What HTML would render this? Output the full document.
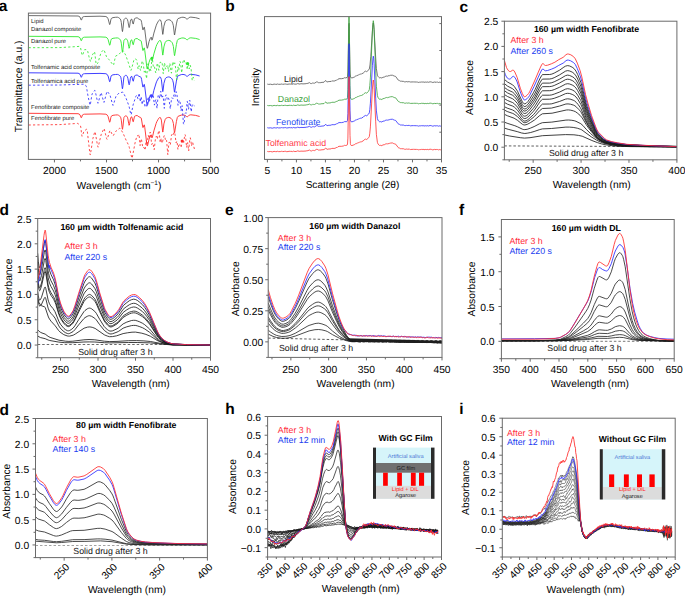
<!DOCTYPE html><html><head><meta charset="utf-8"><style>html,body{margin:0;padding:0;background:#fff;}svg{display:block;font-family:"Liberation Sans", sans-serif;text-rendering:geometricPrecision;}</style></head><body>
<svg width="685" height="596" viewBox="0 0 685 596">
<rect width="685" height="596" fill="#fff"/>
<text x="-1.2" y="10.6" font-size="15.5" font-weight="bold">a</text>
<text x="225.2" y="10.5" font-size="15.5" font-weight="bold">b</text>
<text x="459.6" y="11.8" font-size="15.5" font-weight="bold">c</text>
<text x="-0.5" y="215.2" font-size="15.5" font-weight="bold">d</text>
<text x="225" y="214.9" font-size="15.5" font-weight="bold">e</text>
<text x="459" y="214.6" font-size="15.5" font-weight="bold">f</text>
<text x="-0.5" y="414.7" font-size="15.5" font-weight="bold">d</text>
<text x="225.3" y="414.2" font-size="15.5" font-weight="bold">h</text>
<text x="459.2" y="413.9" font-size="15.5" font-weight="bold">i</text>
<clipPath id="ca"><rect x="28.4" y="13.1" width="182.2" height="146.3"/></clipPath>
<polyline points="28.6,15.6 78.0,16.0 79.0,16.3 80.0,17.1 81.2,20.1 81.4,20.0 81.7,19.5 82.4,17.3 83.2,16.8 84.4,16.5 100.0,16.2 105.9,16.5 106.9,17.0 108.1,18.8 109.6,24.5 109.8,24.5 110.1,23.8 110.8,19.9 111.3,18.5 112.0,18.0 113.0,17.6 115.4,17.3 117.4,17.2 118.6,17.6 119.8,18.5 120.3,19.0 120.8,20.1 121.3,22.5 122.1,29.5 122.3,31.1 122.5,31.6 123.0,28.3 123.8,20.6 124.0,19.6 124.7,18.7 125.5,18.2 126.2,18.1 126.7,18.5 127.4,19.5 127.9,21.2 128.7,25.9 129.1,27.6 129.4,27.3 129.6,26.2 130.4,21.2 130.9,19.6 131.8,19.1 132.8,23.2 133.1,24.0 133.3,24.0 134.5,18.7 135.8,18.0 137.2,17.8 138.9,19.1 140.4,19.7 141.1,20.2 141.6,22.3 142.8,29.7 143.1,29.9 144.1,27.2 144.3,27.2 144.8,29.9 146.8,46.3 147.2,48.3 147.5,48.1 147.7,47.4 149.0,41.7 150.4,38.0 151.2,37.1 151.4,37.4 151.9,40.2 152.4,39.5 153.9,33.1 156.1,25.8 156.8,24.0 158.0,21.8 158.7,20.6 159.5,19.9 160.0,19.7 160.5,20.0 161.4,22.4 162.7,34.3 162.9,34.4 163.1,33.0 163.9,26.2 165.1,22.0 165.6,21.0 166.1,20.5 167.6,19.9 168.8,19.7 170.0,20.0 171.2,20.8 172.0,21.7 172.7,23.2 173.4,25.8 174.2,32.8 174.4,34.5 174.6,35.0 176.4,23.9 177.3,19.8 178.1,18.6 181.3,17.4 183.0,17.2 185.2,17.7 186.6,18.9 187.4,19.2 188.8,17.7 189.8,17.3 190.8,17.1 195.7,17.7 199.6,18.8" fill="none" stroke="#4a4a4a" stroke-width="0.8" stroke-linejoin="round"/>
<polyline points="28.6,36.3 78.0,36.7 79.0,37.0 80.0,37.8 81.2,40.8 81.4,40.7 81.7,40.2 82.4,38.0 83.2,37.5 84.4,37.2 100.0,36.9 105.9,37.2 106.9,37.7 108.1,39.5 109.6,45.2 109.8,45.2 110.1,44.5 110.8,40.6 111.3,39.2 112.0,38.7 113.0,38.3 115.4,38.0 117.4,37.9 118.6,38.3 119.8,39.2 120.3,39.7 120.8,40.8 121.3,43.2 122.1,50.2 122.3,51.8 122.5,52.3 123.0,49.0 123.8,41.3 124.0,40.3 124.7,39.4 125.5,38.9 126.2,38.8 126.7,39.2 127.4,40.2 127.9,41.9 128.7,46.6 129.1,48.3 129.4,48.0 129.6,46.9 130.4,41.9 130.9,40.3 131.8,39.8 132.8,43.9 133.1,44.7 133.3,44.7 134.5,39.4 135.8,38.7 137.2,38.5 138.9,39.8 140.4,40.4 141.1,40.9 141.6,43.0 142.8,50.4 143.1,50.6 144.1,47.9 144.3,47.9 144.8,50.6 146.8,67.0 147.2,69.0 147.5,68.8 147.7,68.1 149.0,62.4 150.4,58.7 151.2,57.8 151.4,58.1 151.9,60.9 152.4,60.2 153.9,53.8 156.1,46.5 156.8,44.7 158.0,42.5 158.7,41.3 159.5,40.6 160.0,40.4 160.5,40.7 161.4,43.1 162.7,55.0 162.9,55.1 163.1,53.7 163.9,46.9 165.1,42.7 165.6,41.7 166.1,41.2 167.6,40.6 168.8,40.4 170.0,40.7 171.2,41.5 172.0,42.4 172.7,43.9 173.4,46.5 174.2,53.5 174.4,55.2 174.6,55.7 176.4,44.6 177.3,40.5 178.1,39.3 181.3,38.1 183.0,37.9 185.2,38.4 186.6,39.6 187.4,39.9 188.8,38.4 189.8,38.0 190.8,37.8 195.7,38.4 199.6,39.5" fill="none" stroke="#2ee82e" stroke-width="0.9" stroke-linejoin="round"/>
<polyline points="28.6,72.8 78.0,73.2 79.0,73.5 80.0,74.3 81.2,77.3 81.4,77.2 81.7,76.7 82.4,74.5 83.2,74.0 84.4,73.7 100.0,73.4 105.9,73.7 106.9,74.2 108.1,76.0 109.6,81.7 109.8,81.7 110.1,81.0 110.8,77.1 111.3,75.7 112.0,75.2 113.0,74.8 115.4,74.5 117.4,74.4 118.6,74.8 119.8,75.7 120.3,76.2 120.8,77.3 121.3,79.7 122.1,86.7 122.3,88.3 122.5,88.8 123.0,85.5 123.8,77.8 124.0,76.8 124.7,75.9 125.5,75.4 126.2,75.3 126.7,75.7 127.4,76.7 127.9,78.4 128.7,83.1 129.1,84.8 129.4,84.5 129.6,83.4 130.4,78.4 130.9,76.8 131.8,76.3 132.8,80.4 133.1,81.2 133.3,81.2 134.5,75.9 135.8,75.2 137.2,75.0 138.9,76.3 140.4,76.9 141.1,77.4 141.6,79.5 142.8,86.9 143.1,87.1 144.1,84.4 144.3,84.4 144.8,87.1 146.8,103.5 147.2,105.5 147.5,105.3 147.7,104.6 149.0,98.9 150.4,95.2 151.2,94.3 151.4,94.6 151.9,97.4 152.4,96.7 153.9,90.3 156.1,83.0 156.8,81.2 158.0,79.0 158.7,77.8 159.5,77.1 160.0,76.9 160.5,77.2 161.4,79.6 162.7,91.5 162.9,91.6 163.1,90.2 163.9,83.4 165.1,79.2 165.6,78.2 166.1,77.7 167.6,77.1 168.8,76.9 170.0,77.2 171.2,78.0 172.0,78.9 172.7,80.4 173.4,83.0 174.2,90.0 174.4,91.7 174.6,92.2 176.4,81.1 177.3,77.0 178.1,75.8 181.3,74.6 183.0,74.4 185.2,74.9 186.6,76.1 187.4,76.4 188.8,74.9 189.8,74.5 190.8,74.3 195.7,74.9 199.6,76.0" fill="none" stroke="#2a2aff" stroke-width="0.9" stroke-linejoin="round"/>
<polyline points="28.6,113.3 78.0,113.7 79.0,114.0 80.0,114.8 81.2,117.8 81.4,117.7 81.7,117.2 82.4,115.0 83.2,114.5 84.4,114.2 100.0,113.9 105.9,114.2 106.9,114.7 108.1,116.5 109.6,122.2 109.8,122.2 110.1,121.5 110.8,117.6 111.3,116.2 112.0,115.7 113.0,115.3 115.4,115.0 117.4,114.9 118.6,115.3 119.8,116.2 120.3,116.7 120.8,117.8 121.3,120.2 122.1,127.2 122.3,128.8 122.5,129.3 123.0,126.0 123.8,118.3 124.0,117.3 124.7,116.4 125.5,115.9 126.2,115.8 126.7,116.2 127.4,117.2 127.9,118.9 128.7,123.6 129.1,125.3 129.4,125.0 129.6,123.9 130.4,118.9 130.9,117.3 131.8,116.8 132.8,120.9 133.1,121.7 133.3,121.7 134.5,116.4 135.8,115.7 137.2,115.5 138.9,116.8 140.4,117.4 141.1,117.9 141.6,120.0 142.8,127.4 143.1,127.6 144.1,124.9 144.3,124.9 144.8,127.6 146.8,144.0 147.2,146.0 147.5,145.8 147.7,145.1 149.0,139.4 150.4,135.7 151.2,134.8 151.4,135.1 151.9,137.9 152.4,137.2 153.9,130.8 156.1,123.5 156.8,121.7 158.0,119.5 158.7,118.3 159.5,117.6 160.0,117.4 160.5,117.7 161.4,120.1 162.7,132.0 162.9,132.1 163.1,130.7 163.9,123.9 165.1,119.7 165.6,118.7 166.1,118.2 167.6,117.6 168.8,117.4 170.0,117.7 171.2,118.5 172.0,119.4 172.7,120.9 173.4,123.5 174.2,130.5 174.4,132.2 174.6,132.7 176.4,121.6 177.3,117.5 178.1,116.3 181.3,115.1 183.0,114.9 185.2,115.4 186.6,116.6 187.4,116.9 188.8,115.4 189.8,115.0 190.8,114.8 195.7,115.4 199.6,116.5" fill="none" stroke="#ff2a2a" stroke-width="0.9" stroke-linejoin="round"/>
<polyline points="28.6,47.7 60.0,47.6 79.2,46.4 80.1,47.2 80.6,48.0 81.9,54.3 82.4,55.4 82.6,55.1 84.3,50.4 84.7,49.6 85.0,49.6 87.2,49.9 87.3,50.1 87.7,51.2 89.3,58.0 90.4,61.4 90.5,61.5 90.7,61.3 90.8,61.0 92.4,54.9 94.4,51.7 94.5,51.9 94.8,53.0 96.0,63.2 96.3,64.3 96.5,64.5 97.6,63.4 98.0,62.6 101.0,52.7 101.3,52.2 103.6,49.7 104.1,50.1 106.3,56.2 106.7,57.1 109.0,59.6 113.3,65.3 113.7,64.5 115.3,57.2 115.7,56.0 115.8,55.9 118.3,55.0 121.2,51.9 122.7,50.6 123.0,50.5 123.4,51.0 125.8,55.3 130.9,70.3 131.0,70.3 131.1,70.2 131.3,69.8 133.8,60.4 134.3,59.3 135.3,58.8 135.6,58.8 136.8,60.4 138.1,69.0 139.0,65.7 139.2,65.7 140.0,68.3 140.3,69.8 140.5,70.4 140.7,70.4 141.1,69.5 141.9,62.1 142.2,60.9 142.3,61.0 143.2,63.5 144.3,72.2 145.2,70.3 145.4,70.1 145.5,70.5 146.1,75.8 146.6,78.6 147.7,64.4 147.9,63.8 148.1,64.8 149.0,71.5 149.1,71.5 149.8,68.1 150.1,68.2 150.8,70.8 150.9,70.6 152.0,57.7 152.3,58.0 153.4,67.4 153.5,67.4 154.1,66.8 154.5,66.7 155.5,72.2 155.7,72.9 156.3,72.0 157.0,64.9 157.4,63.1 157.7,63.8 158.8,70.3 159.2,68.4 160.0,62.4 160.7,62.2 161.1,63.4 161.3,63.1 162.1,62.9 162.2,63.4 163.2,73.7 163.3,73.7 164.3,63.3 164.4,62.8 164.9,64.5 165.4,68.7 165.6,69.1 166.5,65.9 166.9,66.4 167.1,66.4 167.5,65.3 167.6,65.5 168.6,71.6 169.3,65.7 169.7,63.3 169.8,63.4 170.4,65.7 170.9,71.1 171.4,73.2 171.5,73.1 172.6,61.8 172.9,61.9 173.0,62.2 173.7,65.1 174.7,62.8 174.8,62.8 175.2,64.9 175.6,68.1 176.3,77.4 176.7,79.8 177.9,66.9 178.0,66.8 178.1,67.3 178.7,70.3 178.8,70.4 179.8,62.0 179.9,61.3 180.2,61.6 180.5,62.2 180.6,63.0 181.6,72.3 181.7,72.8 182.1,69.7 182.8,62.7 183.7,59.4 183.8,59.4 184.2,60.3 184.8,63.2 185.9,62.6 186.1,62.9 187.3,69.5 188.1,63.9 188.4,63.7 188.5,64.2 189.2,68.9 190.3,65.2 191.1,68.9 192.2,80.2 193.2,77.2 193.3,77.2 194.3,80.6" fill="none" stroke="#2ee82e" stroke-width="0.85" stroke-dasharray="2.2 2.2" stroke-linejoin="round"/>
<polyline points="28.6,85.2 59.9,85.0 83.9,84.2 86.0,85.7 86.4,86.6 88.2,97.1 89.9,104.6 90.0,105.0 90.2,105.1 90.4,104.3 91.7,96.0 92.1,94.1 92.4,93.5 94.7,90.4 95.0,90.5 95.3,91.4 97.6,102.3 97.9,103.2 98.1,103.2 98.3,102.7 100.7,93.2 101.0,92.7 101.1,92.7 101.4,93.4 103.7,102.0 103.9,102.3 104.0,102.4 104.1,102.2 106.8,92.0 107.1,91.4 107.2,91.3 109.7,94.6 110.0,95.1 112.7,105.0 113.0,105.4 113.3,105.1 115.8,96.8 116.2,95.9 119.1,93.0 122.8,92.1 123.2,92.5 125.9,97.8 128.6,105.0 129.2,106.9 130.7,114.1 131.0,114.7 131.3,114.1 133.1,104.9 135.8,96.5 136.2,95.8 136.8,95.2 136.9,95.2 137.9,98.8 138.0,98.8 139.0,93.4 139.2,93.2 140.3,101.8 141.0,97.4 141.1,96.8 141.2,96.9 142.2,104.6 143.3,99.5 143.9,100.4 145.0,106.8 145.8,104.9 146.1,105.1 146.8,106.5 146.9,106.2 147.9,98.7 148.4,96.7 148.8,98.1 149.5,101.7 150.5,94.8 150.6,94.5 151.6,98.7 152.2,95.6 152.7,94.1 153.3,96.1 154.4,105.1 154.9,103.3 155.5,100.2 155.9,99.5 157.0,108.3 158.1,95.8 158.7,94.7 159.8,98.5 160.7,91.3 160.9,91.3 161.8,98.1 162.8,96.0 163.0,95.9 163.2,96.7 164.3,108.4 165.4,96.1 166.1,94.8 166.8,97.0 167.2,99.3 168.3,97.5 169.2,100.3 169.9,106.4 170.3,108.8 171.5,98.9 171.9,97.8 172.1,97.8 172.6,98.3 173.1,98.8 173.9,94.9 174.2,94.5 175.0,96.8 176.1,91.6 176.2,91.7 176.9,93.8 178.0,105.3 178.2,105.1 179.1,100.3 179.3,100.4 179.8,101.1 180.0,101.4 181.1,110.8 181.8,106.6 182.0,105.7 182.2,105.7 183.4,123.5 183.8,124.3 184.1,123.2 184.3,121.9 185.0,113.6 185.8,112.7 186.1,113.3 187.2,101.4 187.3,101.3 187.4,101.8 188.4,109.4 188.6,109.0 189.5,100.3 189.7,100.1 189.9,100.6 191.2,111.8 192.3,104.2 194.5,105.9" fill="none" stroke="#2a2aff" stroke-width="0.85" stroke-dasharray="2.2 2.2" stroke-linejoin="round"/>
<polyline points="28.6,125.0 59.9,124.6 77.7,123.4 78.0,123.5 80.5,125.9 80.9,127.8 81.7,134.7 82.0,136.1 82.1,136.3 82.3,136.1 83.7,132.0 84.1,131.1 84.4,130.8 86.7,129.2 86.9,129.3 87.3,131.3 89.9,153.6 90.2,154.9 90.3,154.9 90.4,154.5 92.9,138.6 94.7,131.9 94.9,131.7 95.0,131.8 95.3,132.7 97.6,146.0 97.8,146.6 98.1,147.2 98.3,146.5 101.1,134.8 103.9,128.5 104.0,128.5 104.3,129.1 106.6,138.6 106.8,139.0 107.1,139.4 107.3,138.9 109.7,131.1 110.0,130.5 110.2,130.5 110.4,130.7 112.7,135.5 113.0,135.7 113.3,135.5 115.8,131.4 116.2,130.9 119.6,128.3 119.9,128.2 120.2,128.4 123.0,133.0 126.0,140.0 128.8,145.6 129.3,147.4 131.7,157.6 132.0,158.2 132.1,158.1 132.4,157.0 135.0,143.1 136.9,136.0 137.6,135.8 138.0,136.0 138.3,135.2 139.0,134.3 140.1,145.6 141.2,138.8 141.6,140.1 142.8,147.6 144.0,147.4 145.1,150.1 146.1,140.8 146.2,140.5 146.3,140.8 147.2,144.6 148.1,135.8 148.3,135.3 149.1,138.5 149.8,133.8 150.2,132.1 150.6,134.2 151.6,144.1 151.7,144.5 152.7,143.0 153.1,143.5 154.2,149.7 155.5,138.2 156.3,136.3 157.4,139.0 158.5,131.1 158.9,130.5 159.1,131.0 160.2,142.5 161.2,138.5 161.3,138.6 161.8,142.0 162.3,143.2 163.5,137.5 164.3,135.5 164.5,135.6 164.9,136.9 165.6,141.3 166.6,140.4 167.8,154.7 168.9,143.0 169.2,142.1 169.3,142.0 170.3,144.7 170.4,144.3 171.5,135.1 172.1,134.2 172.2,134.2 173.2,135.4 173.9,132.7 174.3,132.0 174.9,133.6 175.0,134.3 176.0,142.5 176.1,142.9 176.8,141.2 176.9,141.3 177.1,142.0 177.9,149.3 178.0,149.4 179.0,143.8 179.1,143.6 179.7,144.5 180.0,144.7 180.2,145.7 181.1,147.6 182.2,141.0 182.6,140.0 183.7,142.4 184.8,134.7 185.0,134.5 185.2,134.7 185.5,135.7 186.6,147.4 187.6,142.6 188.7,151.0 189.8,138.8 190.2,137.8 190.3,137.8 190.8,140.1 191.5,145.9 192.4,142.2 192.6,142.1 194.5,149.3" fill="none" stroke="#ff2a2a" stroke-width="0.85" stroke-dasharray="2.2 2.2" stroke-linejoin="round"/>
<circle cx="187.6" cy="63.5" r="1.6" fill="#2ee82e"/><circle cx="152" cy="58" r="1.3" fill="#2ee82e"/><circle cx="182.2" cy="141" r="1.6" fill="#ff2a2a"/>
<rect x="28.4" y="13.1" width="182.2" height="146.3" fill="none" stroke="#6a6a6a" stroke-width="1"/>
<path d="M54.43 159.4v3 M106.49 159.4v3 M158.54 159.4v3 M210.6 159.4v3 M80.46 159.4v2 M132.51 159.4v2 M184.57 159.4v2" stroke="#6a6a6a" stroke-width="1" fill="none"/>
<text x="54.43" y="174.1" text-anchor="middle" font-size="10.3">2000</text>
<text x="106.49" y="174.1" text-anchor="middle" font-size="10.3">1500</text>
<text x="158.54" y="174.1" text-anchor="middle" font-size="10.3">1000</text>
<text x="210.6" y="174.1" text-anchor="middle" font-size="10.3">500</text>
<text x="31.1" y="22.7" font-size="5.9" fill="#222">Lipid</text>
<text x="31.1" y="31" font-size="5.9" fill="#222">Danazol composite</text>
<text x="31.1" y="43.1" font-size="5.9" fill="#222">Danazol pure</text>
<text x="31.1" y="68.7" font-size="5.9" fill="#222">Tolfenamic acid composite</text>
<text x="31.1" y="82.5" font-size="5.9" fill="#222">Tolfenamica acid pure</text>
<text x="31.1" y="108.7" font-size="5.9" fill="#222">Fenofibrate composite</text>
<text x="31.1" y="120.4" font-size="5.9" fill="#222">Fenofibrate pure</text>
<text transform="translate(22,86.4) rotate(-90)" text-anchor="middle" font-size="10.3">Transmittance (a.u.)</text>
<text x="119" y="188.6" text-anchor="middle" font-size="10.3">Wavelength (cm<tspan dy="-4" font-size="6.5">−1</tspan><tspan dy="4">)</tspan></text>
<clipPath id="cb"><rect x="264.5" y="16.6" width="177" height="142.8"/></clipPath>
<polyline points="267.3,84.1 268.7,84.4 270.6,84.2 272.3,84.6 274.1,84.1 275.5,84.3 276.0,84.5 277.4,84.0 278.4,84.3 280.3,84.3 281.5,84.0 282.4,84.3 282.6,84.1 284.0,84.3 284.4,84.1 285.8,84.0 286.3,84.2 288.1,84.3 289.1,83.9 289.2,84.1 290.2,83.9 290.6,84.2 292.0,84.0 292.4,84.2 292.7,84.2 293.7,83.8 294.9,84.2 296.8,84.0 297.6,83.6 299.9,84.1 300.9,83.7 303.0,83.9 306.1,83.7 306.9,83.4 307.9,83.4 309.4,82.6 310.2,83.3 311.4,83.6 312.4,83.0 312.7,83.2 313.1,83.3 313.5,83.1 314.5,83.2 316.6,81.9 317.2,81.9 318.6,82.7 319.5,82.6 319.9,82.9 320.9,82.5 324.0,82.2 325.0,81.1 325.8,80.5 326.5,81.3 326.7,81.8 327.1,82.0 328.1,81.6 329.1,81.7 330.0,81.3 331.0,81.6 331.6,81.0 333.1,80.9 334.1,81.2 335.1,80.5 335.9,80.6 336.4,80.0 337.2,80.0 337.8,79.4 339.0,78.7 341.7,78.7 343.6,78.3 344.6,77.7 345.6,77.9 347.1,77.5 347.5,76.8 347.9,72.0 348.9,24.9 349.1,23.3 350.0,69.8 350.2,74.0 350.6,77.2 351.2,77.9 353.1,77.7 353.9,77.1 354.7,76.9 355.7,76.0 356.3,76.1 356.8,75.5 357.8,75.3 358.2,74.9 358.6,74.9 359.4,74.4 359.7,74.5 360.5,74.1 361.5,74.0 361.7,73.8 363.2,73.1 365.0,71.3 365.6,71.1 366.4,71.6 366.9,71.5 368.9,69.7 369.3,69.1 370.0,64.9 370.8,56.4 372.6,27.8 373.0,24.1 373.3,23.0 373.7,24.9 374.1,29.5 375.7,58.0 376.4,68.7 377.4,75.2 378.0,76.4 378.8,77.3 379.4,77.8 380.3,77.6 381.9,78.0 382.9,77.3 384.4,77.0 385.2,76.4 386.0,76.4 386.4,76.1 387.5,76.2 389.1,75.5 389.3,75.7 390.4,75.3 392.4,75.2 393.0,75.7 393.3,75.8 393.9,75.5 394.3,76.1 394.9,76.4 395.1,76.3 395.7,76.5 398.2,80.0 398.8,80.4 399.0,80.3 399.4,80.6 399.8,80.6 400.7,81.3 401.5,81.2 403.1,81.4 403.3,81.3 404.2,81.8 404.8,81.8 405.8,81.8 406.7,81.5 406.9,81.8 407.7,81.8 408.1,81.6 409.1,81.9 409.3,81.7 410.0,81.8 410.4,82.0 413.5,81.9 413.9,82.1 414.9,81.9 416.1,82.1 416.5,82.0 417.6,82.1 418.4,82.4 419.0,82.3 419.2,82.1 419.6,82.2 420.0,81.9 420.1,82.1 420.9,82.2 421.5,82.0 422.1,82.2 423.1,81.8 424.0,82.4 425.2,82.0 426.2,82.3 427.1,81.9 428.3,82.3 430.1,81.8 431.4,82.0 432.8,82.5 434.5,82.0 436.1,82.3 436.3,82.1 437.6,82.1 438.6,82.5 439.8,82.1 440.7,82.4 441.5,81.9 441.9,82.1" fill="none" stroke="#555555" stroke-width="0.8" clip-path="url(#cb)" stroke-linejoin="round"/>
<polyline points="267.3,105.4 268.7,105.7 270.6,105.5 272.3,105.9 274.1,105.4 275.5,105.6 276.0,105.8 277.4,105.3 278.4,105.6 280.3,105.6 281.5,105.3 282.4,105.6 282.6,105.4 284.0,105.6 284.4,105.4 285.8,105.3 286.3,105.5 288.1,105.6 289.1,105.2 289.2,105.4 290.2,105.2 290.6,105.5 292.0,105.3 292.4,105.5 292.7,105.6 293.7,105.1 294.9,105.5 296.8,105.3 297.6,104.9 299.9,105.4 300.9,105.0 303.0,105.2 306.1,105.0 306.9,104.7 307.9,104.7 309.4,104.0 310.2,104.6 311.4,104.9 312.4,104.3 312.7,104.6 313.1,104.6 313.5,104.4 314.5,104.5 316.6,103.2 317.2,103.3 318.6,104.0 319.5,104.0 319.9,104.2 320.9,103.8 324.0,103.6 325.0,102.5 325.8,101.9 326.5,102.7 326.7,103.2 327.1,103.3 328.1,102.9 329.1,103.1 330.0,102.7 331.0,102.9 331.6,102.4 333.1,102.2 334.1,102.5 335.1,101.9 335.9,102.0 336.4,101.4 337.2,101.4 337.8,100.8 339.0,100.2 341.7,100.1 343.6,99.7 344.6,99.2 346.3,99.2 347.1,98.9 347.5,97.5 347.9,89.3 348.9,7.8 349.1,4.9 350.0,85.3 350.4,96.7 350.6,98.3 351.0,99.1 351.6,99.3 353.1,99.1 353.9,98.5 354.7,98.3 355.7,97.5 356.3,97.5 356.8,96.9 357.8,96.7 358.2,96.3 358.6,96.4 359.4,95.9 359.7,96.0 360.5,95.6 361.5,95.5 361.7,95.3 363.2,94.6 364.2,93.5 365.4,92.7 366.7,93.1 368.5,91.4 369.3,89.6 369.8,85.6 370.4,77.9 372.4,31.9 373.0,22.5 373.3,20.7 373.7,23.3 374.1,29.8 375.7,70.9 376.4,86.3 377.4,95.6 378.0,97.4 378.8,98.7 379.4,99.2 380.1,99.2 380.3,99.1 381.9,99.5 382.9,98.7 384.4,98.4 385.2,97.9 386.0,97.8 386.4,97.5 387.5,97.7 387.9,97.5 388.1,97.6 389.1,97.0 389.3,97.1 390.4,96.8 392.4,96.6 393.0,97.2 393.3,97.2 393.9,97.0 394.3,97.6 394.9,97.9 395.1,97.7 395.7,97.9 398.2,101.3 398.8,101.7 399.0,101.7 399.4,102.0 399.8,102.0 400.7,102.7 401.5,102.6 403.1,102.8 403.3,102.6 404.2,103.1 404.8,103.2 405.8,103.2 406.7,102.9 406.9,103.1 407.7,103.1 408.1,102.9 409.1,103.2 409.3,103.1 410.0,103.2 410.4,103.4 413.5,103.3 413.9,103.4 414.9,103.2 416.1,103.4 416.5,103.3 417.6,103.4 418.4,103.8 419.0,103.7 419.2,103.5 419.6,103.5 420.0,103.2 420.1,103.4 420.9,103.6 421.5,103.3 422.1,103.5 423.1,103.1 424.0,103.8 425.2,103.4 426.2,103.7 427.1,103.3 428.3,103.6 430.1,103.1 431.4,103.3 432.8,103.8 434.5,103.4 436.1,103.6 436.3,103.4 437.6,103.4 438.6,103.8 439.8,103.4 440.7,103.8 441.5,103.3 441.9,103.5" fill="none" stroke="#3aa03a" stroke-width="0.8" clip-path="url(#cb)" stroke-linejoin="round"/>
<polyline points="267.3,127.7 268.7,128.0 270.6,127.8 272.3,128.2 274.1,127.7 275.5,127.9 276.0,128.1 277.4,127.6 278.4,127.9 280.3,127.9 281.5,127.6 282.4,127.9 282.6,127.7 284.0,127.9 284.4,127.7 285.8,127.6 286.3,127.9 288.1,127.9 289.1,127.5 289.2,127.7 290.2,127.5 290.6,127.8 292.0,127.6 292.4,127.8 292.7,127.9 293.7,127.4 294.9,127.9 296.8,127.6 297.6,127.2 299.9,127.7 300.9,127.4 303.0,127.5 306.1,127.3 306.9,127.0 307.9,127.0 309.4,126.3 310.2,126.9 311.4,127.3 312.4,126.7 312.7,126.9 313.1,126.9 313.5,126.7 314.5,126.9 316.6,125.6 317.2,125.6 318.6,126.4 319.5,126.3 319.9,126.5 320.9,126.2 324.0,125.9 325.8,124.3 326.5,125.1 326.7,125.5 327.1,125.7 328.1,125.3 329.1,125.4 330.0,125.1 331.0,125.3 331.6,124.8 333.1,124.6 334.1,124.9 335.1,124.3 335.9,124.4 336.4,123.8 337.2,123.8 337.8,123.2 339.0,122.6 341.7,122.6 343.6,122.2 344.6,121.6 346.3,121.7 347.1,121.4 347.5,120.3 347.9,113.5 348.9,46.0 349.1,43.7 350.0,110.2 350.4,119.7 350.6,120.9 351.2,121.8 353.1,121.6 353.9,121.0 354.7,120.8 355.7,120.0 356.3,120.1 356.8,119.5 357.8,119.3 358.2,118.9 358.6,119.0 359.4,118.5 359.7,118.6 360.5,118.2 361.5,118.2 361.7,117.9 363.2,117.2 364.2,116.1 365.4,115.4 366.7,115.8 368.7,114.0 369.3,112.9 369.8,109.5 370.4,103.2 372.4,65.3 373.0,57.6 373.3,56.2 373.7,58.3 374.1,63.8 375.7,98.1 376.4,110.9 377.4,118.6 378.0,120.2 378.8,121.2 379.4,121.7 380.1,121.7 380.3,121.6 381.9,122.0 382.9,121.2 384.4,121.0 385.2,120.4 386.0,120.3 386.4,120.1 387.5,120.2 387.9,120.0 388.1,120.1 389.1,119.6 389.3,119.7 390.4,119.4 392.4,119.2 393.0,119.7 393.3,119.8 393.9,119.6 394.3,120.1 394.9,120.4 395.1,120.3 395.7,120.5 398.2,123.8 398.8,124.2 399.0,124.1 399.4,124.4 399.8,124.4 400.7,125.1 401.5,125.0 403.1,125.1 403.3,125.0 404.2,125.5 404.8,125.5 405.8,125.6 406.7,125.3 406.9,125.5 407.7,125.5 408.1,125.3 409.1,125.6 409.3,125.4 410.0,125.5 410.4,125.8 413.5,125.6 413.9,125.8 414.9,125.6 416.1,125.8 416.5,125.7 417.6,125.8 418.4,126.1 419.0,126.0 419.2,125.8 419.6,125.9 420.0,125.6 420.1,125.8 420.9,125.9 421.5,125.7 422.1,125.9 423.1,125.5 424.0,126.1 425.2,125.7 426.2,126.0 427.1,125.6 428.3,126.0 430.1,125.5 431.4,125.7 432.8,126.2 434.5,125.7 436.1,126.0 436.3,125.8 437.6,125.8 438.6,126.2 439.8,125.8 440.7,126.1 441.5,125.6 441.9,125.8" fill="none" stroke="#2a2aff" stroke-width="0.8" clip-path="url(#cb)" stroke-linejoin="round"/>
<polyline points="267.3,151.4 268.7,151.7 270.6,151.5 272.3,151.9 274.1,151.4 275.5,151.6 276.0,151.8 277.4,151.3 278.4,151.6 280.3,151.6 281.5,151.3 282.4,151.6 282.6,151.4 284.0,151.6 284.4,151.4 285.8,151.3 286.3,151.6 288.1,151.6 289.1,151.2 289.2,151.4 290.2,151.2 290.6,151.5 292.0,151.3 292.4,151.5 292.7,151.6 293.7,151.1 294.9,151.6 296.8,151.3 297.6,150.9 299.9,151.4 300.9,151.1 303.0,151.2 306.1,151.0 306.9,150.7 307.9,150.7 309.4,150.0 310.2,150.6 311.4,151.0 312.4,150.4 312.7,150.6 313.1,150.6 313.5,150.4 314.5,150.6 316.6,149.3 317.2,149.3 318.6,150.1 319.5,150.0 319.9,150.2 320.9,149.9 324.0,149.6 325.8,148.0 326.5,148.8 326.7,149.2 327.1,149.4 328.1,149.0 329.1,149.1 330.0,148.8 331.0,149.0 331.6,148.5 333.1,148.3 334.1,148.6 335.1,148.0 335.9,148.1 336.4,147.5 337.2,147.5 337.8,146.9 339.0,146.3 341.7,146.3 343.6,145.9 344.6,145.3 345.6,145.5 346.3,145.4 347.1,145.1 347.5,144.1 347.9,138.1 348.9,78.7 349.1,76.6 350.0,135.3 350.4,143.6 350.6,144.7 351.2,145.5 353.1,145.3 353.9,144.7 354.7,144.5 355.7,143.7 356.3,143.8 356.8,143.2 357.8,143.0 358.2,142.6 358.6,142.7 359.4,142.2 359.7,142.3 360.5,141.9 361.5,141.9 361.7,141.6 363.2,140.9 364.2,139.8 365.4,139.1 366.7,139.5 368.7,137.7 369.3,136.6 369.8,133.2 370.4,126.9 372.4,89.1 373.0,81.3 373.3,80.0 373.7,82.1 374.1,87.6 375.7,121.8 376.4,134.6 377.4,142.4 378.0,143.9 378.8,144.9 379.4,145.4 380.1,145.4 380.3,145.3 381.9,145.7 382.9,144.9 384.4,144.7 385.2,144.1 386.0,144.0 386.4,143.8 387.5,143.9 387.9,143.7 388.1,143.8 389.1,143.3 389.3,143.4 390.4,143.1 392.4,142.9 393.0,143.4 393.3,143.5 393.9,143.3 394.3,143.8 394.9,144.1 395.1,144.0 395.7,144.2 398.2,147.5 398.8,147.9 399.0,147.8 399.4,148.1 399.8,148.1 400.7,148.8 401.5,148.7 403.1,148.8 403.3,148.7 404.2,149.2 404.8,149.2 405.8,149.3 406.7,149.0 406.9,149.2 407.7,149.2 408.1,149.0 409.1,149.3 409.3,149.1 410.0,149.2 410.4,149.5 413.5,149.3 413.9,149.5 414.9,149.3 416.1,149.5 416.5,149.4 417.6,149.5 418.4,149.8 419.0,149.7 419.2,149.5 419.6,149.6 420.0,149.3 420.1,149.5 420.9,149.6 421.5,149.4 422.1,149.6 423.1,149.2 424.0,149.8 425.2,149.4 426.2,149.7 427.1,149.3 428.3,149.7 430.1,149.2 431.4,149.4 432.8,149.9 434.5,149.4 436.1,149.7 436.3,149.5 437.6,149.5 438.6,149.9 439.8,149.5 440.7,149.8 441.5,149.3 441.9,149.5" fill="none" stroke="#ff3030" stroke-width="0.8" clip-path="url(#cb)" stroke-linejoin="round"/>
<rect x="264.5" y="16.6" width="177" height="142.8" fill="none" stroke="#6a6a6a" stroke-width="1"/>
<path d="M267.4 159.4v3 M296.42 159.4v3 M325.43 159.4v3 M354.45 159.4v3 M383.47 159.4v3 M412.48 159.4v3 M441.5 159.4v3 M281.91 159.4v2 M310.93 159.4v2 M339.94 159.4v2 M368.96 159.4v2 M397.98 159.4v2 M426.99 159.4v2" stroke="#6a6a6a" stroke-width="1" fill="none"/>
<text x="267.4" y="174.2" text-anchor="middle" font-size="10.3">5</text>
<text x="296.42" y="174.2" text-anchor="middle" font-size="10.3">10</text>
<text x="325.43" y="174.2" text-anchor="middle" font-size="10.3">15</text>
<text x="354.45" y="174.2" text-anchor="middle" font-size="10.3">20</text>
<text x="383.47" y="174.2" text-anchor="middle" font-size="10.3">25</text>
<text x="412.48" y="174.2" text-anchor="middle" font-size="10.3">30</text>
<text x="441.5" y="174.2" text-anchor="middle" font-size="10.3">35</text>
<path d="M441.3 23.6h-2 M441.3 50.5h-2 M441.3 78.2h-2 M441.3 105.1h-2 M441.3 132.2h-2" stroke="#6a6a6a" stroke-width="1"/>
<text x="284.1" y="81.9" font-size="8.8" fill="#222">Lipid</text>
<text x="277.8" y="102" font-size="8.8" fill="#3aa03a">Danazol</text>
<text x="276" y="125.4" font-size="8.8" fill="#2a50f0">Fenofibrate</text>
<text x="265.5" y="146.1" font-size="8.8" fill="#ff3a4a">Tolfenamic acid</text>
<text transform="translate(258.6,87) rotate(-90)" text-anchor="middle" font-size="10.3">Intensity</text>
<text x="352.5" y="187.8" font-size="10.1" text-anchor="middle">Scattering angle (2θ)</text>
<clipPath id="cc"><rect x="504.4" y="21.2" width="172.5" height="138.6"/></clipPath>
<polyline points="504.4,145.9 676.9,146.7" fill="none" stroke="#333" stroke-width="0.8" stroke-dasharray="2.5 2" stroke-linejoin="round"/>
<polyline points="504.4,134.9 509.6,136.0 520.3,137.7 524.5,138.1 530.0,137.7 542.4,135.7 565.6,134.6 573.9,134.8 578.4,135.4 582.2,136.2 591.9,140.5 597.4,142.6 601.2,143.8 605.0,144.7 612.6,145.8 618.8,146.3 630.2,146.6 676.9,147.0" fill="none" stroke="#1e1e1e" stroke-width="0.85" clip-path="url(#cc)" stroke-linejoin="round"/>
<polyline points="504.4,128.1 508.2,129.3 517.2,131.6 521.7,133.0 524.8,133.5 527.2,133.2 530.3,132.6 534.1,131.5 539.7,129.6 542.4,128.9 551.4,128.5 565.9,127.1 569.4,127.1 573.2,127.4 577.3,128.2 580.5,129.3 581.8,129.9 591.2,136.8 596.4,140.0 598.8,141.3 604.0,143.3 610.2,144.7 617.4,145.8 627.8,146.3 651.3,146.7 676.9,146.9" fill="none" stroke="#1e1e1e" stroke-width="0.85" clip-path="url(#cc)" stroke-linejoin="round"/>
<polyline points="504.4,122.2 507.9,123.5 514.8,125.7 517.5,126.8 522.4,129.2 523.8,129.6 524.8,129.6 527.2,129.3 530.3,128.2 534.1,126.6 539.7,123.7 542.4,122.7 551.8,122.1 565.9,120.1 568.7,120.0 571.8,120.3 574.2,120.7 576.0,121.3 580.8,123.7 582.9,125.5 586.3,129.4 590.5,133.5 596.7,138.7 599.1,140.3 602.2,141.9 604.7,142.8 607.4,143.6 611.9,144.6 616.1,145.3 626.1,146.0 649.9,146.6 676.9,146.8" fill="none" stroke="#1e1e1e" stroke-width="0.85" clip-path="url(#cc)" stroke-linejoin="round"/>
<polyline points="504.4,114.3 507.5,115.8 514.1,118.2 517.5,120.3 522.4,124.3 523.8,124.9 524.8,125.0 527.2,124.4 530.3,122.7 534.5,120.0 539.7,115.5 542.4,113.8 552.1,113.2 566.3,110.0 568.4,109.9 570.8,110.2 573.5,110.9 575.3,111.6 577.3,113.0 580.1,115.4 582.2,117.9 586.0,124.3 588.7,128.2 591.5,131.8 595.3,136.1 597.4,138.2 599.1,139.4 602.2,141.3 605.0,142.5 609.1,143.6 614.3,144.7 618.5,145.2 625.4,145.7 650.3,146.4 676.9,146.7" fill="none" stroke="#1e1e1e" stroke-width="0.85" clip-path="url(#cc)" stroke-linejoin="round"/>
<polyline points="504.4,110.0 507.2,111.5 512.7,113.4 514.1,114.1 517.5,116.6 522.4,121.7 523.8,122.6 524.8,122.7 525.8,122.5 527.2,122.0 530.3,119.8 534.5,116.4 539.7,110.6 542.4,108.5 551.4,108.1 559.7,106.0 565.9,104.0 568.0,103.9 570.4,104.2 573.5,105.1 574.9,105.8 576.6,107.2 578.7,109.3 580.5,111.3 581.5,112.9 586.0,122.0 588.4,126.1 591.2,130.2 594.6,134.8 596.7,137.3 598.1,138.6 601.2,140.7 604.3,142.2 607.8,143.3 613.3,144.4 618.1,145.0 625.4,145.6 651.0,146.4 676.9,146.7" fill="none" stroke="#1e1e1e" stroke-width="0.85" clip-path="url(#cc)" stroke-linejoin="round"/>
<polyline points="504.4,106.7 507.2,108.1 512.4,109.9 514.1,110.8 517.5,113.7 522.4,119.9 523.8,120.9 524.8,121.1 526.2,120.7 527.9,119.7 533.4,114.7 535.2,112.7 539.7,106.7 542.4,104.1 549.7,104.0 551.8,103.8 559.7,101.4 565.6,99.1 567.7,98.8 570.1,99.1 573.2,100.2 574.6,100.9 576.3,102.4 578.0,104.4 580.1,107.3 581.1,109.0 586.3,121.1 589.4,126.8 592.2,131.2 595.7,136.1 597.4,138.2 600.2,140.3 603.6,142.1 606.7,143.2 611.6,144.1 617.4,144.9 625.7,145.5 652.0,146.4 676.9,146.7" fill="none" stroke="#1e1e1e" stroke-width="0.85" clip-path="url(#cc)" stroke-linejoin="round"/>
<polyline points="504.4,102.4 507.5,104.2 512.7,106.1 514.4,107.2 517.5,110.2 522.4,117.3 523.8,118.4 524.8,118.6 526.2,118.2 527.9,117.1 533.4,111.3 535.2,109.0 539.7,102.2 541.7,99.8 542.4,99.3 549.7,99.2 551.8,98.9 554.2,98.3 559.7,96.3 565.6,93.6 567.7,93.3 569.7,93.5 572.2,94.4 574.2,95.4 576.0,97.0 577.7,99.2 580.8,104.3 582.2,107.5 586.3,118.7 589.1,124.4 591.9,129.3 595.3,134.9 597.4,137.7 600.2,139.9 603.3,141.8 606.4,143.0 610.9,143.9 616.7,144.6 625.7,145.4 652.4,146.3 676.9,146.7" fill="none" stroke="#1e1e1e" stroke-width="0.85" clip-path="url(#cc)" stroke-linejoin="round"/>
<polyline points="504.4,98.7 507.5,100.5 512.7,102.6 514.4,103.8 517.5,107.1 522.4,114.8 523.8,116.0 524.8,116.2 526.2,115.8 527.9,114.5 533.4,108.3 535.2,105.8 539.7,98.4 541.7,95.8 542.4,95.2 549.7,95.2 551.8,94.9 554.2,94.1 559.7,92.0 565.6,89.1 567.7,88.7 569.7,89.0 572.2,89.9 574.2,91.0 576.0,92.7 577.7,95.2 580.8,100.6 582.2,104.2 586.3,116.3 589.1,122.4 591.9,127.8 595.3,133.9 597.4,136.9 600.2,139.3 603.3,141.3 606.4,142.6 610.9,143.6 616.7,144.4 625.7,145.3 652.4,146.3 676.9,146.6" fill="none" stroke="#1e1e1e" stroke-width="0.85" clip-path="url(#cc)" stroke-linejoin="round"/>
<polyline points="504.4,94.5 507.5,96.5 512.7,98.8 514.4,100.1 517.5,103.6 522.4,112.0 523.8,113.3 524.8,113.5 526.2,113.1 527.9,111.7 529.6,109.8 533.4,104.9 535.2,102.2 539.7,94.2 541.7,91.4 542.4,90.8 549.7,90.7 551.8,90.4 554.2,89.6 559.7,87.2 565.6,84.1 567.7,83.7 569.7,84.0 572.2,85.0 574.2,86.2 576.0,88.1 577.7,90.7 580.8,96.6 582.2,100.5 586.3,113.7 589.1,120.3 591.9,126.2 595.3,132.7 597.4,136.0 600.2,138.6 603.3,140.8 606.4,142.2 610.9,143.3 616.7,144.2 625.7,145.1 652.4,146.2 676.9,146.6" fill="none" stroke="#1e1e1e" stroke-width="0.85" clip-path="url(#cc)" stroke-linejoin="round"/>
<polyline points="504.4,90.7 507.5,92.9 512.7,95.3 514.4,96.7 517.5,100.5 522.4,109.5 523.8,110.9 524.8,111.1 526.2,110.6 527.9,109.2 529.6,107.1 533.4,101.9 535.2,99.0 539.7,90.4 541.7,87.4 542.4,86.7 549.7,86.6 551.8,86.3 554.2,85.5 559.7,82.9 565.6,79.6 567.7,79.2 569.7,79.5 572.2,80.5 574.2,81.8 576.0,83.8 577.7,86.7 580.8,93.0 582.2,97.1 586.3,111.3 589.1,118.4 591.9,124.6 595.3,131.7 597.4,135.2 600.2,138.0 603.3,140.3 606.4,141.8 610.9,143.0 616.7,143.9 625.7,144.9 652.4,146.1 676.9,146.5" fill="none" stroke="#1e1e1e" stroke-width="0.85" clip-path="url(#cc)" stroke-linejoin="round"/>
<polyline points="504.4,87.4 507.5,89.7 512.7,92.2 514.4,93.7 517.5,97.8 522.4,107.2 523.8,108.7 524.8,109.0 526.2,108.5 527.9,106.9 529.6,104.7 533.4,99.2 535.2,96.2 539.7,87.0 541.7,83.9 542.4,83.1 549.7,83.1 551.8,82.7 554.2,81.8 559.7,79.1 565.6,75.6 567.7,75.1 569.7,75.5 572.2,76.6 574.2,77.9 576.0,80.1 577.7,83.1 580.8,89.8 582.2,94.2 586.3,109.1 589.1,116.7 591.9,123.3 595.3,130.8 597.4,134.5 600.2,137.5 603.3,139.9 606.4,141.5 610.9,142.7 616.7,143.8 625.7,144.8 652.4,146.1 676.9,146.5" fill="none" stroke="#1e1e1e" stroke-width="0.85" clip-path="url(#cc)" stroke-linejoin="round"/>
<polyline points="504.4,83.6 507.5,86.1 512.7,88.8 514.4,90.3 517.5,94.6 522.4,104.7 523.8,106.3 524.8,106.6 526.2,106.0 527.9,104.4 529.6,102.1 533.4,96.2 535.2,93.0 539.7,83.2 541.7,79.9 542.4,79.1 549.7,79.0 551.8,78.6 554.2,77.7 559.7,74.8 565.6,71.1 567.7,70.6 569.7,71.0 572.2,72.1 574.2,73.6 576.0,75.9 577.7,79.0 580.8,86.2 582.2,90.8 586.3,106.7 589.1,114.8 591.9,121.8 595.3,129.8 597.4,133.7 600.2,136.9 603.3,139.5 606.4,141.2 610.9,142.5 616.7,143.5 625.7,144.7 652.4,146.0 676.9,146.4" fill="none" stroke="#1e1e1e" stroke-width="0.85" clip-path="url(#cc)" stroke-linejoin="round"/>
<polyline points="504.4,79.4 507.5,82.0 512.7,84.9 514.4,86.6 517.5,91.2 522.4,101.9 523.8,103.6 524.8,103.9 526.2,103.3 527.9,101.6 529.6,99.1 533.4,92.8 535.2,89.4 539.7,79.0 541.7,75.5 542.4,74.6 549.7,74.5 551.8,74.1 554.2,73.1 559.7,70.1 563.9,67.1 565.6,66.1 567.7,65.6 569.7,66.0 572.2,67.2 574.2,68.7 576.0,71.2 577.7,74.5 580.8,82.2 582.2,87.1 586.3,104.1 589.1,112.6 591.9,120.1 595.3,128.6 597.4,132.8 598.4,134.3 600.2,136.2 603.3,139.0 606.4,140.8 610.9,142.2 616.7,143.3 625.7,144.5 652.4,145.9 676.9,146.4" fill="none" stroke="#1e1e1e" stroke-width="0.85" clip-path="url(#cc)" stroke-linejoin="round"/>
<polyline points="504.4,71.8 505.4,74.7 506.5,77.0 507.2,77.9 508.5,78.8 509.6,79.1 510.3,78.9 513.0,76.3 513.7,76.4 514.8,77.3 515.8,79.0 517.2,82.0 520.3,92.0 522.4,97.1 523.8,99.6 524.1,99.9 524.8,100.0 525.8,99.6 526.9,98.8 528.6,97.0 529.6,95.5 534.1,86.3 540.0,73.3 541.7,70.0 542.4,69.1 543.1,69.1 544.8,70.5 545.5,70.8 547.6,70.5 551.4,69.2 554.9,67.7 558.7,65.4 563.2,63.1 565.9,60.8 567.0,60.1 568.4,60.1 570.4,60.7 573.5,62.5 575.3,64.5 577.3,68.6 580.1,75.6 581.8,81.4 585.6,98.1 588.1,106.7 591.5,117.5 595.7,128.2 597.0,131.0 598.4,133.2 604.7,139.2 606.7,140.5 611.6,142.0 617.4,143.1 626.8,144.5 638.5,145.2 676.9,146.7" fill="none" stroke="#2a2aff" stroke-width="0.85" clip-path="url(#cc)" stroke-linejoin="round"/>
<polyline points="504.4,60.5 506.5,67.5 507.2,68.9 508.5,70.7 509.6,71.5 510.3,71.6 511.0,71.3 512.4,70.3 513.0,70.1 513.7,70.4 514.8,72.0 517.2,77.5 520.3,88.2 522.4,93.6 523.8,96.3 524.1,96.6 524.8,96.8 525.8,96.3 526.9,95.4 528.6,93.5 529.6,91.9 534.1,82.0 540.0,68.2 541.7,64.7 542.4,63.7 543.1,63.6 544.8,65.2 545.5,65.5 547.6,65.2 551.4,63.8 554.9,62.2 558.7,59.7 563.2,57.3 565.9,54.8 567.0,54.1 567.7,54.0 568.7,54.1 570.8,54.8 573.5,56.6 575.3,58.8 577.3,63.1 580.1,70.6 581.8,76.9 585.6,94.7 588.1,103.9 591.5,115.4 595.7,126.8 597.0,129.9 598.4,132.2 604.7,138.6 606.7,140.0 611.6,141.6 617.4,142.8 626.8,144.3 638.5,145.1 676.9,146.7" fill="none" stroke="#ff2a2a" stroke-width="0.85" clip-path="url(#cc)" stroke-linejoin="round"/>
<rect x="504.4" y="21.2" width="172.5" height="138.6" fill="none" stroke="#6a6a6a" stroke-width="1"/>
<path d="M533.15 159.8v3 M581.07 159.8v3 M628.98 159.8v3 M676.9 159.8v3 M509.19 159.8v2 M557.11 159.8v2 M605.02 159.8v2 M652.94 159.8v2" stroke="#6a6a6a" stroke-width="1" fill="none"/>
<text x="533.15" y="174" text-anchor="middle" font-size="10.3">250</text>
<text x="581.07" y="174" text-anchor="middle" font-size="10.3">300</text>
<text x="628.98" y="174" text-anchor="middle" font-size="10.3">350</text>
<text x="676.9" y="174" text-anchor="middle" font-size="10.3">400</text>
<path d="M504.4 147.2h-3 M504.4 122h-3 M504.4 96.8h-3 M504.4 71.6h-3 M504.4 46.4h-3 M504.4 21.2h-3 M504.4 159.8h-2 M504.4 134.6h-2 M504.4 109.4h-2 M504.4 84.2h-2 M504.4 59h-2 M504.4 33.8h-2" stroke="#6a6a6a" stroke-width="1" fill="none"/>
<text x="498.3" y="151.2" text-anchor="end" font-size="10.3">0.0</text>
<text x="498.3" y="126" text-anchor="end" font-size="10.3">0.5</text>
<text x="498.3" y="100.8" text-anchor="end" font-size="10.3">1.0</text>
<text x="498.3" y="75.6" text-anchor="end" font-size="10.3">1.5</text>
<text x="498.3" y="50.4" text-anchor="end" font-size="10.3">2.0</text>
<text x="498.3" y="25.2" text-anchor="end" font-size="10.3">2.5</text>
<text x="533.9" y="31.5" font-size="8.75" font-weight="bold">160 µm width Fenofibrate</text>
<text x="510.4" y="43.3" font-size="8.8" fill="#ff2a3a">After 3 h</text>
<text x="510.4" y="54.3" font-size="8.8" fill="#1a3cf0">After 260 s</text>
<text x="549" y="155.8" font-size="8.8" fill="#111">Solid drug after 3 h</text>
<text x="591.7" y="187.8" font-size="10.3" text-anchor="middle">Wavelength (nm)</text>
<text transform="translate(472.9,87.5) rotate(-90)" text-anchor="middle" font-size="10.3">Absorbance</text>
<clipPath id="cd2"><rect x="37.7" y="218.5" width="172.8" height="139.2"/></clipPath>
<polyline points="37.7,344.5 210.5,344.5" fill="none" stroke="#444" stroke-width="0.8" stroke-dasharray="2.5 2" stroke-linejoin="round"/>
<polyline points="37.7,336.0 40.3,337.5 45.2,338.7 48.1,340.0 49.8,340.5 58.8,342.1 64.8,342.7 72.9,342.7 83.9,342.0 89.3,341.9 94.8,342.0 104.3,342.7 109.8,342.9 128.6,342.5 137.2,342.5 150.5,342.9 160.6,344.0 173.0,345.0 210.5,345.0" fill="none" stroke="#1e1e1e" stroke-width="0.85" clip-path="url(#cd2)" stroke-linejoin="round"/>
<polyline points="37.7,329.8 39.1,331.3 40.3,332.2 42.0,333.0 45.2,334.1 48.1,336.3 50.1,337.4 59.0,340.2 65.7,341.2 68.9,341.4 72.9,341.2 83.9,339.8 89.0,339.5 94.8,339.8 104.3,341.2 109.8,341.6 117.0,341.4 128.3,340.7 136.6,340.6 143.9,340.9 150.5,341.5 160.6,343.4 173.0,345.0 210.5,345.0" fill="none" stroke="#1e1e1e" stroke-width="0.85" clip-path="url(#cd2)" stroke-linejoin="round"/>
<polyline points="37.7,298.5 39.1,302.7 40.3,304.6 41.5,305.7 44.6,306.9 45.2,307.4 48.4,317.0 49.5,319.1 51.0,321.2 55.3,325.9 58.5,330.4 59.9,331.9 63.7,334.6 67.1,335.9 68.3,336.1 69.7,336.1 73.2,335.2 75.2,334.1 84.1,328.2 87.6,327.1 89.9,326.9 92.2,327.3 95.1,328.4 104.3,334.8 107.2,336.0 109.5,336.7 112.4,336.6 116.7,335.8 123.1,333.6 127.4,332.8 132.0,332.2 135.5,332.1 141.8,333.2 145.9,334.4 150.5,336.3 157.1,340.4 159.7,341.6 164.1,343.1 170.1,344.3 173.0,344.8 175.9,344.8 210.5,345.0" fill="none" stroke="#1e1e1e" stroke-width="0.85" clip-path="url(#cd2)" stroke-linejoin="round"/>
<polyline points="37.7,298.0 38.3,302.0 38.9,304.4 39.4,305.8 40.0,306.2 41.2,305.0 44.3,298.2 44.9,297.4 45.2,297.4 45.8,298.7 48.1,308.1 49.5,311.4 51.0,313.4 53.0,315.5 55.0,318.1 58.8,325.9 60.2,328.0 61.9,329.9 64.0,331.7 65.7,332.8 67.4,333.5 68.6,333.7 69.7,333.4 73.2,331.5 74.9,329.7 78.7,324.8 83.9,318.6 85.0,317.6 87.3,316.3 88.5,315.8 89.6,315.7 91.6,316.3 94.8,318.3 96.3,319.9 99.7,324.7 104.3,330.4 107.5,332.8 109.8,333.9 111.0,334.0 112.7,333.7 117.0,332.1 118.8,331.2 123.1,328.2 126.8,326.8 131.5,325.6 133.5,325.4 135.2,325.4 137.2,325.8 139.8,326.7 142.4,327.7 144.7,328.9 149.6,332.3 158.3,340.4 161.5,342.2 164.9,343.4 169.8,344.3 174.4,344.6 210.5,345.0" fill="none" stroke="#1e1e1e" stroke-width="0.85" clip-path="url(#cd2)" stroke-linejoin="round"/>
<polyline points="37.7,291.4 38.3,296.0 38.9,298.6 39.4,300.0 39.7,300.2 40.0,300.2 40.6,299.3 41.5,297.3 44.3,288.3 44.9,287.2 45.2,287.1 45.8,288.6 48.1,299.9 48.7,301.8 49.5,303.8 50.7,305.8 53.0,308.5 55.0,311.7 58.8,321.2 60.5,324.3 64.0,328.5 65.7,329.8 67.4,330.7 68.6,330.8 69.7,330.5 71.2,329.6 73.2,328.0 74.9,325.8 78.7,319.6 83.9,311.7 85.0,310.5 87.3,308.8 88.5,308.3 89.6,308.1 90.5,308.3 91.6,308.8 94.8,311.4 96.3,313.3 99.7,319.4 104.3,326.7 105.2,327.7 107.5,329.7 108.7,330.5 109.8,331.0 111.0,331.1 112.7,330.8 117.0,328.8 118.8,327.6 123.1,323.9 126.8,322.1 131.5,320.5 133.5,320.3 135.2,320.3 137.2,320.9 139.8,321.9 142.4,323.2 144.7,324.7 149.6,329.0 156.6,337.4 158.3,339.2 161.5,341.4 164.9,342.9 169.8,344.1 174.4,344.5 186.3,344.8 210.5,345.0" fill="none" stroke="#1e1e1e" stroke-width="0.85" clip-path="url(#cd2)" stroke-linejoin="round"/>
<polyline points="37.7,280.5 38.3,286.0 38.9,289.2 39.4,290.6 39.7,290.8 40.0,290.5 41.5,286.1 44.3,273.4 44.9,271.8 45.2,271.5 45.8,273.4 48.1,287.7 48.7,290.1 49.5,292.5 51.0,295.4 53.6,299.2 55.0,302.2 55.9,304.6 58.8,314.4 60.5,318.3 61.9,320.7 64.0,323.6 65.7,325.3 67.4,326.4 68.6,326.6 69.7,326.2 71.2,325.0 73.2,323.0 74.9,320.0 78.7,312.0 83.9,301.7 85.0,300.1 87.3,297.9 88.5,297.2 89.6,297.0 90.5,297.2 91.6,297.9 94.8,301.2 96.3,303.8 99.7,311.7 104.3,321.1 105.2,322.4 107.5,325.1 108.7,326.1 109.8,326.8 111.0,327.0 112.7,326.5 117.0,323.9 118.8,322.3 123.1,317.5 126.8,315.2 129.4,313.9 131.5,313.1 133.5,312.8 135.2,312.9 137.2,313.6 139.8,315.0 142.4,316.6 144.7,318.6 147.0,321.1 149.6,324.2 156.6,335.1 158.3,337.4 161.5,340.4 162.9,341.3 164.9,342.3 166.9,343.0 169.8,343.8 174.4,344.3 186.3,344.8 210.5,345.0" fill="none" stroke="#1e1e1e" stroke-width="0.85" clip-path="url(#cd2)" stroke-linejoin="round"/>
<polyline points="37.7,277.1 38.3,282.9 38.9,286.2 39.4,287.7 39.7,287.9 40.0,287.6 41.5,283.0 44.3,269.6 44.9,267.9 45.2,267.7 45.8,269.7 48.1,284.7 48.7,287.2 49.5,289.7 51.0,292.8 53.6,296.8 55.0,299.9 55.9,302.4 58.8,312.8 60.5,316.9 61.9,319.5 64.0,322.5 65.7,324.2 67.4,325.5 68.6,325.7 69.7,325.2 71.2,324.0 73.2,321.8 74.9,318.7 78.7,310.2 83.9,299.4 85.0,297.7 87.3,295.4 88.5,294.7 89.6,294.4 90.5,294.7 91.6,295.4 94.8,298.9 96.3,301.6 99.7,309.9 104.3,319.9 105.2,321.2 107.5,324.0 108.7,325.1 109.8,325.9 111.0,326.0 112.7,325.5 117.0,322.8 118.8,321.1 123.1,316.1 124.0,315.3 126.8,313.6 129.4,312.2 131.5,311.5 133.5,311.1 135.2,311.2 137.2,311.9 139.8,313.4 142.4,315.1 144.7,317.2 147.0,319.8 149.6,323.1 156.6,334.5 158.3,337.0 161.5,340.1 162.9,341.1 164.9,342.2 166.9,342.9 169.8,343.7 174.4,344.3 186.3,344.7 210.5,345.0" fill="none" stroke="#1e1e1e" stroke-width="0.85" clip-path="url(#cd2)" stroke-linejoin="round"/>
<polyline points="37.7,268.9 38.3,275.5 38.9,279.2 39.4,280.8 39.7,281.0 40.0,280.7 41.5,275.5 44.3,260.6 44.9,258.6 45.2,258.4 45.8,260.6 48.1,277.4 48.7,280.2 49.5,283.1 51.0,286.5 53.6,291.0 55.0,294.5 55.9,297.3 58.8,308.9 60.5,313.5 61.9,316.4 64.0,319.8 65.7,321.7 67.4,323.1 68.6,323.3 69.7,322.8 71.2,321.5 73.2,319.0 74.9,315.6 78.7,306.1 83.9,293.9 85.0,292.1 87.3,289.5 88.5,288.6 89.6,288.4 90.5,288.6 91.6,289.5 94.8,293.4 96.3,296.4 99.7,305.7 104.3,316.8 105.2,318.4 107.5,321.5 108.7,322.8 109.8,323.6 111.0,323.7 112.7,323.2 117.0,320.1 118.8,318.2 123.1,312.6 124.0,311.8 126.8,309.8 129.4,308.3 131.5,307.4 133.5,307.0 135.2,307.1 137.2,307.9 139.8,309.6 142.4,311.5 144.7,313.9 147.0,316.8 149.6,320.5 156.6,333.3 158.3,336.1 161.5,339.5 162.9,340.6 164.9,341.8 166.9,342.7 169.8,343.5 172.1,344.0 174.4,344.2 186.3,344.7 210.5,345.0" fill="none" stroke="#1e1e1e" stroke-width="0.85" clip-path="url(#cd2)" stroke-linejoin="round"/>
<polyline points="37.7,261.5 38.3,268.7 38.9,272.7 39.4,274.5 39.7,274.8 40.0,274.4 41.5,268.7 44.3,252.3 44.9,250.2 45.2,249.9 45.8,252.3 48.1,270.8 48.7,273.8 49.5,277.0 51.0,280.8 53.6,285.7 55.0,289.5 55.9,292.6 58.8,305.3 60.5,310.4 61.9,313.6 64.0,317.3 65.7,319.4 67.4,321.0 68.6,321.2 69.7,320.6 71.2,319.2 73.2,316.4 74.9,312.7 78.7,302.2 83.9,288.9 85.0,286.9 87.3,284.0 88.5,283.1 89.6,282.8 90.5,283.1 91.6,284.0 94.8,288.3 96.3,291.6 99.7,301.9 104.3,314.1 105.2,315.7 107.5,319.2 108.7,320.6 109.8,321.5 111.0,321.6 112.7,321.0 114.1,320.0 117.0,317.6 118.8,315.6 123.1,309.4 124.0,308.5 126.8,306.4 129.4,304.7 131.5,303.7 133.5,303.3 135.2,303.4 137.2,304.3 139.8,306.1 142.4,308.2 144.7,310.8 147.0,314.0 149.6,318.1 156.6,332.1 158.3,335.2 161.5,339.0 162.9,340.2 164.9,341.5 166.9,342.5 169.8,343.4 172.1,343.9 174.4,344.1 186.3,344.7 210.5,345.0" fill="none" stroke="#1e1e1e" stroke-width="0.85" clip-path="url(#cd2)" stroke-linejoin="round"/>
<polyline points="37.7,253.3 38.3,261.2 38.9,265.6 39.4,267.6 39.7,267.9 40.0,267.5 41.5,261.3 44.3,243.3 44.9,240.9 45.2,240.6 45.8,243.3 48.1,263.5 48.7,266.9 49.5,270.4 51.0,274.5 53.6,279.9 55.0,284.1 55.9,287.5 58.8,301.5 60.5,307.0 61.9,310.5 64.0,314.6 65.7,317.0 67.4,318.6 68.6,318.9 69.7,318.2 71.2,316.6 73.2,313.6 74.9,309.5 78.7,298.1 83.9,283.5 85.0,281.2 87.3,278.1 88.5,277.0 89.6,276.7 90.5,277.1 91.6,278.1 94.8,282.8 96.3,286.4 99.7,297.6 104.3,311.0 105.2,312.9 107.5,316.7 108.7,318.2 109.8,319.2 111.0,319.3 112.7,318.7 114.1,317.6 117.0,315.0 118.8,312.7 123.1,305.9 124.0,304.9 126.8,302.6 129.4,300.7 131.5,299.7 133.5,299.2 135.2,299.4 137.2,300.3 139.8,302.3 142.4,304.6 144.7,307.4 147.0,310.9 149.6,315.4 156.6,330.9 158.3,334.2 161.5,338.4 162.9,339.7 164.9,341.1 166.9,342.2 169.8,343.2 172.1,343.8 174.4,344.0 186.3,344.6 210.5,345.0" fill="none" stroke="#1e1e1e" stroke-width="0.85" clip-path="url(#cd2)" stroke-linejoin="round"/>
<polyline points="37.7,284.6 38.6,281.9 39.7,276.4 44.0,244.3 44.6,241.0 44.9,239.9 45.2,239.6 45.5,240.3 45.8,242.2 48.1,262.5 49.2,268.3 49.5,265.4 51.0,269.8 53.0,274.1 54.4,278.1 55.9,283.7 58.8,298.6 59.9,302.7 61.1,306.0 62.8,310.2 64.2,313.1 66.0,315.4 67.4,316.9 68.0,317.1 68.6,317.1 69.7,316.5 71.2,314.7 73.2,311.6 74.9,307.1 78.7,294.9 83.9,279.3 85.0,276.9 87.3,273.6 88.5,272.5 89.6,272.2 90.5,272.5 91.6,273.6 93.1,275.7 94.8,278.6 96.3,282.5 99.7,294.5 104.3,308.8 105.2,310.7 107.5,314.8 108.7,316.4 109.8,317.4 111.0,317.6 112.7,316.9 114.1,315.8 117.0,313.0 118.8,310.6 123.1,303.3 124.0,302.3 126.8,299.8 129.4,297.8 131.5,296.7 133.5,296.2 135.2,296.3 137.2,297.3 139.8,299.5 142.4,301.9 144.7,304.9 147.0,308.7 149.6,313.5 156.6,329.9 158.3,333.5 159.7,335.7 161.5,337.9 162.9,339.4 164.9,340.9 166.9,342.0 169.8,343.1 172.1,343.7 174.4,344.0 186.3,344.6 210.5,345.0" fill="none" stroke="#2a2aff" stroke-width="0.85" clip-path="url(#cd2)" stroke-linejoin="round"/>
<polyline points="37.7,279.2 38.6,276.3 39.7,270.3 44.0,235.3 44.6,231.7 44.9,230.6 45.2,230.1 45.5,230.9 45.8,233.0 48.1,255.1 48.7,258.8 49.5,262.6 51.0,267.2 53.6,273.2 55.0,277.8 55.9,281.6 58.8,296.9 60.5,303.0 61.9,306.9 64.0,311.5 65.7,314.0 67.4,315.9 68.0,316.2 68.6,316.2 69.7,315.5 71.2,313.7 73.2,310.4 74.9,305.8 78.7,293.2 83.9,277.1 85.0,274.6 87.3,271.1 88.5,270.0 89.6,269.6 90.5,270.0 91.6,271.1 93.1,273.3 94.8,276.3 96.3,280.3 99.7,292.7 104.3,307.5 105.2,309.6 107.5,313.7 108.7,315.4 109.8,316.5 111.0,316.7 112.7,315.9 114.1,314.8 117.0,311.8 118.8,309.4 123.1,301.9 124.0,300.8 126.8,298.2 129.4,296.1 131.5,295.0 133.5,294.5 135.2,294.6 137.2,295.7 139.8,297.9 142.4,300.4 144.7,303.5 147.0,307.4 149.6,312.4 156.6,329.4 158.3,333.1 159.7,335.4 161.5,337.7 162.9,339.2 164.9,340.7 166.9,341.9 169.8,343.0 172.1,343.7 174.4,343.9 186.3,344.6 210.5,345.0" fill="none" stroke="#ff2a2a" stroke-width="0.85" clip-path="url(#cd2)" stroke-linejoin="round"/>
<rect x="37.7" y="218.5" width="172.8" height="139.2" fill="none" stroke="#6a6a6a" stroke-width="1"/>
<path d="M60.5 357.7v3 M98 357.7v3 M135.5 357.7v3 M173 357.7v3 M210.5 357.7v3 M41.75 357.7v2 M79.25 357.7v2 M116.75 357.7v2 M154.25 357.7v2 M191.75 357.7v2" stroke="#6a6a6a" stroke-width="1" fill="none"/>
<text x="60.5" y="373" text-anchor="middle" font-size="10.3">250</text>
<text x="98" y="373" text-anchor="middle" font-size="10.3">300</text>
<text x="135.5" y="373" text-anchor="middle" font-size="10.3">350</text>
<text x="173" y="373" text-anchor="middle" font-size="10.3">400</text>
<text x="210.5" y="373" text-anchor="middle" font-size="10.3">450</text>
<path d="M37.7 345.05h-3 M37.7 319.74h-3 M37.7 294.43h-3 M37.7 269.12h-3 M37.7 243.81h-3 M37.7 218.5h-3 M37.7 357.7h-2 M37.7 332.39h-2 M37.7 307.08h-2 M37.7 281.77h-2 M37.7 256.46h-2 M37.7 231.15h-2" stroke="#6a6a6a" stroke-width="1" fill="none"/>
<text x="31.4" y="349.05" text-anchor="end" font-size="10.3">0.0</text>
<text x="31.4" y="323.74" text-anchor="end" font-size="10.3">0.5</text>
<text x="31.4" y="298.43" text-anchor="end" font-size="10.3">1.0</text>
<text x="31.4" y="273.12" text-anchor="end" font-size="10.3">1.5</text>
<text x="31.4" y="247.81" text-anchor="end" font-size="10.3">2.0</text>
<text x="31.4" y="222.5" text-anchor="end" font-size="10.3">2.5</text>
<text x="60.4" y="229.8" font-size="8.75" font-weight="bold">160 µm width Tolfenamic acid</text>
<text x="64.5" y="249.3" font-size="8.8" fill="#ff2a3a">After 3 h</text>
<text x="64.5" y="260.1" font-size="8.8" fill="#1a3cf0">After 220 s</text>
<text x="78.2" y="354.8" font-size="8.8" fill="#111">Solid drug after 3 h</text>
<text x="130.7" y="387" font-size="10.3" text-anchor="middle">Wavelength (nm)</text>
<text transform="translate(12,286) rotate(-90)" text-anchor="middle" font-size="10.3">Absorbance</text>
<clipPath id="ce"><rect x="268.2" y="217.6" width="173.8" height="139.8"/></clipPath>
<polyline points="268.2,338.1 351.2,340.0 442.0,340.6" fill="none" stroke="#333" stroke-width="0.8" stroke-dasharray="2.5 2" stroke-linejoin="round"/>
<polyline points="268.2,334.1 273.1,336.4 276.6,337.5 281.8,338.3 285.9,338.2 290.0,337.6 295.2,336.1 309.1,330.9 314.9,329.7 318.7,329.5 321.9,329.9 325.9,330.9 327.7,331.7 332.6,334.7 339.3,338.2 346.5,340.7 351.2,341.7 355.8,341.7 357.3,341.5 358.7,341.9 360.2,342.0 361.6,341.4 363.7,341.9 366.6,341.5 368.9,342.0 372.4,341.7 374.7,342.0 375.8,341.6 377.0,341.8 378.5,341.7 379.3,341.8 380.8,341.6 383.4,341.9 385.7,341.6 389.2,341.7 391.2,342.0 392.1,341.8 394.4,341.8 396.2,341.6 399.6,342.0 403.1,341.7 404.0,341.7 404.6,341.9 406.0,341.7 407.2,342.0 409.2,341.8 410.1,341.9 411.2,341.6 413.6,342.1 415.0,341.9 416.5,342.0 416.8,341.9 417.6,342.1 419.1,341.9 419.4,342.1 420.5,342.2 421.4,342.1 422.6,341.7 424.9,342.1 429.2,341.9 429.8,342.2 431.3,342.3 432.7,342.0 433.6,342.1 434.5,342.0 435.6,342.1 435.9,342.3 439.1,342.0 442.0,342.0" fill="none" stroke="#1e1e1e" stroke-width="0.8" clip-path="url(#ce)" stroke-linejoin="round"/>
<polyline points="268.2,330.2 270.5,332.0 273.1,333.7 274.9,334.7 276.6,335.4 278.9,336.0 281.8,336.5 285.9,336.3 290.0,335.5 295.2,333.3 307.1,326.4 309.1,325.4 314.9,323.6 316.9,323.3 318.7,323.2 321.9,323.9 325.9,325.4 327.7,326.6 332.6,331.1 339.3,336.4 345.1,339.6 349.7,341.3 351.8,341.4 352.9,341.7 356.4,341.4 357.3,341.7 357.9,341.6 359.9,341.8 361.0,341.7 361.6,341.4 362.2,341.7 362.5,341.6 363.1,341.8 364.8,341.5 366.6,341.7 367.4,341.4 369.2,341.7 370.9,341.4 372.4,341.8 373.8,341.5 375.3,341.7 377.0,341.5 378.5,341.9 381.1,341.6 383.7,341.8 384.8,341.6 386.0,341.9 387.5,341.7 390.1,341.6 393.3,341.8 396.2,341.8 396.7,341.9 397.9,341.7 399.3,342.0 401.1,341.7 402.5,341.9 403.4,341.6 406.0,341.8 406.3,342.0 407.2,341.8 408.3,342.0 409.5,341.8 410.4,342.0 412.1,341.8 413.6,342.2 415.0,342.0 416.8,342.0 417.6,341.7 419.4,341.7 420.8,342.1 422.0,341.9 424.3,342.0 425.8,341.8 427.2,342.1 428.9,341.9 431.6,342.3 433.0,341.9 435.0,342.3 437.6,341.9 439.1,342.1 440.3,341.9 442.0,342.3" fill="none" stroke="#1e1e1e" stroke-width="0.8" clip-path="url(#ce)" stroke-linejoin="round"/>
<polyline points="268.2,323.2 270.5,326.0 273.1,328.8 274.9,330.3 276.6,331.5 278.9,332.5 281.8,333.4 283.6,333.4 285.9,333.0 288.2,332.4 290.0,331.7 295.2,328.1 298.4,325.4 307.1,317.1 309.1,315.5 312.6,313.7 314.9,312.7 316.9,312.1 318.7,312.1 320.1,312.4 321.9,313.1 324.8,314.7 325.9,315.5 328.0,317.9 332.3,324.2 336.7,330.0 339.6,333.5 342.5,336.0 347.4,339.8 350.6,340.9 351.2,341.3 354.1,341.5 356.1,341.3 358.7,341.5 359.3,341.3 360.8,341.7 363.1,341.4 364.8,341.7 365.4,341.3 366.9,341.6 367.4,341.3 368.9,341.7 369.8,341.5 370.6,341.7 372.4,341.5 373.8,341.7 375.3,341.6 377.6,341.7 379.0,341.5 379.3,341.7 380.8,341.6 382.5,341.9 384.0,341.5 386.0,341.9 387.5,341.5 388.9,341.9 390.4,341.5 391.8,341.7 395.0,341.7 396.4,341.9 398.2,341.5 402.5,342.0 403.1,341.8 404.3,341.9 405.7,341.7 407.8,341.9 410.4,341.8 413.9,342.0 416.2,341.8 416.8,342.0 417.6,342.1 418.2,341.9 419.7,342.2 421.1,341.9 424.3,342.2 425.2,342.0 426.6,342.1 427.8,341.9 429.8,342.3 431.3,342.0 433.3,342.3 434.7,342.1 436.2,342.3 437.6,342.1 439.4,342.4 440.8,342.2 442.0,342.3" fill="none" stroke="#1e1e1e" stroke-width="0.8" clip-path="url(#ce)" stroke-linejoin="round"/>
<polyline points="268.2,319.3 270.5,322.8 273.1,326.1 274.9,327.9 276.6,329.3 278.9,330.6 281.8,331.6 283.6,331.6 285.9,331.1 288.2,330.4 290.0,329.5 295.2,325.3 298.4,322.0 307.1,312.0 309.1,310.1 312.6,307.8 314.9,306.6 316.9,305.9 318.7,305.9 320.1,306.2 321.9,307.1 324.8,309.0 325.9,310.0 328.0,312.9 332.3,320.6 336.7,327.6 339.6,331.7 341.9,334.2 345.7,337.8 347.7,339.3 351.2,341.1 354.7,341.6 356.1,341.4 357.0,341.6 358.4,341.3 359.9,341.5 361.0,341.2 362.5,341.6 364.2,341.4 365.4,341.5 366.0,341.7 367.1,341.4 368.6,341.6 370.0,341.2 371.8,341.5 373.8,341.4 375.8,341.6 376.1,341.4 377.6,341.7 380.2,341.5 382.2,341.7 383.1,341.4 384.0,341.5 384.6,341.7 386.0,341.3 386.9,341.5 388.3,341.5 390.1,341.9 394.1,341.5 395.6,341.9 397.0,341.9 397.9,341.7 398.8,342.0 404.3,341.7 407.2,342.1 410.1,341.8 411.0,342.0 412.4,341.8 413.6,342.1 415.6,342.1 417.9,341.9 420.8,342.2 422.3,341.9 422.9,342.2 424.6,341.9 426.3,342.4 427.8,342.1 428.9,342.4 431.8,342.4 432.4,342.5 435.0,342.3 436.5,342.5 439.4,342.1 441.1,342.6 442.0,342.6" fill="none" stroke="#1e1e1e" stroke-width="0.8" clip-path="url(#ce)" stroke-linejoin="round"/>
<polyline points="268.2,316.9 270.5,320.8 273.1,324.4 274.9,326.5 276.6,328.0 278.9,329.4 281.8,330.5 283.6,330.5 285.9,330.0 288.2,329.3 290.0,328.3 295.2,323.5 298.4,319.9 307.1,308.9 309.1,306.8 312.6,304.3 314.9,302.9 316.9,302.2 318.7,302.1 320.1,302.5 321.9,303.5 324.8,305.6 325.9,306.7 327.7,309.4 332.6,318.9 337.3,327.1 339.3,330.3 342.2,333.8 346.8,338.4 348.0,339.4 350.9,340.9 354.1,341.4 355.5,341.3 357.0,341.5 358.1,341.2 359.9,341.3 360.2,341.2 361.6,341.5 362.5,341.3 363.4,341.5 365.7,341.4 367.4,341.1 368.9,341.5 370.0,341.5 371.2,341.3 372.1,341.6 374.7,341.7 376.1,341.3 378.7,341.7 380.5,341.3 383.1,341.9 385.1,341.5 386.9,341.6 387.5,341.4 388.9,341.8 390.1,341.5 390.9,341.7 393.0,341.5 394.4,341.7 395.9,341.5 397.9,341.8 399.6,341.7 400.8,342.0 401.7,341.7 404.0,342.1 407.2,341.6 408.9,342.0 409.5,341.9 412.7,342.1 415.6,341.9 417.0,342.0 418.5,341.9 419.9,342.2 420.8,342.1 422.3,342.3 424.6,342.0 426.3,342.1 427.2,342.3 428.7,342.3 428.9,342.4 431.0,342.5 433.6,342.1 435.0,342.4 442.0,342.4" fill="none" stroke="#1e1e1e" stroke-width="0.8" clip-path="url(#ce)" stroke-linejoin="round"/>
<polyline points="268.2,309.9 270.5,314.8 273.1,319.5 274.9,322.2 276.6,324.1 278.9,325.9 281.8,327.3 283.6,327.3 285.9,326.7 288.2,325.7 290.0,324.4 291.7,322.6 295.2,318.4 298.4,313.7 307.1,299.6 309.1,296.9 312.6,293.7 314.9,292.0 316.9,291.1 318.7,291.0 320.1,291.5 321.9,292.7 324.8,295.4 325.9,296.9 328.0,300.9 332.3,311.8 336.7,321.6 339.6,327.5 342.2,331.5 346.5,337.3 348.0,338.5 351.2,340.8 351.8,340.7 353.2,341.1 353.8,340.9 355.2,341.1 357.6,341.1 358.7,341.3 360.8,341.2 362.2,341.0 364.2,341.5 366.0,341.0 366.9,341.1 367.1,341.4 368.6,341.1 370.9,341.6 372.7,341.3 376.7,341.6 377.9,341.3 379.3,341.6 380.2,341.2 382.5,341.6 384.0,341.4 386.9,341.6 388.3,341.4 389.2,341.7 390.6,341.6 390.9,341.7 391.2,341.5 392.4,341.4 396.2,341.7 397.6,341.6 397.9,341.9 400.2,341.9 401.7,341.6 404.3,342.0 405.7,341.7 407.2,342.0 407.8,341.9 409.8,342.0 410.1,341.9 410.7,342.1 413.0,341.7 414.4,342.1 415.9,341.9 417.0,342.2 417.9,342.0 419.7,342.1 420.5,342.0 422.0,342.4 422.6,342.2 424.0,342.3 425.2,342.1 426.6,342.4 431.3,342.2 433.3,342.5 438.2,342.6 439.7,342.4 440.8,342.7 442.0,342.7" fill="none" stroke="#1e1e1e" stroke-width="0.8" clip-path="url(#ce)" stroke-linejoin="round"/>
<polyline points="268.2,306.8 270.5,312.2 273.1,317.3 274.9,320.3 276.6,322.4 278.9,324.4 281.8,325.9 283.6,325.9 285.9,325.2 288.2,324.1 290.0,322.7 291.7,320.7 295.2,316.1 298.4,311.0 307.1,295.5 309.1,292.5 312.6,289.0 314.9,287.1 316.9,286.1 318.7,286.0 320.1,286.6 321.9,287.9 324.8,290.8 325.9,292.5 328.0,296.9 332.3,308.8 336.7,319.7 339.6,326.1 342.2,330.5 346.8,337.1 348.6,338.8 349.7,339.7 350.9,340.2 352.9,340.8 355.0,340.7 355.8,341.1 359.9,341.0 361.3,341.4 362.5,341.1 363.7,341.1 366.0,341.1 366.3,341.3 367.7,341.1 370.6,341.6 372.1,341.2 373.2,341.2 374.4,341.5 375.8,341.2 377.0,341.2 378.2,341.5 379.3,341.1 381.4,341.4 381.6,341.3 382.2,341.4 384.3,341.4 385.7,341.6 388.6,341.3 390.9,341.4 392.1,341.7 394.7,341.6 396.2,341.8 397.0,341.7 398.8,342.0 401.1,341.9 402.5,341.6 404.9,342.1 407.5,341.8 410.7,342.1 412.1,342.0 414.7,342.0 416.2,342.3 417.6,342.0 419.1,342.1 419.9,341.9 420.5,342.1 422.0,342.0 424.6,342.3 426.0,342.3 427.5,342.5 428.7,342.4 430.1,342.6 430.4,342.4 434.5,342.5 435.0,342.6 435.6,342.5 435.9,342.6 436.5,342.6 437.1,342.9 437.9,342.7 438.2,342.5 440.5,342.8 442.0,342.6" fill="none" stroke="#1e1e1e" stroke-width="0.8" clip-path="url(#ce)" stroke-linejoin="round"/>
<polyline points="268.2,302.9 270.5,308.9 273.1,314.6 274.9,317.9 276.6,320.2 278.9,322.4 281.8,324.1 283.6,324.2 285.9,323.4 288.2,322.2 290.0,320.6 291.7,318.4 295.2,313.2 298.4,307.5 307.1,290.3 309.1,287.0 312.6,283.1 314.9,281.0 316.9,279.9 318.7,279.8 320.1,280.4 321.9,281.9 324.8,285.2 325.9,287.0 328.0,291.9 332.3,305.2 336.7,317.2 339.6,324.3 342.2,329.2 346.8,336.6 349.2,338.8 351.2,340.2 352.1,340.4 352.9,340.8 354.1,340.7 355.2,341.0 355.8,340.7 357.3,341.1 359.0,340.7 360.8,341.1 362.5,341.0 364.2,341.2 366.6,341.0 371.5,341.4 372.7,341.1 375.6,341.5 379.0,341.2 381.6,341.4 383.1,341.2 384.8,341.6 389.2,341.4 389.8,341.7 390.6,341.8 391.2,341.6 393.3,341.5 394.7,341.9 395.9,341.6 397.0,341.9 398.8,341.6 399.6,341.7 400.8,342.1 401.7,341.7 404.0,342.0 405.4,341.7 406.6,341.8 407.5,341.7 411.2,341.9 414.1,342.4 416.5,342.1 417.9,342.3 419.4,342.0 420.5,342.3 423.1,342.2 424.3,342.5 425.5,342.4 426.0,342.6 427.5,342.3 429.2,342.5 430.7,342.1 434.2,342.7 436.5,342.6 437.6,342.8 438.8,342.6 440.0,342.8 442.0,342.9" fill="none" stroke="#1e1e1e" stroke-width="0.8" clip-path="url(#ce)" stroke-linejoin="round"/>
<polyline points="268.2,296.7 270.5,303.6 273.1,310.2 274.9,314.0 276.6,316.7 278.9,319.3 281.8,321.3 282.4,321.4 283.6,321.3 285.9,320.4 288.2,319.0 290.0,317.2 291.7,314.6 295.2,308.6 298.4,302.0 307.1,282.1 309.1,278.2 312.6,273.7 314.9,271.3 316.9,270.0 317.8,269.8 318.7,269.9 320.1,270.6 321.9,272.3 324.8,276.1 325.9,278.2 328.0,283.9 332.3,299.3 336.7,313.2 339.6,321.5 342.2,327.2 346.8,335.7 348.3,337.6 350.0,339.2 351.2,340.0 352.9,340.7 355.5,340.7 356.1,340.9 357.6,340.7 359.0,341.1 359.9,340.9 363.9,341.1 365.1,340.8 367.1,341.2 371.8,341.0 374.4,341.3 375.8,341.1 378.2,341.4 381.4,341.4 382.8,341.3 384.3,341.5 385.4,341.4 386.6,341.7 388.0,341.5 390.6,341.6 391.2,341.4 392.7,341.7 393.8,341.5 394.7,341.7 396.7,341.8 398.8,341.5 401.7,342.0 403.1,341.7 404.3,342.0 406.0,341.8 406.6,342.0 408.3,342.1 408.9,342.3 410.4,342.0 414.4,342.0 415.6,342.2 418.5,342.0 421.4,342.4 421.7,342.3 422.3,342.5 423.7,342.2 426.0,342.6 430.4,342.5 434.2,342.9 435.0,342.6 436.5,342.9 436.8,342.8 438.5,343.0 440.3,342.8 442.0,342.9" fill="none" stroke="#1e1e1e" stroke-width="0.8" clip-path="url(#ce)" stroke-linejoin="round"/>
<polyline points="347.7,339.4 442.0,341.9" fill="none" stroke="#1e1e1e" stroke-width="2.2" clip-path="url(#ce)" stroke-linejoin="round"/>
<polyline points="268.2,293.6 270.5,301.0 273.1,308.1 274.9,312.1 276.6,315.0 278.9,317.8 280.7,319.2 281.8,319.9 282.4,320.0 283.6,319.9 285.9,318.9 288.2,317.5 290.0,315.5 291.7,312.8 295.2,306.4 298.4,299.3 307.1,278.0 309.1,273.9 312.6,269.0 314.9,266.4 316.9,265.1 317.8,264.9 318.7,264.9 320.1,265.7 321.9,267.5 324.8,271.6 325.9,273.8 327.7,278.9 332.6,297.4 337.3,313.2 339.3,319.4 341.6,324.9 343.6,329.0 343.9,328.9 346.3,332.1 348.3,334.0 348.9,334.2 350.0,334.1 350.3,334.5 351.2,334.8 351.5,334.7 352.6,335.2 353.2,335.0 353.5,335.3 353.8,335.2 354.1,335.4 354.7,335.1 355.0,335.3 355.2,335.2 357.0,336.0 359.6,335.8 361.0,335.5 362.2,336.0 362.5,335.8 363.9,336.0 366.6,335.5 367.1,335.8 368.0,335.9 370.3,335.5 372.1,336.2 372.7,335.9 372.9,335.5 373.2,335.5 374.7,335.9 375.6,336.4 376.1,336.3 376.7,336.0 377.6,336.0 378.2,335.6 378.7,335.5 379.0,335.8 379.6,335.6 379.9,335.8 380.2,335.6 380.5,335.9 381.1,335.7 382.2,336.1 382.8,335.9 383.4,336.0 384.0,335.7 384.3,336.0 384.8,335.9 385.1,336.3 385.4,336.2 386.9,336.6 387.5,336.5 388.0,336.1 388.9,336.5 390.1,336.2 391.5,336.6 393.3,336.1 394.4,336.6 395.6,336.4 395.9,336.6 397.3,336.3 397.6,336.5 397.9,336.4 398.2,336.2 399.1,336.4 399.6,336.9 400.8,336.4 401.7,336.3 402.8,336.8 404.3,336.4 405.2,336.4 406.9,337.2 407.8,336.8 408.6,337.2 409.2,336.7 410.1,337.0 411.0,336.6 411.5,337.0 412.7,336.8 413.9,337.2 414.7,337.0 416.2,337.0 416.8,337.3 417.9,336.9 418.2,337.1 418.5,336.9 419.7,337.1 420.8,336.9 421.1,337.2 421.4,337.1 422.0,337.4 423.1,337.2 424.9,337.4 425.2,337.7 426.3,337.2 426.9,337.4 428.1,337.4 428.7,337.0 429.2,337.0 429.8,337.3 431.8,337.2 432.7,337.8 433.0,337.8 433.3,337.6 434.2,337.6 434.7,337.8 435.6,337.4 437.6,337.7 438.5,337.4 439.1,337.7 439.4,337.6 440.8,337.8 441.4,337.5 442.0,337.6" fill="none" stroke="#2a2aff" stroke-width="0.85" clip-path="url(#ce)" stroke-linejoin="round"/>
<polyline points="268.2,289.7 270.5,297.7 273.1,305.3 274.9,309.7 276.6,312.8 278.9,315.8 280.7,317.4 281.8,318.1 282.4,318.2 283.6,318.1 285.9,317.1 288.2,315.5 290.0,313.4 291.7,310.4 295.2,303.5 298.4,295.9 307.1,272.8 309.1,268.4 312.6,263.1 314.9,260.3 316.9,258.8 317.8,258.6 318.7,258.7 320.1,259.5 321.9,261.5 324.8,265.9 325.9,268.3 328.0,274.9 332.6,293.8 337.3,310.9 339.0,316.7 341.3,322.9 343.6,328.0 345.1,330.4 347.7,333.7 348.6,333.8 349.7,334.7 350.6,334.6 351.2,334.7 351.8,335.2 352.3,335.4 353.2,335.4 353.8,335.7 354.1,335.7 354.4,335.4 354.7,335.4 355.2,335.5 355.5,335.8 355.8,335.8 356.7,335.3 358.1,335.9 359.0,335.6 359.6,336.0 360.2,336.0 360.8,335.6 362.5,336.3 363.7,335.5 363.9,335.9 365.1,335.8 365.7,336.2 366.3,335.9 367.4,336.2 368.3,335.9 369.2,335.9 369.8,336.1 370.6,335.9 371.2,336.0 371.5,336.3 372.7,335.9 373.2,336.3 374.1,336.5 375.3,335.8 375.6,335.8 376.1,336.5 376.7,336.4 377.3,336.0 377.9,336.1 378.2,336.0 379.6,336.6 381.1,335.9 382.5,336.5 384.3,336.3 385.1,336.7 386.3,336.4 386.6,336.7 387.7,336.2 388.9,336.3 389.5,336.1 389.8,336.4 391.2,336.3 391.8,336.7 392.4,336.5 392.7,336.7 393.3,336.2 394.4,336.7 395.0,336.5 397.0,336.9 397.6,336.6 398.2,337.0 398.8,337.0 399.3,336.7 400.2,337.1 401.4,336.4 402.0,336.5 402.2,336.7 402.8,336.6 404.0,337.0 406.0,336.7 407.2,337.1 408.1,336.6 408.9,336.7 410.1,337.3 411.0,337.4 411.5,337.0 412.4,337.1 412.7,337.4 413.3,337.1 414.4,337.5 415.0,337.1 415.6,337.1 416.8,337.7 417.6,337.1 418.2,337.1 418.8,337.6 419.1,337.4 420.2,337.4 421.1,337.0 422.3,337.8 422.9,337.5 423.4,337.5 424.0,337.9 424.6,338.0 426.3,337.7 427.2,337.1 428.1,337.5 428.4,337.8 429.5,337.8 429.8,338.0 431.8,337.7 433.0,337.8 434.5,337.8 435.3,338.1 436.5,337.8 437.1,338.1 440.3,337.9 441.4,338.4 442.0,338.4" fill="none" stroke="#ff2a2a" stroke-width="0.85" clip-path="url(#ce)" stroke-linejoin="round"/>
<rect x="268.2" y="217.6" width="173.8" height="139.8" fill="none" stroke="#6a6a6a" stroke-width="1"/>
<path d="M290.87 357.4v3 M328.65 357.4v3 M366.43 357.4v3 M404.22 357.4v3 M442 357.4v3 M271.98 357.4v2 M309.76 357.4v2 M347.54 357.4v2 M385.33 357.4v2 M423.11 357.4v2" stroke="#6a6a6a" stroke-width="1" fill="none"/>
<text x="290.87" y="373.2" text-anchor="middle" font-size="10.3">250</text>
<text x="328.65" y="373.2" text-anchor="middle" font-size="10.3">300</text>
<text x="366.43" y="373.2" text-anchor="middle" font-size="10.3">350</text>
<text x="404.22" y="373.2" text-anchor="middle" font-size="10.3">400</text>
<text x="442" y="373.2" text-anchor="middle" font-size="10.3">450</text>
<path d="M268.2 341.87h-3 M268.2 310.8h-3 M268.2 279.73h-3 M268.2 248.67h-3 M268.2 217.6h-3 M268.2 357.4h-2 M268.2 326.33h-2 M268.2 295.27h-2 M268.2 264.2h-2 M268.2 233.13h-2" stroke="#6a6a6a" stroke-width="1" fill="none"/>
<text x="263.2" y="345.87" text-anchor="end" font-size="10.3">0.00</text>
<text x="263.2" y="314.8" text-anchor="end" font-size="10.3">0.25</text>
<text x="263.2" y="283.73" text-anchor="end" font-size="10.3">0.50</text>
<text x="263.2" y="252.67" text-anchor="end" font-size="10.3">0.75</text>
<text x="263.2" y="221.6" text-anchor="end" font-size="10.3">1.00</text>
<text x="309.3" y="228.6" font-size="8.75" font-weight="bold">160 µm width Danazol</text>
<text x="277.8" y="240.5" font-size="8.8" fill="#ff2a3a">After 3 h</text>
<text x="277.8" y="250.4" font-size="8.8" fill="#1a3cf0">After 220 s</text>
<text x="278.9" y="351.4" font-size="8.8" fill="#111">Solid drug after 3 h</text>
<text x="355.6" y="387" font-size="10.3" text-anchor="middle">Wavelength (nm)</text>
<text transform="translate(238.8,288.8) rotate(-90)" text-anchor="middle" font-size="10.3">Absorbance</text>
<clipPath id="cf"><rect x="501.4" y="219.5" width="172.8" height="139.2"/></clipPath>
<polyline points="501.4,341.3 674.2,341.3" fill="none" stroke="#555" stroke-width="0.8" stroke-dasharray="2.5 2" stroke-linejoin="round"/>
<polyline points="501.4,340.7 555.3,340.7 568.3,340.5 587.7,339.5 598.0,338.3 607.6,338.4 615.3,337.6 619.7,337.3 623.7,337.6 632.1,339.6 638.7,340.4 649.4,340.7 674.2,340.8" fill="none" stroke="#1e1e1e" stroke-width="0.8" clip-path="url(#cf)" stroke-linejoin="round"/>
<polyline points="501.4,340.7 555.3,340.7 568.3,340.4 587.7,338.5 591.1,337.9 598.0,336.3 607.6,336.5 611.3,335.9 615.3,335.0 619.7,334.6 622.3,334.8 623.7,335.1 625.2,335.6 629.8,337.8 632.1,338.7 635.3,339.5 638.7,340.0 649.4,340.6 674.2,340.8" fill="none" stroke="#1e1e1e" stroke-width="0.8" clip-path="url(#cf)" stroke-linejoin="round"/>
<polyline points="501.4,340.7 555.3,340.7 560.5,340.6 568.3,340.1 587.7,337.0 591.1,336.0 594.3,334.6 598.0,333.4 599.5,333.3 607.6,333.6 611.3,332.7 615.3,331.2 619.7,330.5 622.3,330.8 623.7,331.3 625.2,332.1 629.8,335.8 632.1,337.3 635.3,338.7 638.7,339.6 643.3,340.2 649.4,340.5 674.2,340.8" fill="none" stroke="#1e1e1e" stroke-width="0.8" clip-path="url(#cf)" stroke-linejoin="round"/>
<polyline points="501.4,340.7 555.3,340.6 560.5,340.5 568.3,339.8 575.0,338.4 587.7,335.3 591.1,333.8 594.3,331.8 598.0,330.0 599.5,329.8 605.5,330.3 607.6,330.3 611.3,329.0 615.3,326.7 617.9,326.0 619.7,325.7 622.3,326.2 623.7,326.9 625.2,328.1 629.8,333.5 632.1,335.7 635.3,337.7 638.7,339.0 643.3,339.9 649.4,340.4 658.9,340.7 674.2,340.8" fill="none" stroke="#1e1e1e" stroke-width="0.8" clip-path="url(#cf)" stroke-linejoin="round"/>
<polyline points="501.4,340.7 555.3,340.5 560.5,340.3 568.3,339.1 570.3,338.6 575.0,336.8 587.7,331.5 591.1,329.1 594.3,325.7 596.9,323.4 598.0,322.6 599.5,322.3 605.5,323.2 607.6,323.2 609.0,322.5 611.3,321.0 614.2,318.1 615.3,317.2 617.9,315.9 619.7,315.5 620.8,315.7 622.3,316.3 623.7,317.5 625.2,319.5 629.8,328.6 632.1,332.3 633.5,334.0 635.3,335.7 636.7,336.7 638.7,337.9 643.3,339.3 649.4,340.1 658.9,340.7 674.2,340.9" fill="none" stroke="#1e1e1e" stroke-width="0.8" clip-path="url(#cf)" stroke-linejoin="round"/>
<polyline points="501.4,340.7 535.7,340.7 555.3,340.5 560.5,340.1 568.3,338.6 570.3,337.8 575.0,335.4 583.3,330.9 587.7,328.3 589.4,326.8 591.1,325.0 594.3,320.4 596.9,317.3 598.0,316.2 598.9,315.9 599.5,315.8 605.5,317.1 606.7,317.2 607.6,317.0 609.0,316.1 611.3,314.0 614.2,310.1 615.3,308.9 617.9,307.2 619.7,306.6 620.8,306.8 622.3,307.7 623.7,309.3 625.2,312.0 629.8,324.4 632.1,329.3 633.5,331.6 635.3,333.9 636.7,335.3 638.7,336.9 641.0,338.0 643.3,338.8 649.4,339.9 658.9,340.6 674.2,341.0" fill="none" stroke="#1e1e1e" stroke-width="0.8" clip-path="url(#cf)" stroke-linejoin="round"/>
<polyline points="501.4,340.7 535.7,340.7 555.3,340.3 560.5,339.9 565.7,338.5 568.3,337.6 570.3,336.5 575.0,333.1 583.3,326.6 587.7,322.8 589.4,320.7 591.1,318.0 594.3,311.4 596.9,307.0 598.0,305.5 598.9,304.9 599.5,304.9 605.5,306.7 606.7,306.8 607.6,306.5 609.0,305.2 611.3,302.3 614.2,296.7 615.3,294.9 617.9,292.4 618.8,291.9 619.7,291.6 620.8,291.9 622.3,293.1 622.9,293.8 623.7,295.5 625.2,299.4 629.8,317.2 632.1,324.2 633.5,327.6 635.3,330.9 636.7,332.9 638.7,335.1 641.0,336.8 643.3,338.0 645.9,338.8 649.4,339.5 658.9,340.6 674.2,341.1" fill="none" stroke="#1e1e1e" stroke-width="0.8" clip-path="url(#cf)" stroke-linejoin="round"/>
<polyline points="501.4,340.7 535.7,340.7 555.3,340.3 560.5,339.7 565.7,338.0 568.3,336.9 570.3,335.5 575.0,331.3 583.3,323.2 587.7,318.6 589.4,315.9 591.1,312.7 594.3,304.5 596.9,299.0 598.0,297.1 598.9,296.4 599.5,296.4 605.5,298.6 606.7,298.8 607.6,298.5 609.0,296.8 611.3,293.2 614.2,286.3 615.3,284.1 617.9,281.0 618.8,280.3 619.7,280.0 620.8,280.4 622.3,281.9 622.9,282.8 623.7,284.9 625.2,289.6 629.8,311.6 632.1,320.3 633.5,324.5 635.3,328.5 636.7,331.1 638.7,333.8 641.0,335.9 643.3,337.3 645.9,338.3 649.4,339.2 654.6,340.1 658.9,340.6 674.2,341.1" fill="none" stroke="#1e1e1e" stroke-width="0.8" clip-path="url(#cf)" stroke-linejoin="round"/>
<polyline points="501.4,340.7 535.7,340.7 555.3,340.0 559.1,339.6 560.5,339.2 565.7,336.7 568.3,335.2 570.3,333.2 575.0,327.1 583.3,315.3 586.2,311.1 587.7,308.6 589.4,304.8 591.1,300.0 594.3,288.2 596.9,280.2 598.0,277.5 598.9,276.5 599.5,276.5 600.6,276.9 605.5,279.7 606.7,279.9 607.6,279.4 609.0,277.1 611.3,271.8 614.2,261.8 615.3,258.7 617.9,254.1 618.8,253.2 619.7,252.7 620.3,252.8 620.8,253.3 622.3,255.4 622.9,256.7 623.7,259.7 625.2,266.7 629.8,298.5 632.1,311.2 633.5,317.2 635.3,323.0 636.7,326.8 638.7,330.7 641.0,333.7 643.3,335.8 645.9,337.2 649.4,338.5 654.6,339.8 658.9,340.5 667.3,341.1 674.2,341.3" fill="none" stroke="#1e1e1e" stroke-width="0.8" clip-path="url(#cf)" stroke-linejoin="round"/>
<polyline points="501.4,338.9 534.6,338.7 555.1,338.4 559.1,337.8 560.5,337.3 565.4,334.6 567.8,333.0 569.5,331.3 571.2,328.8 586.2,303.9 587.7,301.2 589.4,297.0 591.4,290.7 594.6,277.7 596.9,271.0 598.0,268.5 598.9,267.6 599.5,267.6 600.3,267.9 602.7,269.6 605.3,270.7 606.7,271.0 607.3,270.8 607.8,270.3 609.0,268.5 611.3,263.7 614.2,254.1 615.3,251.0 618.2,245.7 619.1,244.8 620.0,244.6 621.1,245.2 622.9,247.4 624.0,250.1 624.9,253.0 627.2,267.5 630.1,288.9 632.7,303.5 634.7,312.1 637.0,320.0 638.7,325.3 640.4,328.8 642.2,331.5 643.9,333.4 646.8,335.2 650.3,336.5 654.9,337.7 658.9,338.4 667.0,339.0 674.2,339.2" fill="none" stroke="#2a2aff" stroke-width="0.85" clip-path="url(#cf)" stroke-linejoin="round"/>
<polyline points="501.4,339.2 535.7,339.2 546.1,338.9 555.3,338.4 559.1,337.8 560.5,337.3 565.7,334.4 568.3,332.5 570.3,330.2 575.0,322.8 583.3,308.7 586.2,303.6 587.7,300.6 589.4,296.0 591.1,290.3 594.3,276.1 596.9,266.5 598.0,263.3 598.9,262.1 599.5,262.0 600.6,262.5 605.5,265.8 606.7,266.1 607.6,265.6 609.0,262.7 611.3,256.4 614.2,244.4 615.3,240.6 617.9,235.1 618.8,234.0 619.7,233.4 620.3,233.6 620.8,234.1 622.3,236.7 622.9,238.3 623.7,241.9 625.2,250.2 629.8,288.5 632.1,303.7 633.5,311.0 635.3,318.0 636.7,322.4 638.7,327.2 641.0,330.7 643.3,333.3 645.9,335.0 649.4,336.5 654.6,338.1 658.9,338.9 667.3,339.7 674.2,339.9" fill="none" stroke="#ff2a2a" stroke-width="0.85" clip-path="url(#cf)" stroke-linejoin="round"/>
<rect x="501.4" y="219.5" width="172.8" height="139.2" fill="none" stroke="#6a6a6a" stroke-width="1"/>
<path d="M501.4 358.7v3 M530.2 358.7v3 M559 358.7v3 M587.8 358.7v3 M616.6 358.7v3 M645.4 358.7v3 M674.2 358.7v3 M515.8 358.7v2 M544.6 358.7v2 M573.4 358.7v2 M602.2 358.7v2 M631 358.7v2 M659.8 358.7v2" stroke="#6a6a6a" stroke-width="1" fill="none"/>
<text x="501.4" y="373.2" text-anchor="middle" font-size="10.3">350</text>
<text x="530.2" y="373.2" text-anchor="middle" font-size="10.3">400</text>
<text x="559" y="373.2" text-anchor="middle" font-size="10.3">450</text>
<text x="587.8" y="373.2" text-anchor="middle" font-size="10.3">500</text>
<text x="616.6" y="373.2" text-anchor="middle" font-size="10.3">550</text>
<text x="645.4" y="373.2" text-anchor="middle" font-size="10.3">600</text>
<text x="674.2" y="373.2" text-anchor="middle" font-size="10.3">650</text>
<path d="M501.4 341.3h-3 M501.4 306.5h-3 M501.4 271.7h-3 M501.4 236.9h-3 M501.4 358.7h-2 M501.4 323.9h-2 M501.4 289.1h-2 M501.4 254.3h-2" stroke="#6a6a6a" stroke-width="1" fill="none"/>
<text x="494.6" y="345.3" text-anchor="end" font-size="10.3">0.0</text>
<text x="494.6" y="310.5" text-anchor="end" font-size="10.3">0.5</text>
<text x="494.6" y="275.7" text-anchor="end" font-size="10.3">1.0</text>
<text x="494.6" y="240.9" text-anchor="end" font-size="10.3">1.5</text>
<text x="551.7" y="230.8" font-size="8.75" font-weight="bold">160 µm width DL</text>
<text x="509.4" y="244.3" font-size="8.8" fill="#ff2a3a">After 3 h</text>
<text x="509.4" y="254.3" font-size="8.8" fill="#1a3cf0">After 220 s</text>
<text x="547.3" y="351.4" font-size="8.8" fill="#111">Solid drug after 3 h</text>
<text x="590" y="387" font-size="10.3" text-anchor="middle">Wavelength (nm)</text>
<text transform="translate(474.8,289) rotate(-90)" text-anchor="middle" font-size="10.3">Absorbance</text>
<clipPath id="cd3"><rect x="35.5" y="418.5" width="171.9" height="139.1"/></clipPath>
<polyline points="35.5,545.5 207.4,545.5" fill="none" stroke="#999" stroke-width="0.9" stroke-dasharray="2.5 2" stroke-linejoin="round"/>
<polyline points="35.5,541.2 56.5,542.8 61.7,542.5 72.7,541.5 84.1,541.4 100.6,540.9 112.0,541.7 126.4,544.1 134.0,544.6 152.3,544.8 207.4,544.9" fill="none" stroke="#2a2a2a" stroke-width="0.85" clip-path="url(#cd3)" stroke-linejoin="round"/>
<polyline points="35.5,539.4 38.3,539.9 44.5,540.3 53.4,541.5 56.5,541.7 61.7,541.3 72.7,539.7 84.1,539.6 97.2,538.9 100.6,538.9 105.1,539.2 112.0,540.1 126.4,543.7 134.0,544.5 152.3,544.8 207.4,544.9" fill="none" stroke="#2a2a2a" stroke-width="0.85" clip-path="url(#cd3)" stroke-linejoin="round"/>
<polyline points="35.5,529.7 38.3,530.9 44.5,532.0 53.4,535.5 55.1,536.0 56.5,536.1 58.6,535.8 61.7,534.9 66.5,532.8 70.6,531.1 72.7,530.6 84.1,530.3 97.2,528.4 100.6,528.3 105.1,529.1 112.0,531.5 114.0,532.7 121.3,538.1 126.4,541.5 129.2,542.6 134.0,543.7 140.9,544.2 152.3,544.4 207.4,544.7" fill="none" stroke="#2a2a2a" stroke-width="0.85" clip-path="url(#cd3)" stroke-linejoin="round"/>
<polyline points="35.5,516.7 37.2,518.3 38.3,519.0 44.5,521.0 45.8,521.9 49.3,524.7 53.4,527.5 55.1,528.4 56.5,528.6 58.6,528.1 61.7,526.4 66.5,522.4 70.6,519.4 72.7,518.3 74.1,518.1 78.9,518.2 84.1,517.8 86.8,517.2 97.2,514.3 98.9,514.1 100.6,514.3 103.4,514.9 105.1,515.6 109.6,518.3 112.0,520.0 114.0,522.3 121.3,532.4 126.4,538.5 127.8,539.7 129.2,540.6 131.6,541.7 134.0,542.6 136.4,543.1 140.9,543.5 152.3,544.0 176.7,544.4 207.4,544.6" fill="none" stroke="#2a2a2a" stroke-width="0.85" clip-path="url(#cd3)" stroke-linejoin="round"/>
<polyline points="35.5,506.5 37.2,508.7 38.3,509.7 40.0,510.6 43.1,511.7 44.5,512.4 45.8,513.6 49.3,517.4 53.4,521.2 55.1,522.4 56.5,522.7 57.5,522.5 58.6,522.0 61.7,519.7 66.5,514.3 70.6,510.2 72.7,508.7 74.1,508.4 78.9,508.6 84.1,508.0 86.8,507.2 97.2,503.2 98.9,503.0 100.6,503.2 103.4,504.1 105.1,505.0 109.6,508.6 112.0,511.0 114.0,514.1 121.3,527.8 126.4,536.2 127.8,537.8 129.2,539.0 131.6,540.6 134.0,541.7 136.4,542.4 140.9,543.0 152.3,543.7 176.7,544.2 207.4,544.4" fill="none" stroke="#2a2a2a" stroke-width="0.85" clip-path="url(#cd3)" stroke-linejoin="round"/>
<polyline points="35.5,497.7 37.2,500.4 38.3,501.6 40.0,502.7 43.1,504.0 44.5,505.0 45.8,506.5 49.3,511.1 53.4,515.8 55.1,517.2 56.5,517.7 57.5,517.4 58.6,516.8 61.7,513.9 66.5,507.3 70.6,502.3 72.7,500.4 74.1,500.0 77.2,500.3 78.9,500.3 84.1,499.5 86.8,498.5 97.2,493.7 98.9,493.4 100.6,493.6 103.4,494.7 105.1,495.9 109.6,500.3 112.0,503.3 114.0,507.1 121.3,523.9 126.4,534.2 127.8,536.2 129.2,537.6 131.6,539.6 134.0,541.0 136.4,541.8 140.9,542.5 152.3,543.4 176.7,544.0 207.4,544.3" fill="none" stroke="#2a2a2a" stroke-width="0.85" clip-path="url(#cd3)" stroke-linejoin="round"/>
<polyline points="35.5,487.0 37.2,490.4 38.3,491.8 40.0,493.2 43.1,494.8 44.5,496.0 45.8,497.8 49.3,503.4 53.4,509.2 55.1,511.0 56.5,511.5 57.5,511.2 58.6,510.4 61.7,507.0 63.1,504.9 66.5,498.8 70.6,492.6 72.7,490.4 74.1,489.9 77.2,490.3 78.9,490.2 84.1,489.3 86.8,488.0 97.2,482.1 98.9,481.7 100.6,482.0 103.4,483.4 105.1,484.8 109.6,490.3 112.0,493.9 113.0,495.9 114.0,498.5 121.3,519.2 126.4,531.7 127.8,534.2 129.2,535.9 131.6,538.4 134.0,540.1 136.4,541.1 140.9,542.0 145.4,542.5 152.3,543.0 176.7,543.8 207.4,544.1" fill="none" stroke="#2a2a2a" stroke-width="0.85" clip-path="url(#cd3)" stroke-linejoin="round"/>
<polyline points="35.5,476.4 37.2,480.3 38.3,482.0 40.0,483.6 43.1,485.6 44.5,486.9 45.8,489.1 49.3,495.8 53.4,502.6 55.1,504.7 55.8,505.2 56.5,505.3 57.5,505.0 58.6,504.1 61.7,500.0 63.1,497.5 66.5,490.3 70.6,483.0 71.7,481.5 72.7,480.4 73.4,479.9 74.1,479.7 77.2,480.2 78.9,480.1 84.1,479.0 86.8,477.6 97.2,470.5 98.9,470.1 100.6,470.5 103.4,472.1 105.1,473.8 109.6,480.2 112.0,484.5 113.0,486.9 114.0,490.0 121.3,514.4 126.4,529.3 127.8,532.3 129.2,534.3 131.6,537.1 134.0,539.2 136.4,540.3 140.9,541.4 145.4,542.1 152.3,542.6 176.7,543.6 207.4,544.0" fill="none" stroke="#2a2aff" stroke-width="0.85" clip-path="url(#cd3)" stroke-linejoin="round"/>
<polyline points="35.5,473.1 37.2,477.3 38.3,479.1 40.0,480.7 43.1,482.8 44.5,484.2 45.8,486.5 49.3,493.5 53.4,500.6 55.1,502.8 55.8,503.3 56.5,503.5 57.5,503.1 58.6,502.2 61.7,497.8 63.1,495.2 66.5,487.7 70.6,480.1 71.7,478.5 72.7,477.3 73.4,476.8 74.1,476.7 77.2,477.2 78.9,477.1 84.1,475.9 86.8,474.4 97.2,467.0 98.9,466.6 100.6,467.0 103.4,468.6 105.1,470.4 109.6,477.1 112.0,481.6 113.0,484.1 114.0,487.4 121.3,513.0 126.4,528.6 127.8,531.7 129.2,533.8 131.6,536.8 134.0,539.0 136.4,540.1 140.9,541.3 145.4,541.9 152.3,542.5 176.7,543.5 207.4,543.9" fill="none" stroke="#ff2a2a" stroke-width="0.85" clip-path="url(#cd3)" stroke-linejoin="round"/>
<rect x="35.5" y="418.5" width="171.9" height="139.1" fill="none" stroke="#6a6a6a" stroke-width="1"/>
<path d="M64.15 557.6v3 M111.9 557.6v3 M159.65 557.6v3 M207.4 557.6v3 M40.27 557.6v2 M88.03 557.6v2 M135.78 557.6v2 M183.53 557.6v2" stroke="#6a6a6a" stroke-width="1" fill="none"/>
<text transform="translate(70.15,567.6) rotate(-45)" text-anchor="end" font-size="10.3">250</text>
<text transform="translate(117.9,567.6) rotate(-45)" text-anchor="end" font-size="10.3">300</text>
<text transform="translate(165.65,567.6) rotate(-45)" text-anchor="end" font-size="10.3">350</text>
<text transform="translate(213.4,567.6) rotate(-45)" text-anchor="end" font-size="10.3">400</text>
<path d="M35.5 544.95h-3 M35.5 519.66h-3 M35.5 494.37h-3 M35.5 469.08h-3 M35.5 443.79h-3 M35.5 418.5h-3 M35.5 557.6h-2 M35.5 532.31h-2 M35.5 507.02h-2 M35.5 481.73h-2 M35.5 456.44h-2 M35.5 431.15h-2" stroke="#6a6a6a" stroke-width="1" fill="none"/>
<text x="29.2" y="548.95" text-anchor="end" font-size="10.3">0.0</text>
<text x="29.2" y="523.66" text-anchor="end" font-size="10.3">0.5</text>
<text x="29.2" y="498.37" text-anchor="end" font-size="10.3">1.0</text>
<text x="29.2" y="473.08" text-anchor="end" font-size="10.3">1.5</text>
<text x="29.2" y="447.79" text-anchor="end" font-size="10.3">2.0</text>
<text x="29.2" y="422.5" text-anchor="end" font-size="10.3">2.5</text>
<text x="76.1" y="428.1" font-size="8.75" font-weight="bold">80 µm width Fenofibrate</text>
<text x="52.6" y="442" font-size="8.8" fill="#ff2a3a">After 3 h</text>
<text x="52.6" y="452.3" font-size="8.8" fill="#1a3cf0">After 140 s</text>
<text x="73.3" y="554.4" font-size="8.8" fill="#111">Solid drug after 3 h</text>
<text x="127" y="593" font-size="10.3" text-anchor="middle">Wavelength (nm)</text>
<text transform="translate(9.6,491.2) rotate(-90)" text-anchor="middle" font-size="10.3">Absorbance</text>
<clipPath id="ch"><rect x="267.6" y="416.5" width="173.9" height="140.5"/></clipPath>
<polyline points="267.6,531.0 267.8,531.4 268.1,531.1 268.3,531.2 268.6,531.6 268.8,531.4 269.1,532.0 269.3,532.0 270.0,531.2 270.5,531.9 271.0,531.7 271.5,530.4 271.7,530.9 272.0,530.9 272.5,531.4 272.7,531.4 273.2,531.8 273.9,531.2 274.7,531.4 274.9,531.9 275.2,532.0 275.9,531.8 276.1,531.5 276.4,531.8 277.1,532.0 277.4,531.6 277.6,531.7 277.8,531.4 278.8,532.3 279.3,532.0 280.0,531.3 280.3,531.4 280.5,531.2 281.0,532.1 281.3,531.9 281.5,532.1 282.2,531.9 282.5,532.1 283.7,531.3 284.7,531.9 285.9,531.3 286.1,531.0 286.9,531.1 287.1,531.5 288.1,530.5 289.1,530.5 289.3,531.0 290.0,531.1 290.3,530.6 291.2,530.9 291.5,530.7 292.2,530.7 292.7,530.4 293.4,531.2 294.2,529.5 295.2,530.0 295.4,529.8 296.6,529.9 297.3,529.8 298.3,529.2 299.3,529.7 299.8,529.5 300.8,529.5 301.7,528.9 303.0,528.8 303.7,529.0 305.4,528.5 305.9,528.6 307.1,528.5 308.1,528.2 309.0,528.2 310.0,527.8 311.0,528.0 311.7,527.6 313.7,527.7 314.2,527.4 315.1,527.4 315.4,527.2 316.8,527.4 317.3,526.9 317.8,526.8 318.6,527.0 320.3,526.8 321.7,526.2 322.9,526.3 323.7,526.1 324.2,525.6 324.9,525.4 326.1,525.9 327.1,525.5 328.3,525.5 329.5,525.2 330.5,525.4 332.0,524.9 332.9,525.0 335.4,524.5 336.4,524.6 337.3,524.3 338.1,524.1 338.3,524.3 338.8,524.1 339.0,524.2 341.2,524.2 346.1,525.5 346.8,525.2 347.6,525.2 351.0,526.8 351.7,526.8 352.4,527.5 353.2,527.7 354.4,527.6 354.6,526.5 355.6,527.9 355.9,527.5 356.1,527.7 356.6,527.1 356.8,527.2 357.1,527.0 357.6,528.5 358.1,528.6 358.5,527.9 358.8,528.0 359.5,527.1 359.8,527.0 360.0,527.3 360.5,527.1 361.0,527.2 361.5,527.9 361.7,527.6 362.0,527.8 362.4,527.2 362.7,527.4 362.9,527.1 363.2,527.1 363.4,527.6 363.7,527.6 364.1,528.2 364.6,528.3 365.6,527.0 365.9,527.2 366.1,527.2 366.6,526.6 366.8,527.2 367.1,526.9 367.6,527.2 367.8,526.6 368.0,526.6 368.8,525.7 369.0,525.6 369.5,526.0 369.8,526.7 370.0,526.4 370.5,526.6 370.7,526.3 371.2,527.3 371.5,527.3 371.9,527.9 372.2,527.9 372.4,528.3 373.4,527.1 374.1,527.8 374.6,528.2 374.9,528.1 375.6,526.5 375.9,526.3 376.1,526.8 377.3,527.3 378.0,526.8 378.3,526.7 378.8,527.2 379.0,527.0 379.8,527.0 380.2,527.7 380.5,527.7 380.7,527.9 381.0,527.6 381.2,527.8 381.9,527.3 382.2,527.5 382.4,528.1 382.7,527.8 382.9,528.2 383.4,527.1 383.7,527.4 383.9,527.4 384.4,527.8 384.6,527.5 385.8,527.7 386.6,527.5 386.8,527.2 387.1,527.2 387.6,527.2 387.8,528.0 388.3,527.9 388.5,528.2 389.3,527.7 390.2,527.8 390.7,527.4 391.5,528.6 391.7,528.7 391.9,528.4 392.7,528.2 392.9,528.7 393.2,527.9 393.9,527.7 394.1,528.5 394.6,528.3 394.9,528.6 395.1,528.1 395.6,528.2 395.8,527.9 396.3,528.5 396.6,528.5 396.8,527.8 397.3,527.4 398.0,528.5 398.3,528.5 398.5,528.1 399.0,527.8 399.5,528.9 400.2,528.9 400.5,528.5 400.7,529.0 401.0,529.1 401.2,528.7 401.5,528.7 401.7,528.1 401.9,528.0 402.2,528.5 402.4,528.5 402.7,528.8 403.2,528.1 403.9,528.9 404.6,528.5 405.1,529.4 405.6,529.1 406.1,528.1 406.3,528.5 406.6,528.0 407.1,529.3 407.5,529.4 408.0,528.4 408.8,529.7 409.5,528.9 409.7,528.3 410.0,528.6 410.2,528.3 410.7,529.0 411.2,529.2 411.7,529.2 411.9,528.8 412.2,528.9 412.7,528.9 412.9,529.9 413.2,529.5 413.6,529.8 413.9,529.5 414.1,530.1 414.4,530.1 414.9,529.0 415.1,528.9 415.6,529.6 416.1,529.3 416.3,528.6 416.8,529.5 417.1,529.4 417.3,529.8 417.8,529.4 418.3,529.8 418.5,529.6 419.0,529.8 419.2,529.5 419.5,529.8 420.0,529.5 421.0,529.9 421.2,529.4 421.4,529.2 421.7,529.6 421.9,529.1 422.2,530.0 422.4,529.7 422.7,529.6 422.9,529.7 423.1,529.3 423.4,529.6 423.6,529.4 423.9,529.8 424.1,529.6 424.4,529.9 424.6,529.8 425.1,530.4 425.6,530.5 425.8,530.0 426.1,530.0 426.8,530.7 427.5,530.2 428.0,530.4 428.3,530.7 428.8,530.2 429.0,530.4 429.2,530.0 429.5,530.4 429.7,530.3 430.2,529.3 430.5,529.2 431.0,529.9 431.2,530.9 431.4,530.8 432.2,529.9 432.4,530.0 432.7,529.8 433.1,529.8 434.4,531.3 434.6,530.9 435.1,530.5 435.3,529.8 435.8,529.6 436.6,530.4 436.8,530.2 437.0,530.7 437.8,530.7 438.0,530.3" fill="none" stroke="#1e1e1e" stroke-width="0.75" clip-path="url(#ch)" stroke-linejoin="round"/>
<polyline points="267.6,531.9 267.8,531.9 268.1,531.3 268.8,531.1 269.1,531.9 269.6,531.5 269.8,531.8 270.3,531.3 270.8,531.4 271.3,531.9 272.0,531.5 272.2,531.0 272.7,531.6 273.0,531.6 273.2,532.2 273.7,531.5 274.2,531.5 275.4,531.9 275.9,532.3 276.1,532.0 276.6,532.3 276.9,532.0 277.1,532.3 277.6,532.3 277.8,532.7 278.3,532.1 278.6,532.1 278.8,531.5 279.3,531.4 279.5,531.4 279.8,531.8 280.0,531.6 280.3,531.9 280.8,531.4 281.3,531.7 282.2,531.8 282.5,531.5 283.2,531.5 283.4,531.6 283.7,532.2 284.2,532.1 284.4,532.4 285.2,531.0 285.4,530.8 285.6,530.9 286.1,531.6 286.6,531.6 286.9,531.0 287.6,530.4 288.6,531.6 289.3,530.5 290.0,531.2 290.5,530.7 290.8,530.9 291.0,530.7 291.5,531.0 291.7,530.6 292.0,530.5 292.7,530.8 293.7,529.9 293.9,530.3 294.7,530.2 294.9,530.0 295.4,530.5 296.6,529.8 297.6,529.8 298.3,529.4 299.5,529.2 300.3,529.3 301.0,529.0 301.2,528.8 303.2,528.9 304.2,528.6 305.1,528.7 306.4,528.2 307.3,528.3 309.5,527.8 310.0,527.9 311.0,527.5 311.2,527.6 312.2,526.9 313.4,526.8 314.4,527.1 315.4,526.4 316.8,526.7 318.1,526.1 319.3,526.0 321.0,525.2 322.0,525.2 322.9,524.4 323.7,524.8 325.1,524.3 325.9,524.5 326.4,524.2 327.1,524.4 328.1,524.0 328.8,524.1 330.5,523.7 331.7,523.8 333.7,523.1 333.9,523.3 334.9,523.0 335.6,523.4 336.6,522.7 338.3,522.1 339.0,522.4 339.8,522.4 341.0,522.7 342.4,523.7 342.9,524.3 343.7,524.4 344.6,525.0 346.4,525.5 347.3,525.3 348.1,525.9 348.3,525.8 350.3,526.8 351.2,526.9 351.5,527.1 352.4,527.3 353.2,527.8 354.2,528.0 354.4,528.2 354.6,528.9 355.1,529.0 356.1,527.5 356.3,527.7 356.8,527.6 357.1,528.3 357.3,528.1 357.8,528.2 358.8,527.6 359.0,527.0 359.3,527.5 359.8,527.3 360.0,527.8 360.2,527.5 360.7,528.2 361.0,527.8 361.5,528.3 361.7,527.8 362.0,528.1 362.4,527.3 362.7,527.5 362.9,527.5 363.2,528.1 363.7,528.4 364.1,527.8 364.4,527.8 364.6,527.5 364.9,527.9 365.9,527.8 366.1,527.4 366.3,527.3 366.6,527.5 367.3,526.7 367.6,526.8 367.8,526.6 368.0,526.8 368.5,526.7 368.8,527.1 369.0,527.1 369.3,527.7 370.5,526.3 370.7,526.6 371.0,526.4 371.9,527.7 372.4,527.0 372.7,527.2 372.9,527.1 373.2,526.6 373.7,526.3 374.1,526.8 374.4,527.4 375.1,528.1 375.4,527.3 375.6,527.2 375.9,526.6 376.3,527.4 377.3,527.5 378.0,527.1 378.3,526.5 378.5,526.4 378.8,526.9 379.0,526.6 379.3,527.2 379.5,527.5 379.8,527.4 380.0,528.0 380.2,528.2 380.7,528.2 381.2,527.1 381.5,527.0 381.7,527.0 382.2,527.9 382.4,527.8 382.7,528.0 383.2,527.6 383.4,527.9 383.7,527.7 384.1,528.2 384.4,527.7 384.6,527.8 385.1,527.3 385.6,528.4 386.1,528.7 386.8,528.0 387.6,527.5 388.3,527.8 388.8,527.3 389.0,527.7 389.3,527.4 389.5,528.2 389.7,528.2 390.0,527.6 390.2,528.1 390.5,527.7 391.0,528.4 391.2,528.2 391.5,528.4 392.2,527.8 392.4,527.3 392.7,527.3 392.9,527.3 393.4,528.0 394.6,527.7 395.1,528.4 395.8,528.4 396.6,528.9 397.3,527.1 398.0,528.3 398.3,529.1 398.5,528.8 398.8,528.9 399.3,528.6 399.5,529.0 399.7,528.7 400.2,528.7 400.5,528.9 401.0,530.0 401.2,529.8 401.9,528.4 402.2,529.0 402.9,529.4 403.2,529.1 403.4,529.6 403.9,529.2 404.4,529.1 404.6,529.4 404.9,529.3 405.6,528.3 406.1,528.8 406.3,528.7 406.8,529.2 407.1,528.7 407.5,529.1 407.8,528.8 408.3,529.2 408.5,529.0 409.0,529.8 409.7,529.3 410.0,528.9 410.5,529.3 411.0,529.1 411.2,528.7 411.7,528.8 412.2,529.2 412.4,528.9 412.7,528.9 413.6,529.8 414.9,529.6 416.6,529.0 417.1,529.5 417.3,529.5 417.8,530.5 418.0,530.1 418.3,530.2 418.5,529.9 418.8,529.4 419.0,529.5 419.2,529.3 420.0,529.5 420.2,530.2 420.5,530.1 420.7,530.4 421.0,530.3 421.2,529.9 421.4,530.0 421.9,529.6 422.2,530.0 422.7,530.1 422.9,530.9 423.9,528.8 424.1,529.0 424.4,529.0 424.9,530.3 425.8,529.6 426.1,529.9 426.6,529.6 426.8,529.8 427.1,529.7 427.3,530.1 427.8,530.0 428.0,530.9 428.3,530.5 428.5,530.8 429.0,529.6 429.2,530.1 429.5,530.2 429.7,530.0 430.0,530.1 430.5,529.4 431.0,529.6 431.2,530.2 431.9,530.9 432.7,530.5 432.9,529.8 433.1,530.2 433.6,530.0 433.9,530.7 434.4,530.3 434.6,530.7 435.1,530.3 435.6,530.4 435.8,530.2 437.0,530.4 437.3,530.2 438.0,530.5" fill="none" stroke="#1e1e1e" stroke-width="0.75" clip-path="url(#ch)" stroke-linejoin="round"/>
<polyline points="267.6,532.4 268.1,532.4 268.3,532.0 269.3,532.8 270.3,531.8 271.3,532.7 271.5,532.6 272.5,531.7 272.7,531.9 273.2,531.8 273.7,532.3 274.4,532.6 274.7,532.5 274.9,532.8 275.4,532.4 275.6,532.5 275.9,532.3 276.1,532.6 276.4,532.6 276.6,532.2 277.1,532.0 278.1,532.9 278.8,532.2 279.1,532.2 279.5,533.0 279.8,533.0 280.0,533.0 280.8,531.9 281.0,531.8 281.7,533.1 282.0,533.1 282.5,532.5 283.0,532.4 283.2,531.9 283.7,532.2 283.9,532.0 284.2,532.3 284.7,531.7 285.6,532.7 285.9,532.7 286.1,532.2 286.4,532.4 286.9,531.6 287.1,531.8 287.6,531.3 287.8,531.7 288.1,531.4 288.6,531.6 288.8,531.5 289.1,532.0 289.8,531.2 290.8,531.7 291.5,530.7 292.2,530.8 293.2,530.2 293.7,530.2 293.9,530.7 294.2,530.4 294.7,531.0 295.6,530.1 296.4,530.4 297.3,529.8 298.3,529.9 300.0,529.2 301.0,529.3 302.0,528.8 304.2,528.9 305.9,528.2 306.6,528.1 307.6,527.7 308.3,527.7 309.0,527.3 311.5,527.3 312.5,526.6 312.9,526.6 313.7,526.2 314.7,526.2 317.1,525.4 318.3,524.7 318.8,524.7 319.3,524.9 320.0,524.4 321.2,524.1 322.2,523.3 323.7,523.0 325.6,522.2 326.6,522.4 327.6,522.0 329.0,522.2 330.0,521.8 330.5,522.1 331.0,522.0 332.5,521.4 333.4,521.5 334.4,520.7 335.4,520.6 336.8,519.9 338.5,519.7 339.5,520.3 340.0,520.1 340.5,520.3 341.5,521.6 341.7,521.5 342.2,521.8 342.7,522.6 343.7,523.1 344.6,524.5 345.4,525.2 345.9,525.2 346.8,525.7 347.8,525.7 349.3,526.7 350.3,527.0 351.2,527.5 351.7,527.4 352.4,527.5 353.4,528.1 354.4,528.3 355.1,528.8 355.4,527.9 356.1,527.6 356.3,528.4 356.6,528.0 356.8,528.0 357.1,527.4 357.3,527.2 357.6,527.3 357.8,527.1 358.1,527.7 358.8,527.7 359.0,528.0 359.3,527.5 359.5,527.9 359.8,527.9 360.0,527.1 360.2,527.9 360.7,527.6 361.0,527.8 361.2,527.2 361.7,527.2 362.2,527.5 363.4,527.2 363.9,527.7 364.1,527.6 364.9,527.0 365.6,527.0 365.9,526.4 366.6,526.0 366.8,526.5 367.1,526.4 367.8,527.2 368.3,526.5 368.8,526.3 369.5,527.4 370.0,527.6 370.2,526.9 370.5,526.8 371.0,526.0 371.2,526.4 371.5,526.1 371.7,526.5 372.2,526.0 372.7,526.1 373.2,527.5 373.7,527.0 373.9,526.4 374.4,526.4 374.6,526.5 374.9,526.9 375.4,527.0 375.6,526.6 375.9,526.9 376.1,526.8 376.6,527.6 376.8,527.1 377.1,527.1 377.8,528.3 378.8,527.2 379.0,527.7 379.3,527.8 379.5,527.2 379.8,527.8 380.2,526.9 380.5,527.4 380.7,527.0 381.0,527.5 381.7,528.0 381.9,527.6 382.2,527.8 382.7,527.7 383.7,528.3 384.4,527.7 385.1,528.1 385.6,527.2 385.8,527.2 386.1,526.9 386.8,527.5 387.6,527.8 388.3,526.7 389.3,528.0 389.5,527.8 389.7,528.5 390.7,528.1 391.5,528.7 391.9,527.5 392.2,527.6 392.4,527.4 392.7,528.1 393.2,528.3 393.4,527.9 394.1,527.4 394.6,528.1 394.9,527.7 395.4,528.8 395.6,528.4 395.8,529.1 396.3,528.1 396.6,528.3 396.8,528.2 397.3,529.0 398.0,528.3 398.5,528.7 398.8,528.7 399.5,528.0 400.0,529.0 400.5,529.0 400.7,528.3 401.0,528.2 401.5,528.2 401.7,528.7 401.9,528.8 402.7,528.2 403.2,528.1 403.9,527.2 404.6,528.9 404.9,528.9 405.4,528.0 405.8,527.8 406.3,528.4 406.6,528.2 406.8,528.9 407.5,529.5 407.8,529.2 408.0,529.3 408.3,528.9 409.3,529.3 409.7,528.8 410.5,528.9 411.0,528.5 411.4,528.9 411.9,529.6 412.2,529.0 412.7,529.0 413.4,529.8 413.6,529.7 413.9,529.1 414.1,529.3 414.6,529.1 414.9,529.7 415.1,529.7 415.6,530.3 416.1,529.9 416.6,528.9 417.3,528.5 418.5,529.6 418.8,529.6 419.0,529.1 419.2,529.3 419.7,527.8 420.0,528.3 420.2,527.8 421.0,529.5 421.2,529.7 421.7,528.6 422.2,529.2 422.4,530.3 422.7,530.5 422.9,529.7 423.1,530.0 423.4,529.7 423.6,529.9 423.9,530.3 424.6,529.4 424.9,529.6 425.3,529.4 425.6,529.8 425.8,529.7 426.3,530.8 427.3,529.0 427.8,529.7 428.0,529.5 429.0,531.0 429.2,530.6 429.5,530.5 429.7,529.8 430.0,529.7 430.7,530.3 431.0,529.7 432.2,530.7 432.4,529.8 432.9,530.2 433.1,529.7 433.4,530.1 433.6,529.5 433.9,529.5 434.4,530.2 434.6,530.0 434.9,530.6 435.3,530.6 435.6,531.1 435.8,530.5 436.3,531.0 436.6,530.6 437.3,530.2 437.5,530.7 438.0,531.0" fill="none" stroke="#1e1e1e" stroke-width="0.75" clip-path="url(#ch)" stroke-linejoin="round"/>
<polyline points="267.6,532.3 268.3,532.1 269.3,532.5 270.0,533.1 271.0,533.0 271.5,533.5 272.2,532.6 272.5,532.5 272.7,532.6 273.0,533.2 273.5,533.3 274.4,532.0 274.7,532.4 274.9,532.1 275.2,532.3 275.6,531.7 276.6,533.8 277.4,533.0 277.6,533.0 278.1,532.7 278.3,532.9 278.6,532.4 279.3,532.3 280.0,533.0 280.3,532.9 280.8,533.3 281.5,533.4 282.2,532.8 282.5,532.7 282.7,533.0 283.0,532.9 283.2,532.3 283.4,532.4 283.7,531.9 283.9,532.0 284.2,532.5 284.4,532.3 284.9,532.6 285.2,532.6 285.6,533.0 285.9,532.7 286.6,532.5 287.1,532.9 288.1,531.6 288.3,531.6 288.8,531.2 289.1,531.2 289.3,531.7 289.5,531.5 290.0,531.6 290.3,530.7 290.5,531.0 290.8,530.9 291.0,531.4 291.7,531.4 292.0,530.9 292.5,531.4 292.7,530.9 293.2,530.9 293.4,530.1 293.7,530.3 293.9,530.1 294.4,530.2 294.9,530.6 295.2,530.4 295.6,530.5 296.6,530.0 298.8,529.7 299.8,529.1 300.5,529.2 301.5,528.9 302.0,529.1 302.7,528.8 303.7,528.8 304.4,528.7 305.4,528.2 306.4,528.4 308.1,527.5 310.0,526.9 311.0,526.3 312.2,526.1 312.9,525.7 313.9,525.6 315.4,524.7 316.1,524.6 316.8,524.1 318.8,523.5 320.3,522.4 320.5,522.4 322.2,521.3 324.2,519.7 325.1,519.7 325.6,519.4 326.6,519.6 327.3,519.1 327.8,519.2 328.6,519.1 329.0,519.4 329.5,519.4 330.0,519.1 331.7,519.0 332.7,518.4 333.7,518.3 334.9,517.3 335.6,516.9 336.1,516.9 337.3,516.1 337.8,516.1 338.1,515.8 338.8,515.9 339.0,516.2 339.3,516.2 340.5,517.4 341.7,518.9 343.2,521.7 344.9,524.1 346.4,525.9 346.8,525.8 347.8,526.5 349.5,527.0 350.3,527.7 351.0,527.8 351.7,528.3 353.2,528.3 353.4,528.5 354.6,528.4 354.9,528.7 355.4,528.7 355.6,529.5 356.1,529.6 356.6,527.9 357.1,527.2 357.3,527.9 357.8,527.8 358.5,528.7 359.0,528.1 359.3,526.8 359.8,526.8 360.0,526.5 360.2,527.3 360.5,527.2 360.7,527.6 361.0,527.6 361.7,527.4 362.4,528.4 362.7,528.4 362.9,527.6 363.2,527.7 363.7,527.0 363.9,527.3 364.4,526.9 365.1,527.3 365.9,527.2 366.1,526.8 366.8,527.0 367.3,527.8 367.8,528.0 368.0,527.9 369.0,525.8 369.5,526.0 370.0,527.5 370.2,527.0 370.5,527.3 371.0,526.4 371.2,526.7 371.7,526.7 371.9,527.1 372.2,527.1 372.9,526.3 373.9,527.6 374.1,527.4 374.4,527.5 374.6,526.8 375.1,526.2 375.6,527.0 375.9,526.8 376.1,527.0 376.6,526.4 377.6,527.9 377.8,527.5 378.3,527.7 379.3,526.7 380.0,526.6 380.7,527.7 381.0,527.8 381.7,527.0 381.9,527.2 382.4,526.5 382.7,527.6 383.2,527.8 383.4,528.1 383.9,527.1 384.4,527.3 384.6,527.9 384.9,528.0 385.4,527.7 385.6,527.0 385.8,527.0 387.1,527.8 387.6,527.4 388.3,526.4 388.8,527.2 389.0,527.0 389.3,527.6 390.5,528.5 391.0,528.5 391.7,528.0 391.9,528.1 392.2,529.3 392.4,529.4 392.9,528.7 393.2,527.8 393.4,527.7 393.9,529.0 394.1,528.8 394.4,529.1 394.9,527.8 395.4,527.4 396.1,528.7 397.3,527.6 398.0,528.0 398.8,529.1 399.5,529.0 400.2,529.4 400.5,528.9 401.0,528.6 401.7,528.9 401.9,528.5 402.4,528.4 402.7,528.0 402.9,528.7 403.2,529.0 403.4,529.0 403.6,529.4 404.1,528.7 404.4,529.0 404.9,528.6 405.1,529.3 405.4,528.9 405.6,528.9 405.8,529.5 407.1,528.3 407.8,528.8 408.0,529.2 408.5,529.2 409.0,528.6 409.3,528.7 409.5,528.2 409.7,528.6 410.0,528.6 410.2,528.2 410.5,528.7 411.0,528.4 411.2,529.1 411.4,528.8 411.9,529.3 412.2,528.6 412.4,529.0 412.9,528.8 413.2,529.4 413.6,529.2 414.4,529.5 414.6,530.0 415.3,530.1 415.6,529.1 416.1,528.4 417.1,529.9 417.3,529.7 417.5,530.3 418.3,529.4 418.5,529.4 419.0,530.4 419.2,530.1 419.5,530.3 420.0,529.7 420.2,529.9 420.7,529.0 421.9,530.4 422.2,530.2 422.4,530.4 422.7,529.7 422.9,529.7 423.1,530.1 423.4,529.7 424.1,530.4 424.9,530.2 425.1,529.8 425.3,530.1 425.8,529.8 426.6,531.1 426.8,531.1 427.5,530.9 428.0,530.1 428.3,530.2 428.5,529.7 429.2,529.5 429.5,530.1 429.7,530.1 430.0,530.9 430.5,530.7 430.7,531.2 431.0,530.9 432.4,530.5 433.6,530.9 434.6,530.4 435.1,529.2 435.6,529.1 436.1,530.4 436.8,530.2 437.3,530.5 437.5,530.9 438.0,530.9" fill="none" stroke="#1e1e1e" stroke-width="0.75" clip-path="url(#ch)" stroke-linejoin="round"/>
<polyline points="267.6,532.8 267.8,532.9 268.1,532.5 268.3,532.7 268.6,533.3 268.8,533.1 269.1,533.5 270.0,533.2 270.3,533.6 270.8,533.5 271.3,532.6 271.5,532.7 271.7,532.6 272.2,533.8 272.5,533.5 272.7,533.6 273.0,533.1 273.5,533.0 273.9,533.8 274.2,533.4 274.7,533.5 274.9,533.2 275.2,533.6 275.6,533.5 276.9,534.1 277.4,534.5 277.6,534.5 277.8,534.2 278.1,533.4 279.1,534.2 279.5,533.9 280.3,534.4 281.3,533.2 282.0,534.6 282.2,534.5 282.5,533.8 283.0,533.5 283.4,534.2 283.7,534.2 284.2,533.9 284.4,534.0 284.7,533.9 284.9,534.1 285.6,533.0 285.9,533.0 286.1,533.4 286.4,533.3 287.1,532.3 287.8,533.1 289.3,531.5 289.5,531.6 289.8,531.4 290.3,531.9 290.5,531.5 290.8,531.7 291.0,531.1 291.5,531.6 292.0,531.3 292.2,530.6 292.7,530.6 293.2,531.6 293.7,531.2 293.9,530.6 294.4,531.1 294.9,531.0 295.2,530.2 295.4,530.1 295.6,530.5 296.1,530.2 297.1,530.4 298.1,529.9 299.1,529.9 299.8,529.4 300.5,529.2 300.8,529.3 301.0,529.2 301.5,529.2 302.5,528.8 303.4,528.8 303.7,528.6 304.9,528.6 306.9,527.9 307.8,527.0 308.6,526.7 309.0,526.7 310.3,525.9 312.0,525.2 312.7,524.7 313.4,524.6 313.9,524.2 314.7,523.9 315.1,523.5 316.1,523.3 316.4,522.9 317.6,522.1 319.8,521.0 321.5,518.8 322.0,518.6 322.9,517.7 323.4,517.6 325.4,516.2 327.6,515.8 328.3,516.0 330.7,515.9 331.7,515.0 332.9,514.8 333.7,514.4 334.6,513.5 335.6,513.1 337.1,511.8 338.3,511.4 339.8,512.6 341.0,514.5 342.9,518.8 343.9,521.6 345.6,525.1 348.5,527.5 349.5,527.7 350.3,528.2 351.0,528.2 352.0,528.5 352.4,528.4 354.6,529.0 354.9,528.5 355.4,528.6 355.6,528.0 356.1,528.3 356.6,529.1 357.1,529.4 357.3,528.8 358.1,528.1 358.8,528.3 359.3,527.4 359.8,527.3 360.0,528.3 360.2,528.3 360.7,527.5 361.0,526.6 361.2,526.7 362.0,527.8 362.2,527.7 362.4,527.1 362.9,527.1 363.2,526.8 363.4,527.0 363.9,526.1 364.4,526.5 364.6,526.4 364.9,527.0 365.4,527.2 365.6,527.8 365.9,527.8 366.6,527.8 367.3,526.9 367.8,527.1 368.0,526.9 368.5,527.1 368.8,526.8 369.0,527.3 369.3,526.8 370.0,527.0 370.5,526.2 370.7,526.6 371.0,526.2 371.5,527.0 371.7,526.6 371.9,527.3 372.2,527.2 372.4,527.5 372.9,527.1 373.4,527.0 373.7,527.4 373.9,527.1 374.1,527.5 374.6,526.6 374.9,526.8 375.1,526.4 375.9,527.4 377.1,527.3 377.3,526.8 377.6,526.8 378.0,526.2 379.3,527.5 379.8,526.5 380.0,526.7 380.2,526.6 380.7,527.0 381.2,527.1 381.9,527.9 382.4,527.4 382.7,527.6 382.9,527.2 383.4,527.2 383.7,526.3 384.1,526.5 384.4,526.1 385.6,528.0 386.1,528.0 386.3,527.3 387.1,526.8 388.5,528.1 389.7,527.7 390.2,528.0 390.5,527.6 390.7,527.9 391.2,527.7 391.9,528.0 392.4,528.8 392.9,528.6 393.4,527.8 393.6,528.0 393.9,527.7 394.1,528.0 394.6,527.5 394.9,527.6 395.1,527.2 396.1,528.4 396.3,527.8 396.6,527.7 397.5,528.5 398.0,528.4 398.3,529.0 398.8,528.4 399.0,528.7 399.7,528.6 400.0,528.0 400.2,528.0 400.5,528.6 400.7,528.8 401.2,528.6 401.5,528.0 401.9,528.7 402.2,528.6 402.4,529.2 403.4,528.5 404.1,528.3 405.1,529.7 405.4,529.7 405.8,529.1 406.1,529.4 406.8,529.3 407.3,529.0 408.0,529.2 408.3,529.7 409.0,529.9 409.3,529.4 409.7,529.1 410.2,529.2 410.5,529.1 411.0,529.5 411.4,529.4 411.7,529.1 412.4,529.2 412.7,529.5 412.9,528.9 413.2,528.8 413.4,529.3 413.6,528.6 413.9,529.2 414.4,529.1 415.1,530.5 415.6,530.5 415.8,529.7 416.1,529.5 416.3,529.6 416.6,529.2 416.8,529.6 417.1,529.6 417.3,529.1 417.8,529.3 418.0,529.0 419.5,530.5 419.7,529.6 420.0,530.0 420.5,529.8 421.0,530.4 421.2,529.9 421.9,529.9 422.2,530.4 422.7,530.7 422.9,530.5 423.4,529.3 423.9,529.0 424.4,529.8 424.6,529.7 424.9,530.0 425.1,529.9 425.8,531.3 426.6,529.9 426.8,529.0 427.8,530.8 428.0,530.9 428.3,530.5 429.0,530.3 429.7,531.2 430.0,531.2 430.5,530.6 431.0,529.6 431.2,529.7 431.4,529.5 431.9,530.4 432.2,530.3 432.4,530.6 433.1,530.5 433.4,530.9 433.6,530.7 434.1,531.0 434.4,530.7 434.6,531.3 434.9,530.9 435.3,531.0 435.6,530.6 436.3,530.4 436.8,530.7 437.0,530.6 438.0,531.2" fill="none" stroke="#1e1e1e" stroke-width="0.75" clip-path="url(#ch)" stroke-linejoin="round"/>
<polyline points="267.6,533.5 268.1,533.4 268.8,534.6 269.3,534.6 269.6,534.0 269.8,533.8 270.0,534.1 270.5,533.7 270.8,533.8 271.0,533.1 271.3,533.2 271.5,533.9 271.7,533.9 272.0,534.7 272.5,535.3 273.0,534.9 273.2,535.1 273.5,534.5 273.7,535.1 273.9,535.3 274.2,534.5 274.4,535.0 274.7,534.4 274.9,534.4 275.2,534.7 275.4,534.3 275.6,534.5 276.1,534.4 276.4,534.9 276.9,534.9 277.4,534.3 277.8,534.1 278.1,534.8 278.6,535.0 279.5,534.6 280.5,534.4 280.8,534.7 281.3,534.3 281.5,534.8 281.7,534.3 282.2,534.0 282.5,533.3 283.0,533.7 283.4,534.5 283.9,534.7 284.4,534.3 285.4,534.8 286.4,533.9 286.9,533.8 287.1,534.0 288.3,532.2 289.3,533.9 290.0,532.2 290.8,532.7 291.0,532.2 291.7,531.9 292.0,532.3 292.5,531.6 293.4,532.4 294.7,530.7 295.2,530.7 295.6,531.0 297.6,530.1 301.7,529.3 303.7,528.4 304.9,528.5 306.6,527.6 307.6,526.7 309.3,525.9 311.5,524.4 312.2,523.7 313.2,523.5 315.6,521.3 317.1,520.6 318.1,519.7 318.3,519.8 319.5,518.6 320.5,517.0 321.5,516.1 322.5,514.4 324.4,512.6 326.4,512.2 326.8,511.9 327.3,511.9 327.6,512.1 328.6,511.9 329.3,512.3 330.0,511.9 330.7,511.9 331.7,510.9 332.9,510.8 334.4,509.3 334.9,508.6 335.9,508.1 336.8,506.6 338.1,506.0 338.8,506.3 339.5,507.3 340.7,509.8 342.4,514.9 344.6,522.5 346.1,525.8 347.6,527.0 348.1,527.2 350.0,529.0 350.7,529.2 351.0,528.9 352.0,529.3 352.9,529.1 354.2,529.3 354.6,529.9 355.1,529.9 355.6,528.9 355.9,529.0 356.1,528.6 356.6,528.9 357.1,529.0 358.5,527.4 359.3,527.3 360.2,527.7 361.0,527.2 361.5,527.4 361.7,527.2 362.0,527.6 362.4,527.0 362.7,527.4 363.9,526.3 364.4,527.6 364.9,527.7 365.4,526.8 365.6,526.7 365.9,527.3 366.1,526.9 366.3,527.1 366.8,526.8 367.6,527.5 367.8,526.7 368.0,526.7 368.3,527.0 368.8,526.3 369.0,525.6 369.3,525.6 369.5,525.7 369.8,526.7 370.5,526.8 371.0,526.6 371.2,526.8 371.7,526.3 371.9,526.6 372.2,526.3 372.9,526.9 373.4,526.6 374.1,527.0 374.4,526.8 374.6,526.9 375.1,526.6 375.4,526.9 375.6,526.6 376.1,527.0 376.3,526.9 377.3,527.8 378.3,526.2 378.5,526.7 378.8,526.5 379.0,526.9 379.3,526.9 379.5,526.5 380.5,527.5 381.0,526.8 381.9,526.8 382.7,526.1 383.2,526.3 383.4,526.0 384.1,527.6 385.1,527.0 385.4,527.0 385.6,527.3 386.1,527.4 386.3,528.2 386.6,528.3 387.1,528.1 387.3,527.5 387.6,527.7 388.0,527.1 389.0,528.7 389.5,527.7 389.7,527.6 390.2,528.5 390.5,528.2 390.7,528.7 391.5,528.3 391.7,527.1 391.9,526.8 392.9,528.2 393.2,527.5 393.4,527.4 394.1,528.8 395.1,527.5 395.6,528.7 395.8,528.1 396.1,528.1 396.8,527.5 397.5,527.5 397.8,528.0 398.3,528.1 398.5,527.9 398.8,528.2 399.3,528.0 399.7,528.3 400.0,528.3 400.2,528.8 401.0,529.3 401.2,528.9 402.2,528.2 403.2,529.6 403.4,529.5 403.9,528.8 404.1,528.8 404.6,527.9 404.9,528.2 405.1,528.1 405.6,528.4 405.8,528.3 406.3,528.7 407.3,527.8 408.3,529.6 408.8,529.6 409.0,529.9 409.3,529.2 409.5,529.5 410.0,529.1 410.2,529.4 410.5,529.0 411.2,529.5 411.4,529.9 411.9,529.4 412.2,529.8 412.4,529.6 412.7,529.8 413.6,529.6 413.9,529.5 414.4,528.5 415.3,529.4 415.6,529.2 416.3,529.3 416.6,528.9 417.3,528.6 417.5,529.2 417.8,529.2 418.5,529.7 419.2,530.4 419.7,530.2 420.2,530.4 420.5,530.2 421.2,530.2 421.7,530.5 422.4,529.4 423.1,530.3 423.6,528.9 424.1,529.1 424.6,530.9 424.9,530.6 425.1,530.7 425.3,530.0 425.8,529.9 426.1,529.3 426.3,529.2 426.6,529.4 427.1,530.5 427.8,529.5 428.3,530.7 428.8,530.6 429.5,528.9 430.0,528.7 431.4,531.2 431.7,531.2 431.9,531.5 432.2,530.8 432.4,530.6 432.9,530.8 433.1,530.5 433.4,530.7 433.9,530.2 434.1,530.9 434.6,530.6 435.1,530.9 435.3,530.2 435.6,530.6 435.8,530.6 436.1,530.0 436.3,530.8 437.3,531.1 437.8,530.7 438.0,531.0" fill="none" stroke="#1e1e1e" stroke-width="0.75" clip-path="url(#ch)" stroke-linejoin="round"/>
<polyline points="267.6,535.9 267.8,536.4 268.1,536.3 268.3,536.1 268.8,534.9 269.3,534.6 269.6,535.0 269.8,534.9 270.0,535.4 270.3,535.2 270.5,535.5 271.0,535.4 271.5,535.9 271.7,536.7 272.0,536.5 272.2,537.2 272.7,536.1 273.7,536.6 274.9,535.8 275.2,536.2 275.6,536.5 275.9,537.1 276.1,537.1 276.6,537.4 277.1,537.1 277.8,536.1 278.3,536.4 278.6,537.0 278.8,536.5 279.1,536.4 279.3,536.8 279.5,536.5 280.0,537.4 280.5,536.8 280.8,537.0 281.0,536.5 281.5,536.7 281.7,536.4 282.5,536.9 282.7,536.9 283.0,536.1 283.4,535.8 283.7,535.9 283.9,536.7 284.7,536.5 285.2,535.5 285.4,535.6 286.1,534.6 286.4,535.1 286.6,535.1 287.1,536.0 287.3,535.7 287.6,535.7 287.8,534.9 288.1,534.9 288.6,533.9 288.8,534.9 290.0,532.5 290.5,532.8 291.0,533.7 291.2,533.5 291.5,534.1 291.7,534.2 292.0,533.6 292.2,533.7 292.7,533.1 293.2,533.5 293.7,533.2 294.2,533.5 295.6,531.7 296.9,531.1 297.6,530.9 299.5,530.0 300.8,529.8 301.7,528.9 303.0,529.1 304.2,528.4 305.1,528.1 306.4,527.3 307.1,526.2 307.8,525.6 308.8,524.4 310.3,522.9 311.0,522.5 313.4,519.6 314.4,519.1 316.1,517.1 316.6,516.3 317.6,515.5 320.3,511.5 322.2,506.7 323.9,504.2 325.9,502.4 327.6,502.2 328.1,502.3 328.8,503.0 329.3,502.9 329.8,502.3 331.2,501.9 332.0,501.3 333.9,499.3 335.1,497.0 336.1,495.9 337.1,494.3 337.8,493.4 338.3,493.5 339.5,495.4 340.5,498.3 342.0,505.3 344.6,520.6 345.9,525.4 347.6,528.4 349.8,530.3 350.3,530.3 351.2,530.9 351.7,530.7 352.0,530.8 352.2,530.6 353.2,530.6 353.9,530.1 355.1,530.0 356.1,528.3 356.8,529.5 357.1,529.6 357.3,528.8 357.8,528.0 358.3,527.9 359.3,528.8 359.5,528.7 360.0,528.0 360.2,528.1 361.0,527.7 361.2,527.1 361.5,527.6 362.0,527.2 362.2,527.4 362.4,526.7 362.7,526.6 363.2,527.1 363.4,526.7 363.7,526.7 364.1,525.7 364.6,525.7 365.4,526.2 365.9,525.8 366.3,526.5 366.6,526.4 366.8,526.8 367.8,525.8 368.3,525.9 368.5,525.6 369.5,526.8 370.5,526.6 371.0,526.1 371.2,525.6 371.5,525.6 371.9,525.4 372.2,525.8 372.4,525.8 372.7,526.3 373.4,526.3 373.7,525.8 374.1,526.6 374.6,526.7 375.1,525.9 375.9,525.8 376.1,526.4 376.3,526.4 376.6,526.9 376.8,527.0 377.1,526.6 377.6,526.7 378.3,525.8 378.8,526.1 379.8,527.9 380.2,527.4 380.7,526.2 381.5,527.3 381.7,528.2 381.9,528.1 382.7,526.9 383.4,527.7 383.9,527.0 384.4,526.9 384.6,528.0 385.4,527.3 385.8,526.5 386.1,526.6 386.6,525.8 386.8,526.3 387.1,526.2 387.3,527.2 387.6,527.2 388.0,528.4 388.3,527.8 388.5,528.1 389.0,527.2 389.3,527.6 389.7,527.3 390.0,527.5 390.5,526.7 391.5,528.3 391.7,527.8 392.2,527.8 392.7,528.4 393.4,528.4 393.6,528.7 394.1,528.2 395.1,528.4 395.4,527.8 395.8,527.4 396.1,527.9 396.8,528.6 397.1,528.2 397.3,528.6 398.0,529.2 398.8,528.0 399.3,528.4 400.2,527.8 400.7,528.7 401.2,528.8 401.7,528.6 401.9,528.7 402.2,528.3 402.4,528.2 403.4,529.0 403.6,528.8 403.9,528.9 404.1,528.7 404.4,528.8 404.9,528.2 405.1,528.8 405.6,529.1 406.3,528.4 406.6,529.0 406.8,529.0 407.1,529.4 407.5,528.8 407.8,529.0 408.0,528.6 408.3,528.7 408.8,528.6 409.7,529.1 410.5,528.8 411.4,530.8 412.2,529.8 413.2,530.4 413.4,529.9 413.6,530.2 414.1,529.6 414.6,529.4 414.9,529.4 415.1,529.8 415.8,529.1 416.3,529.2 416.8,529.8 417.1,529.2 417.3,529.7 417.5,529.4 418.0,529.7 418.8,529.3 419.2,529.7 419.5,530.2 420.0,530.3 420.5,529.1 420.7,528.9 421.4,530.0 421.9,529.8 422.2,529.2 422.9,529.8 423.1,530.5 423.6,530.0 423.9,530.1 424.1,529.7 424.9,530.3 425.3,530.2 425.8,529.6 426.1,529.6 427.1,530.9 427.5,530.7 428.0,529.9 428.5,529.5 429.0,531.1 429.2,530.8 429.5,530.9 430.0,530.4 430.2,531.1 430.5,531.0 430.7,531.2 431.0,531.1 431.2,530.7 431.4,531.0 431.7,530.5 431.9,531.0 432.2,531.0 432.4,530.6 432.7,530.8 432.9,530.3 433.6,530.7 434.1,531.5 434.6,531.4 434.9,531.0 435.3,530.8 435.6,530.5 435.8,530.7 436.6,530.8 437.0,530.4 437.5,530.9 437.8,530.7 438.0,530.9" fill="none" stroke="#1e1e1e" stroke-width="0.75" clip-path="url(#ch)" stroke-linejoin="round"/>
<polyline points="267.6,537.0 267.8,536.9 268.6,538.0 268.8,538.0 269.1,537.8 269.3,537.9 269.6,537.5 270.0,537.4 270.5,536.5 270.8,536.5 271.5,537.6 272.0,537.8 272.2,537.7 272.5,537.9 273.0,537.5 273.5,537.8 273.7,538.6 273.9,538.6 274.4,539.4 274.7,539.4 275.4,540.2 275.6,539.5 275.9,539.6 276.1,538.5 276.4,538.4 276.6,539.2 277.1,539.9 277.8,538.0 278.3,537.5 278.8,538.0 279.1,537.9 279.3,538.3 279.8,537.7 280.5,539.3 281.3,538.5 282.0,538.8 282.2,538.7 282.5,538.1 282.7,538.1 283.0,537.7 283.9,537.8 284.4,537.6 285.4,539.2 286.4,536.6 286.9,536.5 287.1,537.6 287.6,536.7 287.8,537.0 288.1,535.9 288.3,536.5 288.8,535.6 289.1,536.2 289.5,536.2 290.5,534.4 290.8,535.1 291.0,535.3 291.2,535.2 291.5,535.5 292.0,534.0 292.7,533.4 293.2,533.9 293.4,533.7 293.9,534.4 294.2,533.7 294.4,534.1 295.4,531.6 295.6,532.2 297.8,531.2 298.8,531.0 299.8,530.2 300.8,529.7 301.2,529.8 301.7,529.5 302.2,528.9 303.2,528.8 303.9,528.2 304.9,527.9 305.4,527.3 306.4,526.7 307.6,524.7 308.1,524.3 312.5,518.0 313.4,517.1 314.2,515.8 315.9,513.7 317.8,510.3 318.6,509.3 320.3,505.7 321.7,501.0 323.4,496.4 325.1,494.1 325.9,493.5 326.6,493.3 327.1,493.6 328.1,493.6 328.6,494.1 329.0,494.2 329.5,493.8 330.7,493.3 332.0,492.1 332.2,492.0 333.9,489.5 334.9,487.1 336.6,484.1 337.3,482.4 337.8,481.7 338.3,481.5 339.0,482.9 340.5,488.7 341.7,496.2 344.6,518.6 345.9,525.0 346.8,528.3 348.1,530.3 349.5,531.8 350.5,531.9 351.2,532.3 352.0,532.2 352.4,531.8 353.9,531.2 354.4,531.2 354.6,532.1 355.1,531.4 355.6,529.7 355.9,529.9 356.1,529.3 356.3,529.7 357.3,529.8 358.3,527.7 359.3,528.5 360.0,528.6 360.5,528.4 360.7,527.9 361.5,527.9 362.4,526.5 363.2,526.8 363.4,526.5 364.1,527.3 364.9,526.9 365.1,526.4 365.4,526.8 365.9,526.4 366.8,526.5 367.3,526.0 367.8,526.6 368.3,526.5 368.8,525.7 369.0,526.1 369.5,525.2 369.8,525.3 370.0,525.1 370.5,525.7 370.7,525.6 371.0,525.9 371.2,525.6 371.7,525.8 371.9,525.0 372.2,525.3 372.7,525.2 372.9,525.5 373.7,525.2 374.1,525.5 374.4,526.1 374.6,525.5 375.1,525.6 375.4,525.2 375.6,525.9 375.9,525.7 376.6,526.2 377.1,526.1 377.6,525.3 378.5,526.9 378.8,526.6 379.5,526.5 379.8,526.7 380.2,526.4 381.0,526.8 381.9,526.1 382.4,526.6 382.7,526.7 382.9,526.5 383.2,527.0 383.4,526.8 383.7,527.2 384.1,527.3 384.4,526.8 384.9,526.6 385.1,526.2 385.4,526.8 385.6,526.6 386.1,527.3 386.3,526.9 386.6,527.1 387.3,526.6 387.8,527.4 388.3,527.4 389.0,526.5 389.3,526.9 389.7,526.4 390.0,527.0 390.2,527.0 390.5,527.7 391.0,528.0 391.7,527.5 392.2,526.8 392.4,526.8 393.4,528.1 393.6,528.1 394.1,528.6 394.4,528.0 394.6,528.1 395.1,527.1 395.4,527.5 395.6,527.3 395.8,527.7 396.1,527.6 396.3,528.0 396.6,527.9 397.1,528.4 397.5,528.2 398.0,527.2 398.5,527.6 398.8,528.4 399.5,529.1 400.7,527.0 401.0,527.5 401.2,527.4 401.7,528.2 402.4,528.5 402.7,528.8 402.9,528.2 403.2,528.5 403.6,528.1 403.9,528.6 404.4,527.9 405.1,528.9 405.4,529.0 405.6,528.3 406.1,528.4 406.3,528.9 407.3,528.1 407.8,529.0 409.0,529.4 409.3,529.3 409.5,528.8 410.2,528.6 410.5,529.3 411.0,528.7 411.7,528.6 411.9,528.9 412.7,529.0 413.2,529.9 413.4,529.7 413.6,530.4 413.9,529.9 414.4,530.1 415.1,529.8 415.3,530.0 415.6,529.5 416.3,529.0 416.8,530.1 417.1,530.0 417.5,530.4 418.3,530.5 418.8,529.6 419.0,530.0 419.2,529.7 419.7,530.9 420.0,530.5 420.2,530.8 420.7,530.1 421.0,530.2 421.4,529.6 422.2,529.4 422.4,529.1 422.7,529.5 422.9,529.5 423.4,530.1 424.1,529.2 425.1,530.6 425.3,530.6 425.8,529.6 426.1,529.9 426.6,529.7 426.8,530.1 427.5,529.9 427.8,530.3 428.0,530.1 428.3,530.9 428.5,531.1 428.8,530.7 429.0,530.8 429.2,530.4 430.0,531.3 430.7,531.3 431.0,531.2 431.7,530.0 431.9,530.1 432.2,530.5 433.1,530.9 433.4,530.7 433.6,530.9 433.9,530.0 434.6,530.7 434.9,531.5 435.1,531.3 435.6,531.2 436.1,531.5 436.8,531.3 437.5,531.8 438.0,531.7" fill="none" stroke="#1e1e1e" stroke-width="0.75" clip-path="url(#ch)" stroke-linejoin="round"/>
<polyline points="267.6,539.4 267.8,539.4 268.1,540.0 268.3,539.3 268.6,539.8 269.1,539.2 269.3,539.7 269.6,539.3 270.3,540.5 270.8,540.4 271.0,540.5 271.3,540.3 271.7,541.6 272.0,541.0 272.5,540.5 272.7,540.5 273.0,541.4 273.2,541.7 273.5,541.4 273.7,541.5 273.9,540.3 274.4,542.1 274.7,541.3 274.9,541.5 275.4,540.4 275.9,540.7 276.1,540.1 276.9,541.7 277.1,541.7 277.4,542.1 277.6,541.9 278.1,542.2 279.1,539.9 279.3,540.6 279.5,540.6 279.8,541.0 280.0,541.6 280.8,540.1 281.3,539.7 281.7,540.3 282.2,540.5 282.5,539.8 283.0,539.5 283.2,539.6 283.7,540.7 283.9,540.5 284.2,541.4 284.4,540.9 284.7,540.9 285.2,540.2 285.6,540.2 286.6,538.7 287.1,539.4 287.6,538.3 288.1,536.4 288.3,537.8 288.6,537.6 288.8,537.8 289.1,537.7 289.3,536.5 289.5,537.3 290.0,536.7 290.3,536.8 290.5,536.1 290.8,536.0 291.0,536.5 291.2,536.6 291.7,534.7 292.2,534.5 293.0,536.2 293.2,535.7 293.4,535.7 293.7,536.3 293.9,535.5 294.4,534.7 294.9,532.9 295.9,533.2 297.1,532.5 298.1,531.4 299.8,530.8 301.5,529.3 303.4,528.6 305.1,527.1 306.6,525.5 309.0,520.7 313.2,513.3 315.1,510.2 317.6,505.3 319.3,500.9 320.8,495.9 322.9,487.3 324.7,483.4 325.4,482.4 326.6,481.5 329.0,482.7 329.5,482.7 331.7,480.6 333.2,478.6 336.4,469.5 337.3,467.1 337.6,466.7 338.1,466.5 338.3,466.6 338.8,467.6 339.5,470.3 340.5,475.8 342.2,491.0 344.6,516.6 345.6,523.8 346.6,528.3 347.3,530.6 347.8,531.7 349.5,533.7 350.5,534.3 351.2,534.4 353.7,532.5 354.4,532.4 354.6,533.3 355.1,532.0 355.9,531.7 356.6,530.2 357.1,530.2 357.6,529.9 358.5,527.7 359.3,527.5 359.8,528.6 360.7,526.7 361.0,526.5 361.2,526.6 361.5,526.4 361.7,527.1 362.0,526.9 362.4,527.0 362.7,526.4 363.7,527.0 364.1,526.5 364.9,526.6 365.4,526.4 365.6,526.0 366.3,525.7 366.6,526.3 367.8,524.9 368.0,525.6 368.3,525.9 368.5,525.5 369.0,525.2 369.3,525.2 369.5,525.5 369.8,525.6 370.0,525.2 370.2,525.2 370.5,525.3 371.0,526.2 371.5,525.8 371.7,526.0 371.9,525.4 372.4,525.5 372.7,524.5 373.7,525.6 374.1,525.5 374.4,525.9 374.9,525.8 375.1,526.1 375.4,525.8 375.9,526.9 376.1,526.5 376.3,526.7 376.6,526.2 377.1,526.5 377.3,526.1 377.6,526.2 377.8,525.4 378.3,525.3 378.5,525.4 378.8,526.1 379.0,526.0 379.5,526.1 380.0,525.6 380.2,526.3 380.7,526.2 381.0,526.4 381.2,525.7 381.5,525.7 381.7,526.3 382.4,527.0 382.9,526.0 383.2,526.4 384.1,525.5 384.9,527.2 385.4,527.1 385.8,526.4 386.1,526.6 386.6,526.1 386.8,526.8 387.1,526.6 387.3,526.8 387.8,526.5 388.0,526.8 388.3,526.9 389.0,526.2 389.7,526.5 390.0,526.4 390.2,526.0 390.5,526.6 391.7,527.3 392.2,528.4 393.4,526.3 393.9,527.2 394.1,527.0 394.4,527.4 394.9,527.0 395.4,527.4 395.6,527.2 396.1,528.2 396.3,528.1 396.6,528.3 397.1,527.9 397.5,528.3 398.5,527.3 398.8,527.4 399.0,527.9 399.3,528.0 399.7,528.0 400.0,527.5 400.2,527.4 400.7,528.3 401.5,528.6 401.9,529.2 402.4,528.7 402.7,527.9 403.4,527.3 403.6,527.8 404.1,528.1 406.1,530.5 407.1,527.9 407.8,529.6 408.0,529.1 408.5,529.1 408.8,528.9 409.0,529.8 409.3,529.4 410.0,529.5 410.2,529.8 411.0,528.7 411.4,528.3 412.2,528.5 412.4,528.4 413.2,529.2 414.1,529.8 414.4,530.2 414.9,529.7 415.1,529.8 415.3,529.1 416.1,528.9 416.3,529.3 416.6,529.0 416.8,529.2 417.1,529.1 417.3,529.2 417.5,530.0 418.3,531.1 418.5,530.4 419.2,529.7 419.5,530.0 419.7,529.9 420.0,530.5 420.7,531.3 421.0,530.5 421.2,530.4 421.7,529.8 421.9,530.4 422.2,530.1 422.4,530.3 422.9,529.9 423.1,530.4 423.6,530.5 423.9,531.1 424.4,531.0 424.6,531.1 424.9,530.9 425.1,530.9 425.3,530.5 425.8,531.0 426.1,530.3 426.3,530.9 426.8,530.5 427.1,530.9 427.5,530.5 428.5,530.3 428.8,530.6 429.2,530.6 429.5,530.9 429.7,530.5 430.0,530.6 430.2,531.1 430.7,531.3 431.2,530.7 431.7,530.6 432.2,531.5 432.4,531.1 432.9,530.8 433.1,530.1 433.6,531.0 433.9,530.9 434.1,531.2 434.4,531.1 435.1,532.2 435.6,532.3 436.8,531.5 437.0,531.5 437.3,531.9 437.5,531.4 437.8,531.9 438.0,531.7" fill="none" stroke="#1e1e1e" stroke-width="0.75" clip-path="url(#ch)" stroke-linejoin="round"/>
<polyline points="267.6,540.9 267.8,541.1 268.1,540.9 268.6,542.4 269.1,542.6 269.6,542.3 270.0,542.6 271.0,541.9 271.7,539.9 272.7,543.4 273.0,543.3 273.2,542.7 273.5,542.8 273.9,542.5 274.2,543.1 274.7,543.0 274.9,543.6 275.4,543.2 275.6,543.7 276.1,543.7 276.4,544.3 276.6,544.3 277.6,542.7 277.8,542.6 278.3,543.4 278.8,542.9 279.1,543.2 279.3,542.6 279.5,542.8 279.8,542.8 280.0,542.1 280.8,543.7 281.3,543.3 281.7,543.5 282.0,543.9 282.2,542.4 282.5,542.1 283.0,542.7 283.2,544.0 283.4,543.8 284.2,541.8 284.7,542.5 284.9,542.4 285.2,542.6 285.9,541.6 286.4,539.9 286.9,538.9 287.3,539.5 287.6,539.0 287.8,539.8 288.1,539.6 288.3,539.7 288.8,538.4 289.1,538.8 289.3,538.3 289.5,538.5 290.0,537.2 290.3,538.0 290.8,538.2 291.2,537.1 291.5,537.2 291.7,537.7 292.2,536.3 292.5,536.4 293.0,536.2 293.2,537.2 293.7,537.3 293.9,537.8 294.4,535.7 294.7,535.4 294.9,535.7 295.2,535.0 295.4,536.2 295.6,534.5 296.4,533.6 296.9,533.4 297.3,532.6 297.8,532.3 298.3,532.3 299.3,531.0 299.8,531.0 300.8,530.3 301.2,530.1 302.0,529.1 302.7,528.7 303.0,528.8 303.4,528.3 303.7,528.3 304.9,526.9 305.4,526.6 306.1,525.5 307.1,523.4 313.2,509.5 313.9,508.2 316.4,502.1 318.8,495.3 320.5,488.6 322.5,478.8 323.7,474.3 324.7,471.7 325.4,470.3 326.1,469.6 326.6,469.4 327.8,470.3 329.0,470.6 329.5,470.4 330.7,469.5 332.5,466.9 333.7,463.9 337.3,450.9 337.6,450.3 338.1,450.0 338.5,450.6 339.3,453.3 340.5,462.2 342.0,478.5 344.6,513.6 345.9,525.4 346.6,529.3 347.8,533.0 348.5,534.3 350.3,536.2 351.0,536.3 351.7,536.0 354.4,533.4 354.6,533.4 355.4,531.8 356.3,531.4 356.6,531.0 356.8,531.3 357.1,530.8 357.3,530.9 357.8,529.4 358.1,529.3 358.3,529.5 358.8,529.1 359.3,527.9 359.5,527.8 360.0,528.2 360.5,528.1 361.7,526.6 362.2,527.2 362.4,526.5 363.2,526.7 363.4,526.9 364.1,525.6 364.4,525.6 364.9,526.3 365.4,526.3 365.6,526.5 365.9,526.3 366.1,526.7 367.1,524.9 367.8,525.1 368.3,524.6 369.0,525.0 370.0,524.4 370.2,524.1 370.7,524.4 371.2,525.3 371.5,524.9 371.9,525.0 372.2,524.8 372.4,525.4 372.9,524.2 373.4,524.2 373.9,525.1 374.4,525.2 374.6,525.0 375.1,525.5 375.4,525.2 375.6,525.2 375.9,524.9 376.1,525.0 376.3,525.5 376.8,525.2 377.1,525.5 377.3,524.9 377.8,525.3 378.0,524.8 378.8,525.2 379.3,525.0 380.2,525.8 380.5,525.3 380.7,525.3 381.2,524.7 381.5,524.9 381.7,524.8 382.4,525.9 383.4,525.3 383.9,526.3 384.4,526.0 384.6,526.1 385.1,525.5 385.4,526.4 385.8,526.4 386.1,527.0 386.3,526.1 386.6,526.3 387.1,525.9 387.3,526.5 387.6,525.8 387.8,526.2 388.5,526.4 388.8,526.3 389.0,526.7 389.3,526.6 389.7,527.3 390.0,526.9 390.7,527.5 391.2,527.2 391.7,526.6 392.2,526.3 393.2,527.3 393.6,526.9 394.9,527.2 395.6,527.0 396.3,527.5 397.1,526.8 398.3,528.4 398.8,527.8 399.5,528.4 400.0,527.5 400.7,528.3 401.2,527.4 401.7,528.1 401.9,528.9 402.2,528.9 402.9,527.4 403.9,528.9 404.4,528.1 405.1,528.5 405.4,529.3 406.1,529.8 406.3,529.4 407.1,529.6 407.3,529.8 407.5,529.8 407.8,529.3 408.3,529.2 408.8,530.1 409.0,530.0 409.3,530.2 409.7,529.6 410.2,529.7 410.5,529.3 410.7,529.4 411.0,529.0 411.4,529.4 411.7,529.3 412.2,529.7 413.2,528.9 414.4,530.2 415.1,529.6 415.8,529.9 416.6,529.5 417.1,530.3 417.8,530.1 418.0,529.6 418.5,529.9 419.2,529.8 419.7,529.4 420.0,529.7 420.2,529.3 420.7,529.4 421.0,529.2 421.4,530.4 421.7,530.2 421.9,530.5 422.2,529.8 423.1,530.9 423.9,530.9 424.6,530.6 425.1,530.7 425.3,531.2 425.6,531.3 426.1,531.1 426.6,530.4 427.5,531.9 428.5,530.5 429.0,530.9 429.5,530.8 429.7,531.2 430.2,531.1 430.5,531.5 430.7,531.1 431.0,531.1 431.2,531.6 431.9,532.1 432.4,531.2 432.7,531.3 432.9,530.7 433.1,531.3 433.6,531.6 433.9,532.3 434.9,531.3 435.1,531.4 435.6,532.3 435.8,531.8 436.3,532.3 437.3,531.4 437.5,531.5 437.8,532.2 438.0,532.2" fill="none" stroke="#1e1e1e" stroke-width="0.75" clip-path="url(#ch)" stroke-linejoin="round"/>
<polyline points="267.6,543.5 267.8,543.2 268.1,543.7 268.6,543.8 268.8,545.0 269.3,545.0 269.6,545.6 269.8,544.0 270.3,543.4 270.5,543.4 270.8,544.5 271.0,543.7 271.3,544.7 271.7,543.8 272.0,544.2 272.2,544.0 272.7,544.4 273.7,546.1 273.9,545.3 274.4,544.6 275.4,547.3 275.6,546.9 275.9,547.4 276.4,547.0 276.6,547.0 277.4,545.8 277.6,546.7 277.8,546.6 278.1,546.1 278.3,546.4 278.6,546.0 278.8,546.4 279.1,547.6 279.8,545.6 280.0,545.4 280.3,546.3 280.5,546.2 280.8,545.6 281.0,545.8 281.3,544.1 281.5,544.0 281.7,544.1 282.0,545.1 282.5,546.0 282.7,545.7 283.0,544.3 283.2,545.4 283.4,545.6 283.9,544.9 284.2,544.2 284.4,544.2 284.7,544.6 284.9,543.5 285.2,543.6 285.4,543.3 285.9,544.9 286.1,544.4 286.4,544.8 286.6,543.6 286.9,543.9 287.1,543.2 287.3,541.8 287.8,541.7 288.3,542.5 288.8,540.4 289.3,539.7 289.8,540.5 290.3,538.9 290.5,539.2 291.0,539.3 291.2,539.3 291.5,538.7 292.0,538.8 292.2,539.3 293.2,536.4 293.4,536.3 293.7,537.2 293.9,537.4 294.4,536.3 294.7,534.8 294.9,534.5 295.2,535.1 295.4,534.9 295.6,535.1 298.8,532.3 299.5,531.2 300.3,530.8 301.5,529.5 303.0,528.8 303.7,528.3 305.4,526.3 306.9,523.5 309.5,515.4 314.4,503.1 318.1,491.7 320.3,482.4 322.7,468.1 324.4,461.7 325.9,458.6 326.4,458.4 326.8,458.7 327.1,458.6 328.1,459.5 328.8,459.7 329.5,459.7 331.2,457.9 332.7,454.9 333.2,453.5 337.1,437.7 337.8,435.6 338.1,435.6 338.5,436.3 339.3,439.8 340.5,450.2 341.7,466.3 344.4,508.0 345.9,525.0 346.6,530.3 347.1,532.4 348.1,535.1 348.8,536.7 349.3,537.3 350.3,538.1 351.5,537.7 352.2,537.2 354.2,534.9 354.4,534.7 354.6,534.9 355.1,533.3 356.1,531.9 357.1,531.1 357.6,529.7 358.3,529.4 358.5,529.5 358.8,528.8 359.5,528.2 361.2,527.4 361.5,527.0 361.7,527.2 362.0,527.0 362.2,526.2 362.4,526.2 362.7,525.7 362.9,525.5 363.2,525.9 363.4,525.7 363.7,526.0 364.1,525.8 364.4,526.2 364.6,525.4 365.1,525.8 365.4,525.1 365.6,525.1 366.1,523.9 367.1,525.2 367.3,525.2 367.6,524.6 368.3,524.6 368.5,524.9 368.8,524.8 369.3,524.4 370.0,524.5 370.7,525.5 371.2,525.2 371.7,523.6 371.9,523.8 372.2,523.3 372.7,523.8 372.9,523.8 373.4,524.5 373.9,524.3 374.1,524.5 374.6,524.7 375.6,524.3 375.9,524.6 376.8,524.9 377.3,524.5 377.6,524.7 377.8,524.5 378.3,525.3 378.8,525.2 379.5,524.9 379.8,525.0 380.0,525.4 380.2,525.3 380.7,526.0 381.0,525.4 381.2,525.5 381.5,525.2 381.7,524.5 381.9,524.8 382.2,524.6 382.7,525.5 382.9,525.5 383.2,526.1 383.4,525.8 383.7,526.0 384.6,526.3 384.9,526.7 385.4,526.5 385.8,525.7 386.6,527.1 387.1,526.5 387.6,526.3 388.0,526.5 388.5,526.2 389.5,527.0 390.0,526.4 390.2,526.7 390.5,526.2 390.7,526.6 391.0,526.6 391.2,526.4 391.5,527.0 392.2,527.2 392.4,526.9 392.7,527.3 393.9,526.7 394.4,527.8 394.9,527.7 395.1,527.1 395.8,527.0 397.1,528.3 397.3,527.9 397.5,527.9 398.5,527.3 398.8,527.5 399.0,527.3 399.5,529.0 399.7,529.0 400.2,528.2 400.5,527.1 400.7,526.9 401.5,528.5 401.9,528.5 402.2,527.8 402.4,528.3 403.4,527.8 404.1,529.9 404.4,530.1 404.6,529.4 405.1,529.4 405.4,528.8 405.6,529.0 407.1,527.7 407.8,528.1 408.8,529.8 409.5,528.9 409.7,528.2 410.5,528.5 410.7,529.1 411.2,529.3 412.2,528.4 412.4,528.9 412.7,528.8 412.9,529.5 413.2,529.7 413.4,529.5 413.6,530.0 413.9,529.5 414.4,529.5 415.3,530.5 415.8,529.9 416.3,530.2 416.6,529.9 417.1,530.2 417.5,531.0 418.0,530.2 418.5,529.8 419.0,530.7 419.2,530.2 419.5,530.4 420.5,530.3 421.2,530.6 421.4,530.1 421.7,530.1 421.9,529.5 422.4,530.4 422.7,529.9 422.9,530.3 423.4,530.2 423.9,531.3 424.1,531.0 424.4,531.2 424.9,530.9 425.1,531.0 425.3,530.4 426.1,530.2 426.3,530.6 426.6,530.4 427.1,531.1 427.5,531.4 427.8,531.0 428.5,530.9 428.8,531.3 429.0,530.9 429.5,531.2 429.7,530.8 430.0,531.3 430.2,531.0 430.5,531.3 431.0,531.2 431.2,532.0 431.7,532.1 431.9,532.0 432.4,530.7 432.7,530.8 432.9,530.4 433.6,531.6 433.9,532.8 434.1,532.2 434.6,531.9 434.9,531.4 435.3,532.0 435.6,531.8 435.8,532.0 436.6,533.3 437.0,532.2 437.3,532.3 438.0,533.3" fill="none" stroke="#1e1e1e" stroke-width="0.75" clip-path="url(#ch)" stroke-linejoin="round"/>
<polyline points="267.6,543.7 268.1,545.3 268.6,546.2 269.3,544.3 269.8,544.7 270.0,544.7 270.3,545.6 270.5,545.6 270.8,545.3 271.0,546.2 271.5,545.3 271.7,545.3 272.0,544.5 273.0,546.3 273.2,546.1 273.5,546.2 273.7,545.9 274.7,547.2 274.9,546.4 275.2,547.4 275.4,547.6 275.9,548.9 276.6,547.2 276.9,547.3 277.8,544.9 278.6,546.5 278.8,546.7 279.5,546.0 280.0,545.0 280.3,545.1 280.5,544.2 281.0,546.1 281.3,545.6 281.5,546.2 282.2,544.0 282.5,544.8 283.0,544.8 283.2,545.8 283.4,545.3 283.9,545.5 284.2,545.3 284.4,544.3 284.7,544.3 284.9,543.4 285.4,542.8 285.6,543.3 285.9,544.8 286.6,543.6 286.9,542.4 287.1,542.1 287.3,542.7 287.6,542.1 287.8,542.0 288.1,542.6 288.3,542.6 288.6,541.3 288.8,541.4 289.1,540.9 289.5,541.4 289.8,540.5 290.3,540.0 290.8,540.8 291.7,538.0 292.2,537.7 293.4,535.8 293.9,536.9 294.2,536.2 294.7,536.7 295.9,534.7 296.1,534.7 296.9,534.2 297.1,533.8 298.1,533.2 299.8,531.1 301.2,529.8 302.2,529.4 303.0,528.6 305.1,527.0 306.4,524.4 309.3,515.7 313.4,504.9 317.8,490.9 319.8,483.2 322.5,467.2 323.2,463.5 324.4,459.1 325.1,457.2 325.9,456.1 326.4,455.7 326.6,455.6 327.1,455.8 328.1,456.8 328.8,457.0 330.0,456.8 331.5,454.8 333.4,449.8 336.6,435.8 337.6,432.5 337.8,431.9 338.1,431.7 338.5,432.4 338.8,433.3 339.3,436.2 340.7,449.9 342.2,471.1 344.2,503.9 345.6,522.9 346.4,528.7 347.6,534.2 348.8,537.2 349.5,537.7 350.3,538.7 350.7,539.0 352.4,537.3 353.7,535.5 354.4,534.7 354.6,534.8 355.1,533.6 355.4,533.6 357.3,530.0 357.6,530.0 357.8,529.5 358.1,529.6 358.3,529.2 358.5,529.3 359.0,528.6 359.3,528.8 359.5,528.2 360.0,528.2 360.2,527.5 361.0,527.8 361.2,528.4 361.5,528.6 362.7,526.8 362.9,526.6 363.2,527.0 363.4,526.3 363.7,526.5 363.9,526.5 364.1,526.0 364.4,526.2 364.6,525.9 364.9,525.9 365.4,525.3 365.6,525.3 366.3,524.9 366.6,524.4 366.8,524.7 367.3,524.5 367.6,524.6 368.3,524.5 368.8,524.0 369.3,524.2 369.5,524.6 369.8,524.4 370.2,524.4 371.0,525.0 371.5,524.1 371.9,523.7 372.2,524.1 372.4,523.7 372.9,524.0 373.4,524.7 373.9,524.3 374.1,523.7 374.4,523.8 374.6,524.4 374.9,524.1 375.1,524.3 375.4,524.2 375.6,523.7 375.9,524.1 376.1,523.6 376.6,524.4 376.8,524.0 377.1,524.5 378.0,525.2 378.8,524.5 379.8,525.8 380.2,525.0 380.5,525.1 381.0,524.8 381.2,525.3 381.5,525.0 381.9,525.2 382.2,524.9 382.4,525.5 382.7,525.7 382.9,525.4 383.4,525.4 383.9,526.1 384.4,526.1 384.6,525.7 385.1,526.5 385.6,526.8 385.8,526.2 386.3,526.1 386.6,525.5 386.8,525.5 387.1,525.1 387.3,525.2 387.6,525.7 388.3,525.8 389.0,527.5 389.5,527.3 389.7,526.8 390.5,526.6 391.0,527.0 391.2,526.9 391.5,527.3 391.7,526.9 391.9,526.7 392.2,526.9 392.4,526.6 392.7,527.0 393.4,527.1 394.4,526.6 395.1,527.6 395.4,527.5 395.6,527.7 396.1,527.1 396.3,527.4 397.3,526.4 397.5,526.5 398.0,527.2 398.5,528.4 399.5,527.5 400.0,528.1 400.2,527.9 401.2,528.4 401.5,528.1 402.2,527.9 402.4,528.3 402.7,527.8 403.6,528.4 403.9,528.3 404.4,528.3 405.1,529.0 405.4,528.7 405.8,529.7 406.1,529.1 406.6,529.2 406.8,528.9 407.3,529.3 407.5,528.9 408.0,529.6 408.3,529.5 408.5,529.9 409.0,528.9 409.5,529.1 409.7,529.7 410.7,529.8 411.7,528.6 412.4,529.4 412.7,529.4 412.9,529.9 413.2,530.0 413.4,529.6 413.9,529.9 414.4,529.7 414.6,529.9 414.9,529.6 415.3,530.2 416.1,529.7 417.1,530.3 417.3,530.2 417.5,530.4 417.8,530.0 418.5,529.8 418.8,530.0 419.0,530.0 419.7,530.7 420.7,530.2 421.0,530.5 421.2,529.9 421.9,529.7 422.4,530.3 422.7,531.0 422.9,530.8 423.4,531.3 423.6,530.5 423.9,530.6 424.4,530.3 424.9,531.0 425.6,530.6 425.8,531.1 426.3,531.3 426.6,532.0 426.8,531.2 427.1,531.2 427.3,531.4 427.5,530.8 427.8,531.0 428.8,530.6 429.0,531.5 429.7,532.3 430.0,532.0 430.2,532.3 431.0,531.3 431.2,531.2 431.7,532.5 432.7,530.6 433.9,532.5 434.1,532.5 434.4,532.0 434.9,531.9 435.1,532.1 435.3,532.9 435.8,532.1 436.1,532.4 436.6,532.2 436.8,533.3 437.3,532.8 437.5,533.0 438.0,532.7" fill="none" stroke="#1e1e1e" stroke-width="0.75" clip-path="url(#ch)" stroke-linejoin="round"/>
<polyline points="267.6,544.2 267.8,544.1 268.6,546.0 269.1,546.5 269.3,545.7 269.8,545.3 270.0,544.9 270.8,548.7 271.0,548.4 271.5,546.8 271.7,545.2 272.0,546.2 272.5,546.8 272.7,548.0 273.0,547.5 273.5,548.1 273.9,547.5 274.2,546.6 274.4,546.9 274.7,546.7 275.2,547.7 275.9,547.8 276.1,548.3 276.6,547.2 277.1,547.3 277.6,548.4 278.1,547.0 278.3,547.8 278.6,547.8 278.8,548.5 279.1,548.3 279.3,547.4 279.5,547.3 280.3,548.1 281.0,546.2 281.5,545.9 281.7,545.9 282.0,547.4 283.0,544.2 283.7,546.8 284.2,546.1 284.4,545.1 285.2,546.5 285.4,547.5 285.6,546.1 286.1,545.1 286.6,543.1 287.1,542.8 287.6,544.5 288.8,542.4 289.1,543.1 289.3,542.0 289.5,542.2 290.0,540.7 290.3,541.3 290.5,540.1 291.2,540.5 291.5,540.3 292.2,537.6 292.5,537.3 292.7,537.4 293.0,536.9 293.2,537.0 293.4,536.6 293.7,536.8 293.9,536.6 295.2,534.2 295.4,534.1 295.6,535.2 296.1,534.9 299.1,532.3 299.8,531.3 301.0,530.0 302.2,529.2 302.7,528.6 303.7,528.4 305.1,526.8 306.1,524.9 307.3,521.6 309.0,515.9 312.2,507.0 313.2,504.8 317.1,492.6 319.5,482.6 320.8,476.0 322.5,464.7 324.4,456.4 325.6,453.6 326.1,453.1 326.4,453.1 327.8,453.8 328.3,454.7 328.8,454.8 329.3,454.3 329.5,454.4 330.3,454.0 332.0,450.9 333.2,447.7 334.4,442.9 336.8,431.4 337.6,428.9 338.1,428.1 338.5,428.8 339.0,431.2 340.5,444.0 341.7,461.3 344.6,510.4 345.9,525.3 346.6,530.6 347.1,532.7 348.3,536.6 349.0,538.0 350.5,539.3 351.2,538.9 353.9,535.8 355.6,532.5 356.1,532.6 356.8,532.4 357.1,531.3 357.3,531.5 357.8,530.1 358.1,530.4 358.3,529.8 358.5,529.9 359.0,529.4 360.0,527.1 360.2,527.5 360.5,527.1 361.0,527.8 361.2,527.6 361.7,527.8 362.2,527.0 362.9,526.8 363.2,527.0 363.4,526.2 363.7,526.4 364.1,525.4 364.4,525.8 364.6,524.9 365.1,525.7 365.4,525.3 365.6,525.5 365.9,525.2 366.3,525.8 366.8,525.6 367.6,524.6 368.0,524.8 368.8,524.8 369.3,524.0 369.5,524.2 370.0,524.2 370.2,524.6 370.5,524.0 370.7,524.0 371.5,524.8 372.4,523.9 372.7,524.1 372.9,523.6 373.7,524.0 373.9,524.5 374.4,524.0 374.9,524.4 375.4,524.4 375.6,524.0 376.6,525.3 376.8,524.6 377.1,525.5 377.6,525.2 377.8,525.4 378.0,524.3 378.3,524.3 378.5,524.6 378.8,524.1 379.0,524.4 379.5,524.3 379.8,524.7 380.2,524.9 381.0,524.4 381.9,525.3 382.4,524.8 383.4,526.2 383.9,526.2 384.1,526.5 384.6,526.3 385.1,525.7 387.1,526.2 387.6,526.7 388.3,526.4 388.5,526.0 389.0,526.5 389.5,526.3 389.7,526.4 390.0,526.1 391.0,527.3 391.2,527.3 391.5,527.2 391.9,526.1 392.2,526.1 392.9,527.0 393.4,526.8 393.9,527.8 394.4,527.7 394.9,526.9 395.4,526.7 395.6,526.7 396.3,527.7 396.8,527.7 397.5,527.2 397.8,526.6 398.3,526.4 399.0,527.8 399.3,527.9 399.7,527.4 401.2,528.4 401.7,528.3 402.4,528.6 402.9,527.6 403.4,527.9 403.6,528.8 403.9,528.9 404.1,528.4 404.6,528.5 404.9,528.2 406.1,529.7 406.6,529.3 406.8,529.7 407.5,529.0 408.8,529.1 409.0,529.4 409.3,529.1 410.0,529.7 410.2,530.3 410.7,530.2 411.0,529.5 411.2,529.6 411.4,529.1 411.7,529.2 411.9,529.8 412.2,529.6 412.7,529.7 413.2,529.3 413.6,529.6 413.9,529.1 414.4,529.5 414.6,529.3 415.1,530.0 415.6,529.9 416.1,530.3 416.3,530.0 416.6,530.4 417.1,530.3 417.3,530.6 418.8,529.1 419.0,529.3 420.0,531.2 420.5,531.6 422.2,529.8 422.7,530.1 423.4,531.2 423.9,531.4 424.4,530.6 424.9,530.8 425.8,530.3 426.3,531.2 426.6,531.3 426.8,531.2 427.3,531.4 427.5,530.7 427.8,530.9 428.3,530.1 428.5,530.3 429.0,530.2 429.5,531.2 429.7,531.2 430.0,531.6 430.2,531.5 430.5,531.0 430.7,531.9 431.2,531.4 431.4,531.8 431.7,531.2 431.9,531.1 432.2,531.8 432.4,531.4 432.9,532.2 433.1,531.5 433.6,531.9 433.9,531.7 434.1,532.2 434.9,531.6 435.6,532.4 436.1,531.8 436.3,532.2 436.6,532.1 437.0,533.1 437.5,533.4 438.0,532.9" fill="none" stroke="#1e1e1e" stroke-width="0.75" clip-path="url(#ch)" stroke-linejoin="round"/>
<polyline points="267.6,537.8 268.6,537.4 269.1,538.2 269.3,538.2 269.6,538.4 269.8,539.0 270.0,538.8 270.5,539.7 270.8,539.8 271.0,540.7 271.5,541.0 271.7,540.7 272.2,540.9 273.5,541.8 273.7,542.5 274.2,542.7 274.4,542.5 275.2,542.9 276.1,542.4 276.4,543.1 276.6,542.6 276.9,542.6 277.6,543.4 278.3,543.2 279.1,543.6 279.8,543.1 280.3,542.3 280.8,543.0 281.7,542.2 282.2,542.2 283.4,540.8 283.7,541.2 284.2,540.9 284.7,540.0 284.9,540.1 285.2,539.8 285.4,540.8 286.1,541.2 286.9,540.0 287.6,539.9 288.1,540.2 289.3,538.0 290.0,538.4 290.8,537.2 291.2,537.5 292.0,537.1 292.5,537.1 292.7,536.6 293.2,536.3 293.7,536.3 293.9,536.1 294.2,536.2 294.4,535.5 294.7,535.6 295.2,534.5 295.4,534.7 295.9,534.5 296.1,534.8 296.9,534.2 297.6,533.0 297.8,533.1 298.8,531.1 299.1,531.1 299.5,531.9 299.8,531.5 300.3,531.4 301.2,530.0 301.5,529.8 301.7,530.1 302.2,529.1 302.5,529.3 302.7,529.0 303.2,528.9 303.9,527.5 304.4,527.8 304.9,527.3 305.6,525.5 306.9,523.6 307.8,518.9 309.0,516.1 310.3,511.3 311.2,509.4 313.7,501.7 313.9,501.1 314.4,500.5 314.9,499.2 316.6,492.6 316.8,491.1 317.6,489.0 317.8,488.8 320.5,476.4 322.9,459.8 323.9,455.9 324.9,453.4 325.4,450.7 325.6,450.0 326.1,449.6 326.8,450.7 327.3,450.7 328.1,452.1 328.3,452.1 328.8,452.6 329.3,452.6 329.5,452.1 330.0,451.7 330.5,451.0 331.2,449.5 331.5,449.5 332.5,447.2 333.2,446.3 334.2,440.7 334.4,440.2 337.6,424.6 337.8,424.0 338.3,424.2 339.0,428.0 340.0,435.0 340.5,440.3 343.7,494.3 345.9,527.0 346.4,530.3 347.6,535.7 348.3,537.4 348.5,537.5 349.0,538.4 349.3,538.3 349.5,539.1 350.3,539.7 350.7,539.8 351.2,540.3 351.7,540.1 352.7,537.7 352.9,537.7 353.2,537.2 353.7,536.9 353.9,536.1 354.2,536.3 354.4,536.0 355.9,532.2 356.1,532.4 357.6,530.1 358.1,529.0 358.5,529.1 358.8,528.7 359.0,528.6 359.5,527.5 360.2,528.3 360.5,528.3 361.2,527.2 361.7,527.2 362.0,526.7 362.2,526.7 362.7,526.1 362.9,526.3 363.7,525.5 363.9,525.5 364.4,525.0 364.6,525.3 365.1,524.7 365.6,525.2 365.9,524.9 366.1,525.4 366.6,524.7 366.8,525.2 367.1,525.2 368.0,523.2 368.5,523.8 368.8,524.4 369.3,524.8 369.8,523.9 370.0,524.1 370.2,524.0 370.5,524.3 371.2,524.2 371.7,524.8 371.9,524.3 372.2,524.8 372.4,524.7 372.7,524.9 373.2,524.5 373.7,523.6 373.9,523.8 374.4,523.5 374.6,524.0 374.9,524.0 375.1,523.5 375.4,523.5 375.6,523.0 376.1,524.3 376.3,524.4 376.6,524.9 377.1,523.5 377.3,523.5 377.8,523.6 378.3,524.1 379.0,524.1 379.3,524.6 379.8,524.9 380.0,525.6 380.5,524.5 380.7,524.9 381.0,524.5 381.2,524.5 381.5,525.0 381.7,525.1 382.4,525.0 382.7,524.5 382.9,524.9 383.4,525.0 383.7,525.5 383.9,525.4 384.1,525.9 384.6,525.8 384.9,526.2 385.1,525.7 385.6,526.3 386.1,525.2 386.6,525.1 387.1,526.3 387.3,526.0 387.8,525.8 388.0,525.4 388.3,525.8 388.5,525.6 388.8,525.8 389.3,525.8 390.2,527.2 390.7,527.3 391.9,525.8 392.4,526.4 393.4,526.4 393.9,527.9 394.4,528.2 395.1,526.9 395.6,526.9 396.1,528.1 396.8,527.5 397.1,527.1 397.3,527.1 397.5,527.9 397.8,527.5 398.3,528.1 398.5,527.9 398.8,528.4 399.3,527.8 399.5,527.8 399.7,527.3 400.0,527.3 400.2,527.5 400.5,527.3 401.0,528.3 401.2,528.1 401.9,528.7 402.2,529.2 403.2,528.2 404.1,529.7 404.9,528.7 405.8,529.2 406.3,528.5 406.8,528.5 407.1,528.2 407.5,529.1 407.8,528.8 408.0,529.3 408.3,529.1 408.8,529.7 409.0,529.1 409.3,529.7 409.7,529.2 410.0,529.8 410.5,529.0 410.7,529.6 411.2,529.3 411.4,529.7 411.7,529.5 412.7,530.4 413.4,529.8 413.6,529.3 414.6,530.3 415.6,530.0 416.1,530.2 416.3,529.7 416.6,530.1 416.8,529.6 417.3,530.6 417.5,530.2 417.8,530.5 418.3,529.6 418.5,529.9 418.8,529.7 419.0,530.2 419.7,530.6 420.5,530.5 420.7,531.0 421.0,530.6 421.4,531.0 421.7,530.7 421.9,530.9 422.7,530.6 423.1,531.1 423.4,530.7 423.6,530.8 423.9,530.5 424.1,530.9 424.6,531.0 424.9,530.9 425.1,530.2 425.3,530.7 425.8,530.2 426.1,531.0 426.6,531.0 426.8,531.4 427.3,530.5 427.5,530.9 427.8,530.8 428.3,531.9 429.0,531.3 429.2,531.5 429.5,531.3 429.7,531.6 430.2,530.4 430.5,530.4 431.0,530.5 431.4,531.8 432.2,531.6 432.7,531.7 433.1,532.3 433.6,532.6 433.9,532.6 434.1,532.1 434.6,532.4 434.9,532.2 435.1,532.4 435.3,531.7 435.8,531.5 436.3,532.1 436.6,531.7 436.8,531.9 437.0,531.4 438.0,533.4" fill="none" stroke="#2a2aff" stroke-width="0.85" clip-path="url(#ch)" stroke-linejoin="round"/>
<polyline points="267.6,537.4 267.8,538.8 268.1,539.1 268.3,538.6 268.6,538.8 268.8,538.0 269.6,540.0 270.0,539.4 270.8,540.9 271.7,541.4 272.0,541.9 272.2,541.5 272.7,541.7 273.0,541.2 273.5,541.4 273.7,541.6 274.7,544.4 274.9,544.4 275.4,543.5 275.9,543.5 276.4,544.2 276.9,543.5 277.1,543.7 278.3,543.8 278.6,543.2 279.1,543.2 279.3,542.6 279.5,542.5 279.8,542.8 280.0,542.3 280.3,542.7 280.8,543.0 281.3,542.5 281.5,543.1 282.0,542.5 282.5,542.6 282.7,541.8 283.2,541.7 283.4,540.9 284.4,540.9 284.7,540.4 284.9,540.5 285.2,540.3 285.4,540.7 285.6,541.7 285.9,541.3 286.4,541.0 286.6,540.2 286.9,540.3 287.1,539.8 287.6,540.0 287.8,539.1 288.1,539.2 288.3,539.0 289.1,540.1 289.3,539.7 289.8,539.8 290.0,539.4 290.3,539.8 290.5,539.1 291.2,538.4 292.2,536.4 292.5,537.0 292.7,536.3 293.0,536.6 293.4,536.3 293.7,536.8 294.2,537.0 294.4,536.8 295.2,534.5 295.4,534.5 295.6,535.0 296.6,534.2 296.9,534.3 299.1,531.8 299.8,531.5 301.5,530.0 302.5,528.7 303.0,528.7 303.4,528.3 305.6,525.9 307.1,521.8 309.8,512.6 312.0,506.1 312.9,503.8 315.4,496.0 317.6,488.1 320.0,476.9 322.9,457.3 324.9,449.5 325.6,447.7 326.1,447.3 327.1,448.2 327.3,448.1 328.1,448.6 328.3,449.1 329.0,449.3 329.5,449.3 330.5,448.3 332.0,445.4 333.4,441.2 337.3,422.2 337.8,420.9 338.3,420.7 338.8,422.3 339.3,425.8 340.7,441.0 342.4,468.9 344.2,501.9 345.6,523.5 346.4,529.8 347.3,534.5 347.8,536.2 349.3,539.0 350.7,540.1 351.5,539.6 352.2,538.4 352.4,538.1 352.7,538.3 352.9,538.0 354.6,535.4 354.9,535.4 355.9,532.5 356.1,532.6 357.1,530.8 358.1,529.8 358.3,530.0 358.5,529.7 359.3,528.2 359.5,528.3 359.8,527.4 360.0,527.6 360.2,527.3 360.5,527.5 360.7,528.5 361.2,528.5 361.5,527.6 361.7,527.8 362.0,527.3 362.4,527.4 363.2,524.7 363.4,524.0 363.7,523.8 364.1,523.9 365.1,526.3 365.6,524.5 366.1,524.1 366.8,525.6 367.1,525.8 367.3,525.0 367.6,524.9 368.0,524.0 368.3,524.2 368.5,524.0 368.8,524.5 369.0,524.3 369.5,524.5 369.8,523.6 370.0,524.0 370.2,523.1 370.5,523.0 370.7,523.5 371.0,522.6 371.5,522.4 372.2,524.8 372.4,525.0 373.2,523.0 373.7,522.3 374.1,522.7 374.6,524.2 374.9,524.1 375.1,524.5 375.4,524.0 375.9,524.6 376.8,524.1 377.3,525.7 377.6,525.9 377.8,525.7 378.0,525.9 378.3,525.2 378.8,525.2 379.5,524.1 379.8,524.5 380.0,524.4 380.2,524.9 380.7,524.4 381.0,524.8 381.2,524.1 381.5,524.8 381.9,525.3 382.2,526.0 382.7,526.2 382.9,525.8 383.2,525.6 383.4,525.7 383.7,525.4 384.4,526.1 384.9,525.7 385.4,524.3 385.6,525.3 386.1,525.7 386.3,526.5 386.6,525.6 386.8,525.9 387.6,525.2 387.8,524.7 388.0,525.0 388.3,524.7 388.5,525.1 389.0,525.2 389.3,525.8 389.7,526.3 390.0,525.7 390.2,525.9 390.5,525.7 391.0,526.2 391.2,525.6 391.5,526.0 391.7,525.9 392.2,527.0 392.4,526.6 392.7,526.8 393.4,525.9 393.6,526.7 394.1,526.5 394.4,526.8 394.6,525.7 395.1,527.8 395.4,527.6 395.6,527.7 395.8,527.5 396.1,526.9 396.3,528.0 396.6,528.3 397.1,528.2 397.3,527.8 397.8,528.9 398.0,528.5 398.5,528.6 398.8,528.3 399.3,528.6 399.5,528.1 400.0,528.1 400.2,527.6 400.5,528.1 400.7,527.7 401.0,527.7 401.2,528.0 401.5,527.4 401.9,528.1 402.2,527.9 402.9,528.1 403.4,528.4 403.6,529.0 404.1,529.2 404.4,529.1 404.9,528.1 405.1,528.3 405.4,527.9 405.8,528.2 406.1,527.8 406.3,528.1 406.6,528.1 407.3,529.9 407.5,530.0 407.8,529.6 408.0,529.8 408.3,529.2 408.5,529.4 408.8,528.8 409.0,528.8 409.3,528.4 409.7,529.5 410.0,528.5 410.2,528.8 410.5,528.2 411.2,530.4 411.4,530.3 411.9,529.6 412.4,528.6 412.9,528.2 413.6,528.9 414.4,530.9 414.9,530.6 415.1,529.7 415.3,529.5 415.6,529.9 416.1,529.0 416.3,529.0 416.6,528.7 416.8,529.7 417.1,530.0 417.3,529.4 417.5,529.5 417.8,528.9 418.8,531.0 419.2,530.3 419.5,531.2 420.0,529.8 420.2,530.5 420.5,529.3 420.7,530.2 421.4,531.2 421.9,531.3 422.4,530.8 422.7,530.2 423.1,530.8 423.4,530.7 423.6,530.9 424.1,529.8 425.1,531.7 425.3,531.9 425.6,531.3 425.8,531.1 426.1,531.7 426.3,531.6 426.8,532.0 427.1,530.9 427.3,531.1 427.5,530.6 427.8,530.7 428.0,531.9 428.3,531.8 428.5,532.5 429.0,531.5 429.5,531.9 429.7,533.1 430.0,531.8 430.2,531.7 430.5,531.3 430.7,532.2 431.0,530.3 431.2,531.4 431.4,529.9 431.7,532.7 431.9,532.3 432.4,534.4 432.9,531.7 433.4,533.2 433.6,532.7 434.4,535.3 434.9,533.2 435.3,533.1 435.6,532.4 435.8,532.9 436.1,532.6 436.3,532.7 436.6,532.4 436.8,533.2 437.0,532.5 437.3,532.8 438.0,530.8" fill="none" stroke="#ff2a2a" stroke-width="0.85" clip-path="url(#ch)" stroke-linejoin="round"/>
<rect x="267.6" y="416.5" width="173.9" height="140.5" fill="none" stroke="#6a6a6a" stroke-width="1"/>
<path d="M267.6 557v3 M284.99 557v3 M302.38 557v3 M319.77 557v3 M337.16 557v3 M354.55 557v3 M371.94 557v3 M389.33 557v3 M406.72 557v3 M424.11 557v3 M441.5 557v3 M276.3 557v2 M293.69 557v2 M311.08 557v2 M328.47 557v2 M345.86 557v2 M363.25 557v2 M380.63 557v2 M398.02 557v2 M415.41 557v2 M432.81 557v2" stroke="#6a6a6a" stroke-width="1" fill="none"/>
<text transform="translate(273.6,567) rotate(-45)" text-anchor="end" font-size="10.3">350</text>
<text transform="translate(290.99,567) rotate(-45)" text-anchor="end" font-size="10.3">400</text>
<text transform="translate(308.38,567) rotate(-45)" text-anchor="end" font-size="10.3">450</text>
<text transform="translate(325.77,567) rotate(-45)" text-anchor="end" font-size="10.3">500</text>
<text transform="translate(343.16,567) rotate(-45)" text-anchor="end" font-size="10.3">550</text>
<text transform="translate(360.55,567) rotate(-45)" text-anchor="end" font-size="10.3">600</text>
<text transform="translate(377.94,567) rotate(-45)" text-anchor="end" font-size="10.3">650</text>
<text transform="translate(395.33,567) rotate(-45)" text-anchor="end" font-size="10.3">700</text>
<text transform="translate(412.72,567) rotate(-45)" text-anchor="end" font-size="10.3">750</text>
<text transform="translate(430.11,567) rotate(-45)" text-anchor="end" font-size="10.3">800</text>
<text transform="translate(447.5,567) rotate(-45)" text-anchor="end" font-size="10.3">850</text>
<path d="M267.6 547.63h-3 M267.6 528.9h-3 M267.6 510.17h-3 M267.6 491.43h-3 M267.6 472.7h-3 M267.6 453.97h-3 M267.6 435.23h-3 M267.6 416.5h-3 M267.6 557h-2 M267.6 538.27h-2 M267.6 519.53h-2 M267.6 500.8h-2 M267.6 482.07h-2 M267.6 463.33h-2 M267.6 444.6h-2 M267.6 425.87h-2" stroke="#6a6a6a" stroke-width="1" fill="none"/>
<text x="261" y="551.63" text-anchor="end" font-size="10.3">−0.1</text>
<text x="261" y="532.9" text-anchor="end" font-size="10.3">0.0</text>
<text x="261" y="514.17" text-anchor="end" font-size="10.3">0.1</text>
<text x="261" y="495.43" text-anchor="end" font-size="10.3">0.2</text>
<text x="261" y="476.7" text-anchor="end" font-size="10.3">0.3</text>
<text x="261" y="457.97" text-anchor="end" font-size="10.3">0.4</text>
<text x="261" y="439.23" text-anchor="end" font-size="10.3">0.5</text>
<text x="261" y="420.5" text-anchor="end" font-size="10.3">0.6</text>
<text x="277.8" y="433.1" font-size="8.8" fill="#ff2a3a">After 3 h</text>
<text x="277.8" y="442.6" font-size="8.8" fill="#1a3cf0">After 12 min</text>
<text x="378.4" y="440.7" font-size="8.7" font-weight="bold">With GC Film</text>
<rect x="376" y="447.6" width="55" height="51.19999999999999" fill="#d6f5fa"/>
<rect x="376" y="463" width="55" height="9.699999999999989" fill="#707070"/>
<rect x="376" y="485.8" width="55" height="13.0" fill="#dcdcdc"/>
<rect x="383.1" y="472.7" width="4.7" height="13.1" fill="#ff0000"/>
<rect x="397.2" y="472.7" width="4.7" height="13.1" fill="#ff0000"/>
<rect x="410.9" y="472.7" width="4.8" height="13.1" fill="#ff0000"/>
<rect x="419" y="472.7" width="5.1" height="13.1" fill="#ff0000"/>
<rect x="373" y="447.6" width="3" height="51.19999999999999" fill="#2b2b2b"/>
<rect x="431" y="447.6" width="3.5" height="51.19999999999999" fill="#2b2b2b"/>
<text x="387.8" y="457.9" font-size="5.65" fill="#4f79d6">Artificial saliva</text>
<text x="396.5" y="469.8" font-size="5.65" fill="#222">GC film</text>
<text x="391.8" y="490.5" font-size="5.65" fill="#ff2020">Lipid + DiL</text>
<text x="395.2" y="496.9" font-size="5.65" fill="#222">Agarose</text>
<text x="360.7" y="591.5" font-size="10.3" text-anchor="middle">Wavelength (nm)</text>
<text transform="translate(235.5,486.6) rotate(-90)" text-anchor="middle" font-size="10.3">Absorbance</text>
<clipPath id="ci"><rect x="502.3" y="418.2" width="172.9" height="138.8"/></clipPath>
<polyline points="502.3,524.4 502.5,524.2 502.8,524.4 503.0,524.3 503.3,524.4 503.5,523.9 503.8,524.0 504.0,523.7 504.2,524.3 504.5,523.8 505.0,523.7 506.2,525.0 506.4,524.6 506.7,524.9 507.4,524.6 508.1,525.5 508.6,525.4 509.1,524.2 509.3,524.3 509.8,525.2 510.5,524.2 510.8,524.0 511.0,524.2 511.3,523.8 512.0,525.9 512.5,524.5 512.7,524.3 513.5,525.5 513.9,524.3 514.4,524.5 514.7,524.9 514.9,524.7 515.1,525.1 515.4,524.9 515.6,525.1 515.9,524.8 516.1,525.0 516.6,524.9 517.1,524.6 517.3,524.7 517.6,524.4 517.8,524.7 519.3,523.2 519.8,525.3 520.0,525.5 520.5,523.8 520.7,523.5 521.2,524.6 521.7,524.9 522.2,524.7 522.7,524.2 522.9,524.5 523.4,524.3 524.1,525.5 524.8,524.1 525.1,524.2 525.6,523.9 526.1,524.8 526.5,524.8 526.8,524.3 527.5,525.3 528.2,523.5 529.0,524.4 529.4,524.7 529.9,524.7 530.2,524.0 530.4,524.4 530.7,524.3 530.9,524.6 531.1,524.4 531.6,524.6 531.9,524.4 532.4,525.1 533.1,522.6 533.8,524.2 534.3,524.5 534.8,524.3 535.3,525.3 536.2,524.0 536.5,523.8 536.7,524.0 537.0,524.4 537.2,523.7 537.4,523.8 537.7,523.3 537.9,523.5 538.2,523.1 538.4,523.8 539.6,523.5 539.9,523.2 540.1,523.8 540.8,524.0 542.1,522.5 542.3,522.6 542.8,523.2 543.0,524.0 543.8,524.1 544.0,523.4 544.2,523.7 544.5,523.6 544.7,524.3 545.0,524.2 545.7,522.8 546.2,522.6 546.4,523.2 546.7,522.9 547.1,523.3 547.9,522.7 548.1,523.3 548.4,522.7 548.6,522.8 549.1,522.5 549.3,521.4 549.8,521.4 550.1,522.2 550.3,521.4 550.5,521.4 550.8,521.1 551.0,521.6 551.3,521.8 551.5,521.7 551.8,522.1 552.0,521.3 552.2,521.3 552.5,520.9 553.0,521.2 553.2,520.6 553.7,520.2 554.2,520.8 554.4,520.2 554.9,520.5 555.4,520.5 556.4,519.2 556.6,519.8 557.1,520.1 557.3,519.2 557.6,519.4 557.8,518.8 558.3,518.7 558.8,519.6 559.5,519.1 560.0,519.0 560.2,518.6 560.5,518.7 561.2,518.3 561.9,519.2 562.4,519.0 562.9,519.3 563.6,518.3 564.6,519.0 564.8,518.5 565.1,519.4 565.6,519.0 565.8,518.4 566.1,518.3 566.3,518.5 566.5,518.0 566.8,518.0 567.0,517.5 567.5,517.4 568.0,517.8 568.7,516.9 569.9,517.1 570.9,515.8 571.4,516.2 571.6,516.9 571.9,517.0 572.4,516.2 572.6,516.2 573.1,516.9 573.3,516.1 573.6,516.3 573.8,516.2 574.1,517.3 574.8,517.1 575.0,516.8 575.3,518.0 575.5,517.8 575.7,518.6 576.0,518.3 576.2,518.5 576.5,518.2 577.0,518.4 578.2,521.2 578.4,521.2 578.7,520.7 578.9,520.9 579.1,520.3 579.6,519.7 579.9,520.3 580.1,520.5 580.6,521.4 581.1,523.9 582.1,531.8 582.5,532.2 583.0,533.0 583.3,534.0 584.0,535.7 584.7,536.2 585.2,537.4 585.4,537.6 585.9,537.2 586.4,538.4 586.7,538.3 586.9,538.5 587.1,538.4 587.4,538.6 588.4,534.6 588.6,534.7 588.8,534.2 589.1,534.7 590.1,533.8 590.5,534.2 591.3,533.1 592.2,532.4 593.0,531.3 593.4,532.0 593.7,531.8 593.9,531.9 594.7,530.9 595.1,530.6 595.4,531.1 595.6,530.8 595.9,531.2 596.8,528.5 597.1,528.4 597.8,528.9 598.1,529.4 598.3,529.3 599.0,527.8 599.3,528.3 599.5,528.3 599.7,528.7 600.0,527.8 600.5,527.3 600.7,527.8 601.2,527.9 601.7,526.7 602.2,526.5 602.4,527.4 602.7,526.6 603.4,526.9 603.9,525.6 604.1,525.9 604.6,528.2 604.8,528.0 605.1,527.2 605.3,525.7 605.6,525.5 606.0,525.4 606.3,525.0 607.5,525.4 607.7,525.7 608.2,524.9 608.7,525.9 609.0,525.8 609.2,525.0 609.9,526.3 610.2,525.9 610.4,526.2 610.7,525.5 610.9,525.3 611.1,524.4 611.6,524.4 612.1,524.9 612.4,525.8 613.1,526.5 613.8,525.8 614.0,526.3 614.3,526.2 614.8,525.3 615.0,525.9 615.3,525.7 615.5,526.5 615.7,526.0 616.2,526.0 616.5,525.5 617.2,527.6 617.7,526.6 617.9,526.7 618.2,526.1 618.4,526.6 618.7,526.2 619.6,526.6 620.1,525.5 620.8,526.7 621.6,525.7 622.3,527.8 622.5,527.0 623.3,527.8 623.5,527.1 623.7,527.3 624.2,527.4 624.5,526.8 624.7,527.0 625.2,528.4 625.7,529.2 626.4,527.0 626.7,527.0 626.9,527.0 627.4,528.0 627.6,527.9 628.4,528.7 628.6,528.6 628.8,527.3 629.1,527.5 629.3,527.5 629.6,528.6 629.8,528.3 630.3,528.3 630.8,529.0 631.0,528.6 631.3,528.8 631.5,528.3 631.7,528.8 632.2,529.1 632.7,528.4 633.0,529.1 633.4,529.2 633.7,528.3 634.2,527.9 634.7,528.9 634.9,529.0 635.1,528.5 635.4,528.7 635.9,529.7 636.1,529.3 636.4,529.4 636.6,528.4 636.8,528.3 637.1,527.7 637.6,528.7 637.8,529.9 639.0,528.7 639.3,527.7 640.0,530.2 640.2,529.9 640.5,530.1 641.0,529.9 641.2,529.0 641.4,528.8 641.9,530.4 642.4,529.0 643.4,529.5 644.1,530.5 645.1,529.6 645.3,529.6 645.6,530.5 646.0,530.8 646.3,529.6 646.5,529.9 646.8,528.9 647.0,529.3 647.3,528.7 647.5,529.4 647.7,529.5 648.0,530.1 648.5,530.7 648.7,530.4 649.0,530.6 649.2,530.2 649.4,530.5 649.7,530.0 649.9,530.6 650.2,530.5 650.4,531.3 650.9,531.3 651.6,531.0 651.9,530.6 652.1,531.2 652.6,531.5 652.8,531.2 653.1,531.4 653.8,529.7 654.5,530.9 654.8,531.9 655.0,531.6 655.3,532.1 655.7,531.6 656.0,530.9 656.2,531.0 656.5,531.5 657.2,530.8 658.2,531.8 658.4,532.5 658.9,531.9 659.1,531.0 659.4,530.8 659.6,531.0 659.9,530.8 660.1,531.4 660.3,531.0 661.1,532.4 661.3,532.3 661.6,531.4 662.0,530.9 662.3,531.7 663.0,531.4 663.3,531.9 663.5,533.8 663.7,533.4 664.0,531.0 664.2,530.8 664.5,531.2 664.7,531.2 665.0,528.9 665.7,531.1 666.2,529.1 666.4,534.2 666.7,536.0 666.9,532.3 667.4,532.6 667.6,528.4 667.9,527.3 668.3,536.2 668.6,531.4 669.1,533.7 669.6,533.5 669.8,532.8 670.3,532.4 670.5,534.0 671.0,528.1 671.3,530.0 671.5,528.4 671.7,528.4" fill="none" stroke="#333" stroke-width="0.55" clip-path="url(#ci)" stroke-linejoin="round"/>
<polyline points="502.3,524.0 502.8,524.4 503.0,523.9 503.3,524.1 503.5,523.4 504.5,524.9 505.0,524.2 505.2,524.3 505.7,525.2 506.4,523.7 506.9,524.5 507.1,524.1 507.9,525.1 508.1,525.1 508.4,524.1 508.6,524.1 508.8,523.8 509.6,524.1 510.1,525.2 511.0,525.2 511.5,523.6 512.0,524.1 512.2,524.8 512.5,524.4 512.7,525.3 513.0,525.1 513.2,525.2 513.7,524.0 514.4,525.3 514.9,524.2 515.1,524.3 515.6,525.3 515.9,524.6 516.1,524.5 516.4,524.5 516.8,525.1 517.3,524.0 518.3,525.2 518.5,524.8 518.8,524.8 519.0,524.1 519.3,524.6 520.0,523.8 520.7,524.7 521.0,525.6 521.7,524.4 522.2,524.3 522.7,524.4 522.9,525.0 523.1,524.6 523.4,524.6 523.6,523.7 523.9,524.1 524.1,523.8 524.6,524.4 525.1,524.3 525.3,523.6 526.3,523.7 526.5,523.4 527.3,526.0 528.0,524.1 528.2,524.0 528.7,524.9 529.2,523.6 529.9,525.2 530.7,523.5 531.4,524.7 531.6,523.8 532.1,523.4 532.4,523.9 532.6,523.9 533.3,524.8 534.3,524.0 534.5,523.5 535.3,525.1 535.8,523.7 536.5,525.0 536.7,524.3 537.7,524.1 538.4,523.3 538.7,524.0 539.1,524.5 539.4,523.9 539.6,524.1 539.9,523.8 540.4,522.8 540.6,523.3 541.1,523.4 541.3,522.7 541.8,522.4 542.3,523.1 542.5,522.6 542.8,522.7 543.0,522.1 543.3,523.0 544.0,521.3 544.5,522.5 545.2,521.1 545.4,521.4 546.2,521.1 546.7,521.2 547.4,520.3 547.6,521.3 548.1,521.9 548.4,521.4 548.6,521.4 548.8,520.8 549.3,520.7 549.6,521.2 549.8,521.1 550.1,521.4 550.5,520.8 550.8,519.6 551.0,519.8 551.3,519.1 551.8,519.8 552.0,519.5 552.2,519.5 552.5,518.9 553.2,518.7 553.4,519.2 553.7,519.1 554.4,518.2 554.7,518.4 554.9,517.9 555.9,518.3 556.1,518.1 556.4,518.2 556.6,518.5 557.3,517.4 557.6,517.6 558.5,515.4 559.3,516.3 559.5,515.6 560.0,516.0 560.5,515.9 560.7,515.6 561.7,516.6 561.9,516.3 562.2,516.4 562.9,515.1 563.1,515.1 563.9,516.0 564.1,515.2 564.4,515.2 564.6,514.6 564.8,514.5 565.6,515.5 566.1,515.0 567.3,514.6 567.5,514.0 568.0,514.3 568.2,514.8 569.2,513.1 569.4,513.4 569.7,512.9 569.9,513.2 570.2,512.9 570.7,513.6 570.9,513.1 571.4,512.8 571.6,513.1 571.9,512.5 572.4,512.3 572.6,512.6 572.8,512.3 573.1,512.4 573.3,512.0 573.6,512.7 574.1,513.4 574.5,513.2 574.8,513.6 575.5,513.1 576.2,513.7 577.7,517.5 578.2,518.0 578.9,520.9 579.1,521.2 579.4,519.7 579.6,519.2 579.9,519.5 580.4,522.1 580.6,522.2 581.3,526.3 581.8,527.8 582.5,532.5 583.5,535.0 583.7,534.9 584.0,535.6 584.2,535.7 585.0,537.8 585.4,537.9 585.7,537.6 585.9,537.9 586.2,537.8 586.9,536.5 587.1,536.9 587.4,536.8 587.6,536.6 587.9,535.5 588.4,535.4 588.6,536.1 588.8,535.5 589.3,535.1 589.8,535.8 590.5,533.6 591.0,533.5 591.3,532.6 591.5,532.6 591.7,532.1 592.2,532.8 592.5,532.7 593.7,530.8 594.4,532.2 595.4,529.6 595.6,530.1 595.9,529.7 596.1,531.0 596.4,531.1 596.6,530.9 597.1,528.7 597.3,528.5 597.6,528.0 597.8,528.7 598.8,527.5 599.3,527.2 600.0,528.7 600.7,526.4 601.0,526.5 601.2,527.5 601.4,527.1 601.7,527.6 602.4,526.1 602.7,526.1 602.9,526.9 603.1,526.9 603.6,525.9 604.1,526.0 604.4,525.8 604.8,526.9 605.3,526.4 605.6,526.4 605.8,527.0 606.5,525.6 606.8,525.9 607.0,525.7 607.3,526.5 607.5,525.5 608.2,526.3 608.5,525.8 609.0,525.7 609.4,525.3 609.9,525.2 610.2,524.9 610.9,525.9 612.1,525.9 612.6,525.7 613.3,526.6 614.3,525.7 614.5,526.0 614.8,526.0 615.3,525.4 615.7,526.0 616.0,526.8 616.2,526.9 617.0,525.7 617.4,526.3 617.9,527.7 618.7,525.9 619.4,527.2 619.6,526.8 619.9,527.0 620.6,525.1 621.3,527.5 621.8,526.5 622.5,527.4 623.0,526.8 623.3,527.2 623.5,527.1 624.0,527.5 624.5,526.9 624.7,527.6 625.0,527.6 625.2,528.8 625.4,528.7 625.7,528.8 626.2,527.4 626.4,528.0 627.1,528.8 627.4,528.5 627.6,528.5 627.9,527.9 628.6,529.9 629.1,528.3 629.6,528.5 629.8,529.0 630.3,528.4 630.5,527.5 630.8,527.9 631.0,527.8 631.3,528.4 631.7,528.5 632.0,528.9 632.7,528.9 633.4,529.9 633.7,529.1 633.9,529.4 634.4,529.5 634.9,528.8 635.9,528.7 636.6,528.9 636.8,528.6 637.6,529.2 638.3,529.1 638.8,529.4 639.3,528.7 639.7,529.2 640.0,530.1 640.5,530.0 640.7,529.4 641.4,530.1 641.7,528.9 642.2,528.6 642.4,529.8 642.7,530.0 642.9,530.8 643.4,530.9 643.6,530.3 643.9,530.3 644.4,529.0 644.6,529.0 644.8,530.2 645.1,530.0 645.3,530.2 645.6,529.9 645.8,530.5 646.0,530.4 646.3,529.7 646.8,529.5 647.0,529.8 647.3,529.4 647.5,529.3 648.5,531.2 648.7,532.0 649.4,530.5 649.7,530.6 650.2,530.3 650.4,530.7 650.9,530.9 651.1,530.2 651.9,531.3 652.1,530.7 652.3,530.5 652.8,530.9 653.1,530.6 653.3,531.1 653.6,531.1 653.8,531.0 654.0,530.2 654.5,530.7 654.8,531.4 655.5,530.8 656.0,531.1 656.7,530.3 657.2,530.3 657.7,530.7 658.2,531.6 658.7,531.5 659.1,530.9 659.4,530.9 659.6,531.0 659.9,532.2 660.8,531.4 661.3,531.9 661.6,532.4 662.3,531.9 663.0,533.1 663.3,531.4 663.5,533.2 664.0,531.7 664.2,534.2 664.5,534.6 664.7,528.8 665.0,529.7 665.2,533.0 665.4,531.0 665.7,530.5 665.9,531.3 666.2,534.7 666.4,535.8 666.7,535.0 667.1,530.4 667.4,534.2 667.6,532.0 667.9,532.5 668.1,536.2 668.3,528.9 668.6,529.9 668.8,536.7 669.3,533.3 669.6,536.8 670.0,525.8 670.8,537.0 671.3,526.2 671.7,533.3" fill="none" stroke="#333" stroke-width="0.55" clip-path="url(#ci)" stroke-linejoin="round"/>
<polyline points="502.3,523.2 502.5,523.3 503.3,524.5 503.5,524.5 503.8,524.1 504.2,523.0 504.7,523.9 505.0,523.8 505.2,523.5 505.5,522.4 505.9,523.3 506.2,524.1 506.9,523.1 507.4,524.1 508.1,522.9 508.6,524.3 508.8,524.5 509.1,524.1 509.3,524.2 509.8,525.0 510.1,524.4 510.3,524.0 510.5,524.1 511.0,525.1 511.8,524.3 512.2,524.5 512.5,524.8 513.2,523.5 513.7,524.8 513.9,524.6 514.2,524.7 514.7,524.5 515.1,523.7 515.4,523.8 515.6,524.2 516.4,523.3 517.1,524.9 517.3,525.1 518.1,524.0 518.3,524.2 518.5,525.0 518.8,525.2 519.3,524.4 519.5,524.4 520.2,523.7 520.5,524.7 520.7,524.5 521.0,525.0 521.2,523.9 521.5,524.6 521.7,524.5 521.9,525.3 522.7,523.3 522.9,523.3 523.9,524.5 524.4,523.4 524.6,523.2 524.8,523.3 525.1,524.1 525.6,524.3 526.5,523.3 527.3,525.0 528.0,523.4 528.5,522.9 529.0,523.6 529.2,523.5 529.7,522.5 530.4,524.7 530.7,524.4 530.9,524.7 531.6,523.5 532.1,523.5 532.4,523.3 533.1,524.2 533.6,524.0 534.3,524.6 534.5,523.8 535.0,523.1 535.5,523.2 535.8,523.9 536.0,523.7 536.2,523.9 536.5,523.2 537.0,523.2 537.4,523.8 538.2,522.9 538.7,523.4 539.4,521.9 540.1,523.4 540.6,523.0 540.8,522.6 541.3,522.4 541.8,523.0 542.5,521.3 542.8,521.2 543.5,522.4 544.2,521.4 544.7,521.5 545.0,521.3 545.2,521.5 545.7,521.2 545.9,521.8 546.2,521.7 546.9,520.2 547.1,520.6 547.4,519.6 547.9,519.3 548.1,519.4 548.4,519.1 548.6,519.3 548.8,518.6 549.3,518.1 549.8,518.8 550.3,518.5 550.5,517.6 550.8,518.1 551.0,518.1 551.5,517.7 552.0,518.5 552.7,516.8 553.0,516.7 553.4,517.0 553.7,516.8 554.2,517.1 554.9,514.2 555.4,514.7 555.6,515.6 555.9,514.8 556.8,515.7 557.1,514.6 557.6,513.6 558.5,513.3 559.0,512.2 559.8,513.8 560.2,512.3 560.5,512.4 560.7,512.1 561.0,512.8 561.4,513.3 562.2,513.5 562.4,513.8 563.1,512.3 563.4,512.1 563.9,512.2 564.4,511.4 565.1,512.9 565.3,512.7 566.1,511.2 566.5,510.7 566.8,511.2 567.3,511.1 567.5,510.0 568.2,510.2 568.7,509.3 569.2,510.1 569.9,508.8 570.4,509.3 571.1,507.2 571.6,508.2 571.9,508.2 572.4,507.8 572.6,508.2 572.8,507.8 573.1,508.2 573.3,507.8 573.6,507.8 573.8,507.1 574.1,507.0 574.3,507.7 575.0,508.5 575.7,511.4 576.0,511.0 576.5,511.3 577.0,512.6 577.2,512.7 578.2,516.6 578.4,516.9 578.9,518.8 579.1,518.8 579.4,517.6 579.6,518.1 581.3,526.1 582.3,532.0 582.5,531.8 583.0,532.9 584.5,537.3 584.7,537.0 585.0,537.5 585.2,536.6 585.4,537.5 585.7,537.2 585.9,537.9 586.4,538.4 586.9,536.5 587.1,536.3 587.4,537.1 588.1,536.7 588.4,537.3 589.1,535.4 589.6,534.9 589.8,535.1 590.1,534.8 590.8,533.2 592.2,533.1 592.7,532.4 593.0,532.4 593.2,531.8 593.4,532.0 593.9,532.0 594.4,530.3 595.1,531.4 595.6,529.9 596.6,530.1 596.8,529.0 597.1,529.8 597.3,529.2 597.6,529.4 598.1,528.6 598.3,529.6 598.5,529.7 598.8,529.5 599.0,528.8 599.3,528.7 599.5,529.0 600.0,528.9 600.7,527.7 601.2,527.5 601.9,527.6 602.4,526.6 602.7,526.5 602.9,527.0 603.4,527.3 603.6,527.7 603.9,527.3 604.1,527.2 604.4,526.3 604.8,525.9 605.1,525.1 605.3,525.7 605.6,525.4 605.8,526.4 606.0,526.1 606.3,526.2 606.5,525.5 607.0,525.3 607.3,526.2 607.5,526.0 607.7,526.7 608.0,526.2 608.2,526.4 609.2,524.7 609.4,524.6 609.7,524.8 609.9,525.8 610.4,526.1 610.7,526.1 610.9,525.5 611.4,525.3 611.6,526.6 611.9,527.0 612.4,526.3 613.1,526.2 613.3,525.2 613.8,525.6 614.0,526.1 614.5,525.8 615.0,526.0 615.3,525.9 615.5,525.1 616.0,525.5 616.2,526.9 616.7,526.3 617.0,525.2 617.2,525.1 617.7,526.5 617.9,526.5 618.2,526.1 618.4,526.1 619.4,528.2 619.6,527.9 620.1,526.0 620.4,526.0 621.1,527.9 622.0,527.8 622.3,527.6 622.5,527.8 622.8,527.5 623.0,528.1 623.3,527.3 623.5,527.5 623.7,526.7 624.0,527.2 624.2,526.9 625.0,527.5 625.2,527.1 625.7,527.2 625.9,528.1 626.9,527.1 627.4,527.2 628.1,528.5 628.8,528.2 629.1,527.5 629.3,527.7 629.6,527.5 629.8,528.2 630.0,528.5 630.3,528.6 631.0,527.8 631.3,528.2 631.7,528.0 632.0,527.4 632.2,527.3 633.0,528.7 633.4,528.6 633.7,528.2 633.9,528.8 634.2,528.7 634.4,529.4 635.1,530.1 635.4,529.7 635.6,529.9 635.9,529.4 636.1,529.5 636.4,529.0 636.8,529.1 637.1,529.0 637.6,529.4 638.3,528.9 638.5,529.8 638.8,529.6 639.0,529.7 639.3,529.1 639.5,529.6 639.7,528.9 640.0,529.2 640.2,528.8 640.7,528.8 641.0,528.0 641.7,529.7 641.9,529.1 642.7,529.4 642.9,528.8 643.9,529.6 644.1,529.0 644.4,529.5 644.6,529.3 644.8,529.9 645.1,529.8 645.3,530.8 645.6,531.0 646.3,529.9 647.0,530.4 647.5,529.5 648.2,530.2 648.5,529.8 649.2,530.6 649.9,530.3 650.2,530.7 650.7,530.3 650.9,529.6 651.1,530.1 651.4,529.9 651.6,530.5 651.9,530.2 652.1,531.2 652.3,531.1 652.6,531.5 653.8,530.9 654.3,531.0 654.5,531.3 655.3,530.6 656.0,531.3 656.2,532.0 656.5,531.9 657.2,530.0 657.7,530.7 658.2,532.2 658.9,530.8 659.1,531.4 659.9,531.9 660.6,530.8 660.8,531.0 661.3,530.6 662.0,533.2 662.3,531.5 662.8,530.8 663.0,531.4 663.3,534.5 663.5,531.0 663.7,530.3 664.0,532.2 664.5,527.2 665.0,535.0 665.7,533.2 665.9,533.6 666.2,531.8 666.4,533.4 666.9,528.1 667.1,530.1 667.4,530.3 667.6,529.2 668.1,535.3 668.3,534.2 668.6,534.0 668.8,535.3 669.1,534.6 669.3,530.6 669.6,532.1 669.8,530.4 670.3,533.8 670.5,532.3 670.8,532.2 671.0,530.5 671.3,532.7 671.5,533.1 671.7,534.2" fill="none" stroke="#333" stroke-width="0.55" clip-path="url(#ci)" stroke-linejoin="round"/>
<polyline points="502.3,523.0 502.5,523.0 503.3,524.8 503.5,524.7 504.0,523.5 504.5,524.2 505.0,524.0 505.2,523.7 505.5,523.9 505.9,523.3 506.4,524.5 506.7,524.4 507.1,524.0 507.4,524.0 507.9,522.4 508.1,522.5 508.6,524.0 508.8,524.2 509.1,523.4 509.6,523.7 509.8,524.6 510.3,524.4 510.8,523.5 511.3,523.1 511.8,523.6 512.2,523.6 512.5,523.3 512.7,523.5 513.0,523.3 513.2,523.6 513.7,522.5 513.9,522.4 514.4,524.1 514.7,524.2 514.9,523.8 515.1,524.1 515.4,523.7 515.6,524.4 516.1,525.1 516.6,524.1 516.8,524.1 517.1,523.7 517.8,523.6 518.3,524.2 518.8,524.1 519.0,523.3 519.5,523.9 519.8,524.5 520.0,524.4 520.2,524.1 520.5,524.1 520.7,523.5 521.0,524.1 521.2,524.1 521.5,524.8 521.7,524.5 521.9,524.9 522.7,523.7 522.9,523.9 523.1,523.6 523.6,522.4 524.4,523.8 524.8,524.0 525.1,524.5 525.3,524.0 525.6,524.3 526.1,524.3 526.5,523.8 526.8,523.2 527.3,522.9 527.5,523.6 527.8,523.3 528.0,523.8 528.2,523.7 528.7,524.5 529.4,523.3 529.7,524.2 529.9,524.1 530.4,522.6 530.9,523.7 531.4,524.1 531.6,523.2 532.1,523.2 532.6,523.9 532.8,523.5 533.1,523.8 533.8,523.8 534.3,523.1 534.5,523.1 535.3,524.1 535.8,523.8 536.5,522.7 537.0,522.7 537.2,523.1 537.7,522.0 537.9,522.1 538.4,523.4 538.9,522.6 539.1,522.8 539.4,522.6 539.6,523.2 539.9,522.9 540.1,523.3 540.4,523.3 541.1,521.7 541.3,522.4 541.6,522.2 541.8,522.4 542.1,522.3 542.3,522.5 544.0,520.9 544.2,520.4 545.0,520.1 545.2,519.5 545.4,519.5 545.9,520.3 546.7,519.0 547.4,519.7 548.1,519.5 548.4,518.6 548.6,518.3 549.1,518.4 549.6,517.2 549.8,517.5 550.1,517.4 550.3,517.5 550.5,516.8 550.8,516.8 551.0,515.8 551.3,515.9 551.5,515.3 552.7,515.3 553.0,515.9 553.4,515.2 553.7,514.5 554.2,514.2 554.4,514.5 555.1,513.6 555.9,513.2 556.6,511.9 556.8,511.8 557.1,512.0 557.3,511.4 557.8,510.9 558.1,511.2 558.8,509.1 559.0,508.9 559.3,509.0 559.5,508.3 560.2,509.5 560.5,509.5 560.7,509.3 561.0,509.4 561.4,508.7 561.9,508.5 562.2,509.3 562.7,508.3 562.9,508.4 563.4,509.6 563.6,509.4 563.9,510.0 564.6,509.0 564.8,509.2 565.1,508.8 565.3,509.2 565.8,508.7 566.1,507.4 566.3,507.3 566.8,507.9 567.0,507.8 567.5,507.2 567.7,506.2 568.2,506.4 568.5,507.4 569.0,506.1 569.2,505.9 569.7,506.4 569.9,505.9 570.2,506.0 570.4,505.6 570.7,505.7 571.4,503.3 571.6,503.5 572.1,503.1 572.6,503.7 573.1,503.3 573.3,502.3 573.8,501.3 574.5,504.0 575.7,506.6 576.2,507.2 576.7,509.2 577.4,510.8 577.9,513.4 579.1,517.3 579.4,517.1 581.3,526.1 582.1,530.9 582.5,532.6 582.8,532.7 583.5,535.1 584.2,534.6 584.7,535.4 585.2,537.1 585.4,537.2 585.7,537.8 585.9,537.5 586.2,538.3 586.9,537.2 587.1,537.3 587.4,538.1 588.1,536.3 588.4,536.4 588.6,535.9 588.8,535.9 589.8,534.2 590.1,534.0 590.3,534.1 590.5,533.9 591.0,532.8 591.3,532.7 591.5,532.9 591.7,532.7 592.0,533.5 592.2,532.9 592.5,533.0 592.7,532.2 593.0,532.3 593.9,531.0 594.2,531.0 594.4,531.8 594.7,531.8 595.1,530.4 595.4,530.4 595.6,530.0 596.1,529.9 596.4,530.4 596.6,529.8 597.3,529.8 598.1,527.4 598.8,528.1 599.0,527.9 599.3,528.1 599.5,528.0 599.7,528.1 600.5,526.5 600.7,527.1 601.0,526.7 601.2,527.2 601.4,526.7 601.7,527.1 601.9,526.9 602.2,527.2 602.7,526.8 602.9,527.4 603.9,525.5 604.1,525.7 604.4,525.5 604.6,525.6 604.8,524.8 605.6,526.1 605.8,525.4 606.0,525.8 606.3,525.4 606.5,525.7 606.8,525.6 607.3,526.2 607.7,526.3 608.5,525.0 608.7,525.3 609.4,524.8 609.9,524.8 610.2,525.0 610.7,524.8 610.9,525.3 611.4,525.3 611.6,524.6 611.9,525.3 612.4,525.9 612.8,525.8 613.1,526.1 613.8,526.4 614.3,526.2 614.5,525.7 614.8,526.2 615.7,525.0 616.5,526.6 617.0,526.3 617.2,527.1 617.4,527.1 617.9,526.4 618.2,526.3 618.4,526.9 619.1,526.0 619.4,526.1 619.6,527.0 620.1,527.7 620.8,526.4 621.1,527.0 622.3,527.9 622.8,527.2 623.0,527.3 623.3,527.2 623.5,528.4 623.7,528.6 624.0,528.5 625.0,526.7 625.2,527.1 625.4,528.2 625.9,528.6 626.4,528.3 626.9,527.4 627.4,527.1 627.6,527.3 627.9,528.2 628.4,528.3 628.6,528.0 629.1,529.6 629.8,528.2 630.3,529.3 630.5,528.4 630.8,528.4 631.0,527.7 631.3,528.4 631.5,528.3 631.7,529.1 632.2,529.2 632.7,528.9 633.4,527.2 633.7,527.3 634.4,529.4 634.9,528.9 635.6,529.3 635.9,528.8 636.6,529.5 637.3,529.1 637.6,529.5 637.8,529.5 638.0,530.3 639.0,528.7 639.3,528.7 639.5,528.3 639.7,529.3 640.2,529.4 640.5,528.9 641.0,529.0 641.7,530.2 641.9,530.2 642.4,529.8 642.9,530.1 644.1,529.2 645.1,530.3 645.6,530.3 646.3,529.1 646.5,529.1 647.3,530.7 648.0,529.9 648.2,529.3 648.5,529.7 648.7,529.6 649.0,530.0 649.7,529.6 650.4,531.1 650.7,530.4 651.1,530.0 651.6,530.2 652.1,531.1 652.3,531.0 652.6,530.7 652.8,529.9 653.1,530.1 653.6,531.7 653.8,531.7 654.0,531.2 654.8,531.6 655.3,530.8 655.5,531.2 655.7,531.0 656.0,531.5 656.2,531.3 656.5,531.9 656.7,531.1 657.2,530.3 657.4,531.1 657.7,531.2 657.9,530.7 658.2,530.8 658.4,530.5 659.4,531.5 659.6,530.9 660.1,531.6 660.8,531.2 661.1,531.6 661.3,531.6 661.6,531.1 661.8,531.1 662.5,532.1 663.0,531.0 663.3,527.5 663.5,528.9 663.7,535.9 664.2,530.5 664.5,532.9 664.7,530.2 665.0,529.5 665.2,533.4 665.4,533.9 665.7,528.2 666.2,533.7 666.7,534.7 667.1,527.0 667.4,527.9 667.6,533.1 668.3,528.9 668.6,530.3 668.8,534.9 669.1,533.3 669.3,535.9 669.6,535.4 669.8,531.8 670.0,532.0 670.3,532.6 670.8,536.7 671.0,535.5 671.3,531.4 671.5,530.6 671.7,535.1" fill="none" stroke="#333" stroke-width="0.55" clip-path="url(#ci)" stroke-linejoin="round"/>
<polyline points="502.3,522.9 502.8,523.7 503.0,523.2 503.5,523.9 504.2,523.3 504.5,524.3 504.7,524.1 505.2,522.8 505.7,524.1 505.9,523.7 506.2,523.8 506.4,523.5 506.7,524.3 506.9,524.5 507.6,523.6 508.1,524.2 508.8,523.3 509.3,523.7 509.8,523.7 510.3,524.4 510.5,524.2 511.0,522.9 511.3,522.9 512.0,525.1 513.0,522.9 513.5,523.1 513.7,523.6 514.9,523.3 515.6,524.6 516.4,523.9 516.6,523.0 516.8,523.7 517.1,523.4 517.8,523.5 518.1,524.3 518.5,523.9 518.8,523.2 519.0,523.2 519.3,523.5 519.5,523.6 519.8,524.2 520.0,523.5 520.2,523.9 520.5,523.2 520.7,523.6 521.7,523.9 522.4,522.5 522.7,523.3 523.6,524.2 524.8,522.7 525.6,524.6 526.3,522.5 526.5,523.3 527.0,523.1 527.3,522.6 527.8,522.7 528.5,524.0 529.2,523.4 529.4,523.9 529.9,523.6 530.2,522.8 530.9,523.1 531.1,523.8 531.9,523.0 532.1,523.1 532.8,522.1 533.1,522.4 533.3,522.3 533.8,522.7 534.1,523.4 534.5,523.5 534.8,524.0 535.5,523.0 536.2,523.6 537.0,523.4 537.2,522.8 537.7,523.1 537.9,524.0 538.7,521.2 539.1,521.5 539.4,522.0 539.6,521.8 540.1,522.6 540.6,522.3 540.8,521.6 541.1,522.1 541.3,522.1 541.6,522.5 542.3,521.0 542.8,521.0 543.0,520.7 543.3,521.1 543.5,520.5 543.8,520.4 544.0,519.7 545.0,519.6 545.2,520.1 545.7,520.1 546.4,518.3 547.4,516.9 547.6,517.6 547.9,517.6 548.4,516.7 548.8,516.4 549.1,516.0 550.1,516.6 550.8,515.2 551.0,515.4 552.2,513.7 552.7,512.7 553.4,513.4 553.9,511.8 554.2,511.4 554.4,511.9 554.7,511.0 554.9,511.2 555.9,509.1 556.4,509.6 556.8,509.5 557.1,508.6 557.6,507.9 557.8,508.1 558.1,507.9 558.3,508.3 558.8,507.9 559.0,507.0 559.3,506.8 559.5,506.9 559.8,506.2 560.0,506.1 560.2,505.8 560.5,505.8 560.7,505.5 561.4,506.8 561.7,506.7 561.9,506.0 562.7,505.8 563.1,506.1 563.4,506.6 563.6,506.7 564.4,505.7 564.6,506.1 564.8,506.2 565.1,506.1 565.3,505.6 565.8,505.2 566.3,505.5 566.8,504.4 567.3,505.0 567.5,504.8 567.7,503.7 568.5,503.2 568.7,503.5 569.2,502.8 569.4,501.3 569.7,501.1 570.4,502.2 571.4,500.4 572.1,497.3 572.4,496.9 572.6,496.9 573.3,498.7 573.6,498.9 574.1,498.7 574.3,498.8 574.5,499.8 575.5,501.7 575.7,502.7 576.0,502.9 577.2,507.1 578.2,511.2 578.9,515.7 579.4,517.0 580.1,520.6 580.4,520.9 582.5,533.1 582.8,533.2 583.0,533.0 584.7,537.6 585.0,537.4 585.2,538.1 585.4,537.7 586.2,538.0 586.7,537.3 587.1,538.4 587.4,538.5 588.1,536.3 588.4,536.5 588.8,535.7 589.1,535.8 590.1,534.2 590.3,534.6 590.5,534.4 590.8,534.7 591.3,533.7 591.7,533.9 592.5,532.2 593.0,532.8 593.7,530.6 593.9,530.8 594.2,530.7 594.7,531.1 594.9,531.1 595.1,530.9 595.6,530.9 596.1,529.9 596.4,529.7 596.6,529.8 596.8,530.3 597.6,528.9 597.8,529.1 598.5,527.8 598.8,528.2 599.0,528.0 599.3,528.8 599.5,528.9 599.7,528.5 600.0,526.9 600.2,526.6 600.5,526.9 601.2,525.8 601.4,527.1 601.9,527.6 602.7,526.3 602.9,526.7 603.4,526.8 603.6,525.9 603.9,525.7 604.1,526.1 604.4,526.1 604.6,526.6 604.8,526.6 605.1,527.1 605.3,526.6 605.8,526.4 606.8,527.0 607.5,525.6 608.2,527.0 608.7,525.5 609.0,525.4 609.2,525.8 609.4,525.6 609.7,525.8 609.9,524.8 610.2,525.0 610.4,524.2 610.7,525.1 611.1,525.6 611.6,525.7 612.1,525.0 612.4,525.0 612.6,525.7 613.6,526.8 613.8,526.5 614.0,526.5 614.3,526.7 614.5,526.5 614.8,526.8 615.0,526.7 615.3,526.9 615.5,526.9 615.7,526.3 616.0,526.4 616.2,525.3 616.7,525.5 617.2,527.4 617.4,527.5 618.2,526.2 618.4,526.9 618.7,526.6 618.9,526.7 619.1,526.3 620.1,527.7 620.8,527.1 621.1,527.9 621.6,528.6 622.5,527.2 622.8,527.7 623.0,527.6 623.3,527.8 623.5,527.3 623.7,527.3 624.0,527.6 624.2,527.5 624.7,527.7 625.4,526.3 625.7,526.3 625.9,527.5 626.4,528.2 626.9,527.4 627.6,529.2 627.9,528.8 628.1,529.5 628.4,529.1 628.6,529.6 629.1,528.4 629.3,528.4 629.8,528.8 630.3,528.1 630.8,528.7 631.0,528.7 631.5,527.4 632.0,527.7 633.0,529.7 633.7,528.3 634.2,529.0 634.4,528.8 634.7,529.0 634.9,528.8 635.1,529.1 635.4,528.3 635.6,528.7 635.9,528.6 636.1,529.0 636.4,528.9 636.8,529.1 637.3,528.4 638.0,529.3 638.3,529.0 638.8,529.0 639.0,529.6 639.3,528.7 639.7,528.2 640.2,528.9 641.0,530.7 641.2,530.2 641.4,530.6 641.7,530.0 641.9,530.0 642.2,529.1 642.7,529.3 642.9,529.8 643.1,529.6 643.4,529.8 644.1,529.3 644.6,529.4 645.1,528.9 645.6,529.5 646.0,531.0 646.3,531.0 646.5,530.1 647.0,530.3 647.3,531.4 647.5,530.9 647.7,531.2 648.0,531.1 648.2,531.5 648.5,530.6 649.0,530.2 649.2,531.4 649.4,531.1 649.7,531.3 649.9,530.7 650.4,530.9 650.7,530.8 651.4,531.2 652.3,530.3 652.6,530.4 653.3,531.6 654.0,530.1 655.0,531.1 655.7,531.4 656.0,531.7 656.5,530.6 657.2,532.1 657.9,531.0 658.4,531.5 658.7,532.1 658.9,531.9 659.1,532.2 659.6,531.7 659.9,530.8 660.3,530.7 660.8,530.8 661.1,531.5 661.8,530.8 662.0,531.5 662.3,531.2 662.5,531.3 663.0,532.2 663.3,534.2 663.7,530.8 664.2,534.8 664.5,533.6 664.7,534.3 665.0,534.1 665.4,528.3 665.9,531.5 666.2,531.5 666.4,532.0 666.9,530.3 667.1,528.0 667.4,527.6 667.9,530.0 668.1,532.7 668.3,528.8 668.8,527.4 669.3,530.5 669.6,527.6 669.8,527.8 670.0,533.3 670.3,535.0 670.5,531.6 671.0,534.9 671.7,527.9" fill="none" stroke="#333" stroke-width="0.55" clip-path="url(#ci)" stroke-linejoin="round"/>
<polyline points="502.3,522.9 502.8,523.3 503.3,522.1 504.0,524.4 505.0,523.3 505.2,523.5 505.7,523.1 505.9,523.5 506.7,522.7 507.1,523.3 507.6,522.9 507.9,523.2 508.6,522.6 509.1,523.5 509.6,522.9 510.3,524.1 510.5,523.8 511.3,524.6 512.0,522.8 512.2,523.6 512.5,523.6 512.7,523.9 513.0,523.2 513.2,523.2 513.5,523.6 513.7,523.4 513.9,523.7 514.2,523.0 514.4,523.2 514.7,522.4 514.9,522.7 515.1,522.5 515.4,523.8 515.6,523.5 515.9,524.0 516.1,523.5 516.4,523.4 516.6,524.1 516.8,523.5 517.1,524.0 517.3,523.1 517.6,524.4 518.1,524.5 518.3,523.3 518.5,523.2 518.8,522.9 519.0,523.0 519.3,522.0 519.5,522.0 519.8,521.7 520.5,523.6 521.0,523.5 521.5,523.9 521.9,523.2 522.2,523.6 522.7,524.0 522.9,523.6 523.1,523.6 523.6,522.4 523.9,522.3 524.4,522.7 524.8,523.5 525.6,522.1 526.1,523.5 526.8,522.5 527.0,522.7 527.5,523.5 527.8,523.6 528.2,522.9 528.7,523.0 529.2,523.9 529.4,523.4 529.7,523.4 529.9,522.3 530.4,522.0 530.9,522.9 531.1,522.3 531.4,523.0 531.6,523.0 531.9,523.7 532.4,523.5 532.6,523.9 532.8,523.3 533.1,523.2 533.3,522.9 533.6,523.2 533.8,523.2 534.3,522.5 534.8,522.8 535.3,522.7 535.5,522.0 536.0,521.7 536.5,523.1 536.7,523.2 537.2,522.4 537.4,522.3 537.7,522.5 537.9,522.3 538.4,520.6 538.7,520.8 539.1,522.1 539.9,521.9 540.1,522.3 540.6,522.3 541.3,520.4 541.8,520.4 542.1,521.0 542.3,520.8 542.5,520.9 543.0,520.3 543.5,518.7 543.8,518.8 544.0,519.5 544.2,519.5 544.7,517.9 545.0,518.1 545.2,518.7 545.7,519.0 545.9,517.9 546.4,518.0 546.7,517.7 547.1,515.3 547.6,515.7 547.9,516.3 548.1,516.2 548.8,514.9 549.1,514.9 549.3,514.4 549.6,514.3 549.8,514.4 550.1,514.1 550.3,514.1 550.8,513.7 551.3,512.3 551.5,512.4 552.2,511.4 552.5,511.7 552.7,511.7 553.4,510.8 553.7,511.0 554.4,509.4 554.7,509.3 554.9,509.7 555.1,509.3 555.4,509.5 556.1,507.2 556.4,506.8 556.6,507.0 556.8,506.9 557.6,505.7 557.8,505.9 558.5,503.8 559.3,502.5 560.0,503.4 560.7,503.0 561.2,502.2 561.7,503.3 562.2,502.9 562.4,501.9 562.7,502.2 562.9,502.1 563.1,502.6 563.6,502.3 563.9,502.5 564.1,502.0 564.8,502.7 565.1,502.4 565.3,502.5 565.6,503.2 566.1,503.4 566.5,502.5 566.8,501.6 567.3,500.9 567.5,501.1 568.0,500.4 568.2,499.4 568.7,498.5 569.0,498.7 569.4,498.7 570.2,496.8 570.9,496.6 571.1,496.3 571.6,495.0 571.9,494.7 572.1,494.8 572.6,494.0 572.8,494.3 573.1,494.1 573.3,494.2 573.6,493.4 575.0,497.2 575.5,497.9 577.2,503.9 579.1,514.9 579.6,516.2 580.4,520.9 580.8,522.5 581.6,528.3 582.3,530.7 583.0,534.6 583.3,535.0 584.0,535.1 584.7,537.1 585.0,537.0 585.2,537.2 585.9,538.3 586.2,538.3 586.9,536.5 587.4,535.8 587.6,536.2 588.6,536.4 588.8,536.9 589.1,536.3 589.3,536.3 589.6,535.2 590.1,534.4 590.5,534.6 590.8,535.3 591.3,534.5 591.5,533.5 592.0,533.1 592.2,532.3 592.5,532.1 593.2,532.1 593.4,531.8 593.9,531.7 594.2,530.8 594.4,531.2 594.7,530.4 594.9,530.7 595.1,529.8 595.9,530.6 596.6,529.3 597.3,529.8 597.8,529.3 598.5,529.7 599.7,527.8 600.0,528.4 600.7,526.8 601.2,527.5 601.4,527.4 601.7,526.8 601.9,527.0 602.2,526.8 602.4,527.1 602.7,525.9 603.1,525.3 603.4,526.4 603.9,527.1 604.6,525.3 605.1,525.2 605.8,527.1 606.5,526.3 606.8,526.2 607.3,525.4 607.5,525.4 607.7,525.9 608.2,525.0 609.0,525.1 609.2,524.4 609.4,525.2 609.7,525.0 609.9,526.1 610.2,525.9 610.4,526.4 610.9,524.7 611.4,524.3 611.6,524.5 611.9,524.5 612.4,525.9 612.6,525.9 612.8,525.5 613.1,525.6 613.3,526.2 614.0,526.6 614.3,527.2 615.0,525.8 615.5,527.1 616.0,526.6 616.2,526.1 616.7,526.4 617.0,526.2 617.2,526.3 617.4,526.1 617.9,526.9 618.2,526.4 618.4,526.8 618.7,526.6 618.9,527.3 619.1,526.6 619.4,526.8 619.6,526.4 619.9,526.6 620.1,526.3 620.6,527.4 620.8,527.4 621.1,527.0 621.3,527.0 621.6,527.3 622.0,527.4 622.3,526.9 622.5,527.3 622.8,527.1 623.0,527.2 623.3,526.6 623.7,526.7 624.5,528.7 625.2,528.0 625.4,528.0 625.7,527.1 625.9,527.0 626.2,527.1 626.7,529.0 626.9,529.0 627.4,528.1 628.1,528.1 628.6,528.4 629.1,527.7 629.3,527.7 629.6,527.8 629.8,528.7 630.0,528.3 630.3,529.2 630.5,528.8 630.8,529.6 632.0,528.0 632.5,528.9 632.7,528.4 633.2,528.3 633.4,529.1 633.9,528.8 634.4,529.4 634.9,528.7 635.1,528.8 635.6,529.5 636.1,528.9 636.6,528.7 636.8,529.2 637.6,529.2 637.8,529.8 638.0,529.8 638.5,528.8 639.0,529.7 639.3,529.7 639.7,529.2 640.0,529.7 640.2,529.7 640.7,529.3 641.2,529.7 641.7,529.1 641.9,529.0 642.4,530.1 642.7,530.3 643.1,529.9 643.4,530.2 643.9,529.3 644.4,530.6 644.6,530.7 645.1,529.0 645.3,529.6 645.8,530.1 646.0,530.3 646.3,530.0 646.5,530.4 646.8,530.5 647.0,531.5 647.3,531.3 647.7,530.1 648.2,530.1 648.7,529.3 649.2,529.5 649.9,530.4 650.2,530.4 650.4,529.8 651.1,531.2 651.6,530.5 652.3,531.0 652.6,530.9 652.8,531.2 653.3,530.7 654.0,531.2 654.3,530.7 654.8,531.6 655.0,531.7 655.3,531.2 656.2,530.5 656.5,530.6 657.2,531.4 657.7,530.7 658.2,531.2 658.7,532.9 658.9,532.8 659.1,532.2 659.6,531.9 659.9,531.0 660.3,530.9 660.6,531.9 661.1,531.7 661.3,531.5 661.6,531.6 661.8,531.3 662.0,531.5 662.3,530.9 662.5,531.8 662.8,531.7 663.3,533.2 663.5,532.7 663.7,532.8 664.2,527.9 665.0,535.2 665.2,533.9 665.4,528.7 666.2,536.3 666.7,529.4 667.4,540.3 667.6,535.7 668.6,529.5 669.1,534.8 669.3,531.5 669.8,528.5 670.3,533.4 670.5,530.9 670.8,530.7 671.0,531.0 671.5,535.8 671.7,534.6" fill="none" stroke="#333" stroke-width="0.55" clip-path="url(#ci)" stroke-linejoin="round"/>
<polyline points="502.3,522.7 503.3,522.3 503.5,521.9 504.0,522.4 504.2,523.3 504.5,523.0 504.7,523.6 505.0,523.7 505.5,523.3 506.2,523.3 506.4,522.7 506.7,522.7 506.9,522.5 507.9,523.4 508.4,523.2 508.8,524.0 509.3,523.1 509.6,523.5 510.5,522.8 511.3,524.1 511.8,523.3 512.0,523.2 512.7,524.2 513.5,523.0 513.7,523.2 513.9,522.9 514.2,523.4 514.4,522.9 516.1,523.7 516.6,522.5 517.1,523.8 517.3,523.9 517.8,522.9 518.1,523.7 518.3,523.8 518.8,522.4 519.0,523.3 519.5,523.9 520.0,523.0 520.2,523.3 520.5,522.9 521.5,523.3 521.7,522.6 522.2,522.9 522.4,523.4 523.1,522.8 523.6,522.7 523.9,523.1 524.1,523.1 524.4,523.1 524.6,522.3 524.8,522.3 525.1,522.8 525.3,523.8 525.6,523.8 525.8,523.6 526.1,523.0 527.0,523.4 527.8,524.7 528.5,522.0 529.0,522.5 529.2,522.4 529.4,523.5 529.7,523.0 529.9,523.1 530.2,522.2 530.7,522.3 531.1,523.1 531.4,523.1 531.6,522.5 531.9,522.6 532.1,522.4 532.4,522.7 533.1,522.1 533.8,523.1 534.1,522.5 534.3,522.9 534.8,522.0 535.3,522.0 535.5,522.1 536.0,521.9 536.5,522.2 536.7,521.8 537.0,521.9 537.2,521.2 538.2,522.5 538.4,521.9 538.7,521.7 538.9,520.6 539.4,520.1 539.9,520.9 540.1,520.3 540.4,520.8 540.6,520.1 540.8,520.3 541.1,519.2 541.8,519.8 542.1,519.7 542.3,520.4 542.5,520.3 543.8,517.9 544.0,518.0 544.2,518.9 544.5,518.7 544.7,519.5 545.2,519.0 545.7,516.4 545.9,516.3 546.2,515.5 546.4,516.0 546.7,515.3 546.9,515.5 547.4,515.5 547.6,514.6 548.1,514.0 548.6,513.9 549.1,513.6 550.3,512.1 550.5,511.3 551.0,511.1 551.3,511.5 552.0,509.6 552.2,509.8 552.7,509.4 553.0,508.9 553.2,509.0 553.4,508.2 554.9,506.8 555.1,505.7 555.6,505.4 555.9,506.0 556.4,505.0 556.6,505.1 556.8,504.9 557.6,502.5 557.8,502.4 558.1,501.9 558.3,501.9 558.5,501.2 558.8,501.3 559.0,500.9 559.3,500.9 559.5,499.5 559.8,499.1 560.0,498.9 560.5,499.7 560.7,499.4 561.0,499.5 561.2,499.7 561.4,500.5 561.9,500.1 562.2,499.4 562.7,499.5 562.9,499.2 563.1,499.4 563.4,499.0 563.6,500.0 563.9,499.8 564.1,500.3 564.4,500.1 564.8,500.3 565.3,499.6 565.8,497.5 566.1,497.5 566.5,498.7 566.8,498.6 567.3,496.8 568.2,495.6 568.5,494.8 568.7,495.0 569.0,494.4 569.2,494.4 570.7,491.7 571.1,491.3 571.4,491.4 571.6,491.3 572.4,489.0 572.6,489.9 573.3,488.6 573.6,488.9 574.1,490.4 575.0,493.9 575.3,493.7 575.5,494.7 576.2,496.2 576.5,497.3 577.9,504.5 578.7,510.8 582.5,532.9 582.8,533.1 583.5,535.6 584.2,535.8 584.7,537.2 585.0,537.2 585.2,537.5 585.4,536.7 585.7,537.4 586.4,537.7 586.7,537.2 586.9,537.7 587.6,536.2 588.1,536.7 588.8,535.2 589.1,535.3 589.3,535.0 589.6,535.2 589.8,534.6 590.1,534.5 590.3,533.6 591.0,533.9 591.7,532.0 592.5,533.4 593.7,530.8 593.9,530.6 594.2,531.2 594.4,531.0 594.7,531.8 595.1,531.4 595.6,530.2 595.9,530.2 596.6,529.0 596.8,529.3 597.1,529.3 597.3,528.9 598.1,529.4 598.8,529.0 600.0,527.1 600.7,528.3 601.7,526.7 601.9,527.1 602.2,527.0 602.4,527.6 602.7,527.0 603.1,526.6 603.4,526.9 603.6,526.8 604.1,526.0 604.4,526.4 604.6,526.2 604.8,526.5 605.1,526.1 605.3,526.5 605.8,525.7 606.5,525.2 606.8,524.6 607.5,526.1 608.2,524.7 609.0,525.5 609.2,525.5 609.7,525.9 610.4,525.2 610.9,525.5 611.1,526.4 611.4,525.6 611.9,525.3 612.1,526.5 612.4,526.1 612.6,526.1 612.8,525.6 613.1,526.1 613.3,525.8 613.6,526.0 613.8,525.6 614.0,526.4 614.3,526.2 614.5,526.4 614.8,526.2 615.3,526.9 615.7,526.5 616.0,526.6 616.7,526.3 617.0,526.7 617.7,526.4 618.9,527.3 619.6,527.1 619.9,526.6 620.4,526.3 620.6,526.7 620.8,526.7 621.1,527.4 621.6,527.2 621.8,527.5 622.0,527.1 622.3,527.5 622.5,526.9 622.8,527.8 623.0,527.6 623.7,526.0 624.5,528.2 625.0,528.7 625.2,528.3 625.4,528.5 625.9,528.1 626.2,527.4 626.4,527.3 626.9,527.5 627.4,528.1 627.6,528.0 627.9,528.1 628.1,527.3 628.4,528.1 628.6,528.2 628.8,528.8 629.1,528.4 629.8,528.5 630.0,528.2 630.8,528.1 631.0,528.6 631.3,528.1 631.7,528.5 632.0,529.2 632.5,528.4 632.7,528.4 633.0,529.0 633.7,527.8 634.4,528.3 634.7,528.1 635.1,528.6 635.4,528.6 635.9,528.2 636.1,528.6 636.6,528.9 636.8,528.9 637.1,528.5 637.6,528.8 637.8,530.0 638.0,530.1 638.3,530.8 638.8,529.6 639.0,528.4 639.3,528.2 639.5,528.2 640.2,529.3 640.7,529.3 641.0,528.6 641.7,529.6 641.9,529.1 642.2,529.6 642.4,529.5 642.7,530.5 642.9,529.7 643.1,529.9 643.4,529.3 643.6,529.7 644.4,529.1 645.3,529.8 646.0,531.1 647.0,530.1 647.7,531.4 648.2,530.5 648.5,530.6 649.0,531.3 649.2,531.0 649.4,531.2 649.7,530.4 649.9,531.2 650.2,530.8 650.7,530.7 650.9,531.1 651.6,530.6 651.9,531.2 652.1,531.3 653.3,530.5 653.8,531.2 654.3,531.3 654.8,530.3 655.0,530.7 655.3,530.5 655.5,531.4 655.7,531.1 656.7,531.1 657.0,530.8 657.2,531.3 657.9,530.5 658.2,531.5 658.4,531.7 658.9,531.3 659.1,530.5 659.6,530.2 660.1,531.8 660.8,532.8 661.1,532.6 661.8,530.7 662.3,530.9 662.5,531.9 663.0,531.8 663.3,532.0 663.5,534.6 663.7,531.1 664.2,534.1 665.0,526.8 665.2,527.6 665.4,530.3 665.9,525.6 666.4,531.8 666.7,530.8 666.9,534.1 667.1,534.3 667.9,528.5 668.1,531.6 668.3,530.8 668.8,530.7 669.6,536.1 669.8,535.8 670.0,530.3 670.3,529.7 670.5,533.4 670.8,533.5 671.0,533.2 671.3,534.0 671.5,531.7 671.7,531.4" fill="none" stroke="#333" stroke-width="0.55" clip-path="url(#ci)" stroke-linejoin="round"/>
<polyline points="502.3,522.5 503.0,521.2 503.3,522.1 503.8,522.4 504.0,522.4 504.2,522.0 504.5,522.4 504.7,521.6 505.5,523.5 505.7,523.5 506.4,521.9 506.9,521.7 507.4,523.1 507.9,523.6 508.1,523.4 508.4,523.5 508.6,522.5 508.8,522.8 509.1,522.7 509.3,523.2 509.6,522.7 510.3,522.4 510.8,522.8 511.0,523.4 511.3,523.4 511.8,522.9 512.5,523.4 512.7,524.0 513.0,524.0 513.2,523.8 513.5,522.8 513.9,522.6 514.4,523.5 514.7,523.3 515.4,523.9 515.6,523.5 516.4,523.2 516.6,522.5 516.8,522.6 517.1,523.1 517.3,523.1 517.8,522.9 518.1,522.3 518.3,522.8 518.5,522.7 518.8,523.3 519.0,522.3 519.5,522.3 519.8,522.8 520.0,522.9 520.2,522.3 520.5,522.7 520.7,522.4 521.0,523.0 521.7,522.3 521.9,522.4 522.2,523.0 522.9,522.3 523.1,522.8 523.6,523.0 523.9,522.7 524.1,523.1 524.4,522.7 524.6,523.4 524.8,522.9 525.1,523.2 525.6,522.1 526.3,522.9 526.8,522.5 527.0,523.2 527.3,523.1 528.2,523.5 529.0,522.6 529.7,522.3 529.9,522.4 530.2,522.1 530.4,523.0 530.7,522.7 530.9,523.1 531.1,522.2 531.4,522.3 531.9,522.0 532.6,522.9 532.8,522.4 533.3,522.6 533.8,522.0 534.1,520.9 534.5,521.3 534.8,522.2 535.8,522.2 537.0,521.1 537.2,520.0 537.9,521.2 538.2,521.2 538.4,520.8 538.7,521.4 538.9,520.9 539.1,521.2 539.4,520.5 539.9,520.5 540.6,519.7 540.8,520.0 541.3,519.1 541.6,519.2 541.8,520.0 542.8,517.7 543.0,517.6 543.3,517.7 543.5,518.3 544.0,517.9 544.5,516.4 544.7,516.4 545.2,517.0 546.2,515.5 546.4,514.5 546.7,514.7 547.1,514.6 547.9,512.6 548.4,512.9 548.8,512.0 550.3,511.1 551.0,508.6 551.8,509.6 552.7,506.3 553.2,505.8 553.7,505.9 553.9,505.8 554.7,504.3 554.9,504.5 555.4,503.3 555.6,503.8 555.9,503.8 556.1,503.6 556.6,501.0 557.1,500.0 557.8,499.3 558.1,498.3 558.5,497.7 558.8,498.1 559.0,497.8 559.3,498.4 559.5,497.8 559.8,497.8 560.0,496.7 560.5,496.3 560.7,496.4 561.0,496.3 561.2,496.6 561.9,496.1 562.4,496.9 563.1,495.6 563.6,495.5 563.9,495.9 564.4,497.5 565.1,496.5 565.3,496.8 567.0,493.1 567.3,493.5 568.0,491.7 568.7,491.2 569.0,490.8 569.2,491.0 569.9,488.7 570.4,488.9 571.4,487.0 572.1,484.8 572.4,484.9 572.6,484.7 572.8,485.0 573.3,485.0 573.6,485.5 573.8,485.3 574.1,486.5 574.3,486.3 574.8,487.6 575.3,490.1 576.2,492.9 577.4,498.7 578.9,510.9 579.4,513.6 579.6,513.9 580.4,521.7 582.1,530.0 584.0,536.0 584.2,536.0 584.5,536.6 584.7,536.4 585.0,537.3 585.2,537.0 585.9,538.9 586.7,536.9 586.9,536.9 587.1,536.4 587.6,536.1 588.1,536.0 588.8,534.8 589.1,535.5 589.6,535.5 590.3,533.6 590.5,534.2 591.0,534.4 592.0,532.1 592.5,533.0 593.0,531.8 593.4,531.8 593.7,532.0 593.9,531.4 594.2,531.6 594.7,530.8 594.9,531.2 595.1,531.2 595.4,531.4 595.9,529.6 596.8,529.8 597.1,529.4 597.3,529.5 597.6,528.9 597.8,529.4 598.1,529.3 598.5,528.3 599.3,528.7 600.0,527.2 600.2,527.6 600.7,527.8 601.0,527.5 601.2,527.6 601.4,527.0 601.7,527.0 602.4,526.5 602.7,526.0 602.9,526.2 603.1,526.2 603.9,525.6 604.1,526.2 604.6,526.0 605.3,526.4 605.6,526.0 605.8,526.4 606.8,524.9 607.0,525.3 608.0,525.3 608.2,525.7 608.7,525.2 609.2,526.0 609.4,526.1 609.9,525.2 610.2,525.3 610.7,525.3 611.1,527.0 611.4,527.0 611.9,525.0 612.1,525.1 612.4,524.6 612.8,525.1 613.3,526.1 613.8,526.3 614.3,525.7 614.8,525.6 615.7,526.5 616.0,526.0 616.2,526.2 616.5,526.2 616.7,527.0 617.0,527.0 617.2,527.6 617.9,525.9 618.2,526.4 618.4,526.4 618.7,527.0 619.1,527.2 619.6,527.0 619.9,527.2 620.1,527.0 620.8,528.2 621.1,528.3 622.5,526.3 623.3,527.5 623.5,527.5 623.7,528.1 624.2,528.3 624.7,528.9 625.0,528.2 625.4,527.8 625.7,528.4 626.2,528.2 626.4,528.8 626.7,528.5 626.9,528.6 627.1,528.1 627.4,528.6 627.6,528.2 628.1,528.0 628.4,528.6 628.8,528.8 629.1,528.3 629.8,528.5 630.3,527.9 630.5,528.9 631.0,528.7 631.3,528.1 632.7,529.3 633.0,529.2 633.7,527.3 633.9,527.5 634.2,527.4 634.9,529.0 635.1,529.1 635.6,528.4 635.9,528.3 636.1,528.5 636.4,529.8 636.6,529.9 637.1,528.5 637.6,528.4 637.8,527.9 638.3,529.0 638.5,530.3 638.8,529.8 639.5,531.1 640.0,529.6 640.5,528.9 640.7,529.2 641.0,529.2 641.2,529.7 641.4,529.4 641.9,530.0 642.9,529.7 643.4,529.0 643.9,530.3 644.1,530.4 644.8,529.2 645.3,529.3 645.8,530.2 646.8,530.0 647.3,529.4 648.0,529.3 648.2,529.7 649.0,529.9 649.4,530.8 649.7,530.9 650.4,530.2 650.7,530.9 650.9,530.8 651.1,531.1 651.4,529.8 651.6,529.8 652.1,530.4 652.3,530.1 652.6,530.2 652.8,530.5 653.3,530.3 653.6,530.4 653.8,531.2 654.5,530.2 655.0,531.1 655.3,530.8 655.5,531.0 655.7,530.7 656.0,531.4 656.2,531.4 657.0,530.7 657.4,531.0 657.7,530.8 657.9,530.9 658.2,530.8 658.4,531.3 658.7,530.6 658.9,531.3 659.1,530.8 659.4,530.9 659.6,530.3 660.1,531.0 660.3,530.8 661.1,532.0 661.3,531.7 662.0,533.0 662.8,531.0 663.0,531.7 663.5,529.8 664.0,537.8 664.7,533.3 665.0,534.7 665.2,532.3 665.4,532.5 665.7,533.6 665.9,530.6 666.2,531.4 666.4,536.4 666.7,535.7 666.9,536.1 667.4,532.3 667.6,536.0 668.1,530.8 668.6,533.6 668.8,530.8 669.1,531.2 669.3,534.8 669.6,535.3 670.0,532.5 670.3,532.7 670.5,534.0 670.8,533.1 671.0,529.9 671.3,530.0 671.5,528.7 671.7,529.1" fill="none" stroke="#333" stroke-width="0.55" clip-path="url(#ci)" stroke-linejoin="round"/>
<polyline points="502.3,521.7 502.5,521.2 502.8,521.4 503.5,522.9 503.8,522.6 504.0,522.8 504.5,522.4 505.0,521.4 505.7,522.2 506.2,522.1 507.1,522.8 507.4,522.4 507.6,523.1 507.9,522.9 508.1,523.8 508.4,523.5 508.8,523.9 509.1,524.3 509.6,522.2 509.8,522.2 510.3,523.7 510.5,523.7 510.8,523.9 511.5,522.5 511.8,522.6 512.0,523.1 512.5,522.8 513.0,523.1 513.2,522.6 513.5,522.8 513.7,522.5 513.9,523.3 514.2,522.4 514.4,523.0 514.7,522.8 514.9,523.7 515.1,523.7 515.4,524.1 516.1,521.9 516.8,523.8 517.1,524.0 518.1,522.5 518.3,522.9 518.5,522.7 519.3,523.8 519.5,523.0 519.8,522.9 520.2,523.4 520.5,523.2 520.7,522.4 521.2,523.0 521.9,522.7 522.2,523.4 522.4,523.6 522.7,523.4 522.9,522.5 523.4,522.1 523.6,522.8 523.9,522.4 524.4,522.2 524.8,523.2 525.1,523.2 525.3,524.1 525.8,523.3 526.1,522.2 526.8,522.4 527.0,522.3 527.5,522.6 528.2,522.4 528.5,523.1 528.7,523.2 529.0,523.6 529.4,522.3 529.7,522.2 530.2,522.7 530.7,521.5 531.1,521.8 531.4,523.0 531.6,523.2 531.9,523.2 532.1,522.6 532.6,522.4 533.3,521.4 533.6,521.7 533.8,521.6 534.3,522.1 535.0,521.4 535.5,522.2 536.0,521.9 536.2,521.2 537.9,521.3 538.7,519.0 538.9,519.3 539.1,519.1 539.4,519.9 539.9,520.2 540.6,518.1 540.8,518.7 541.1,518.6 541.3,519.0 541.6,519.6 542.1,518.9 542.3,517.9 542.8,518.7 543.3,518.6 544.5,516.7 544.7,515.8 545.0,516.0 545.2,515.8 545.4,515.8 546.2,514.0 546.9,513.5 547.4,512.4 548.4,511.8 548.8,510.6 549.3,510.4 549.6,510.1 550.3,507.8 550.5,508.2 551.0,508.0 551.8,506.2 552.0,506.1 552.2,506.3 552.5,506.2 553.2,504.2 553.4,504.2 553.7,503.8 553.9,504.3 554.2,503.7 554.4,503.9 554.9,502.8 555.4,500.2 555.9,498.9 556.1,498.4 556.6,498.4 556.8,498.1 557.3,498.0 557.6,498.2 558.5,494.8 558.8,494.7 559.0,494.1 559.3,494.5 559.5,493.8 559.8,493.9 560.0,493.5 560.2,493.6 561.0,492.5 561.7,493.7 562.4,492.5 563.1,493.3 563.4,493.0 563.9,493.2 564.1,493.0 564.6,491.7 564.8,491.5 565.3,491.4 566.1,492.0 566.3,491.8 567.3,489.2 567.7,489.0 568.2,488.5 569.2,485.8 569.4,485.9 570.2,485.1 570.9,483.2 571.6,482.2 572.1,479.8 572.6,479.2 572.8,479.5 573.1,478.9 574.3,482.2 574.5,483.9 575.0,485.4 575.3,485.4 575.7,486.8 577.0,492.9 578.4,503.9 579.6,515.3 582.1,531.3 582.8,532.2 583.7,535.8 584.2,535.2 585.0,537.4 585.7,538.4 586.4,537.6 586.7,537.7 586.9,537.5 587.1,537.0 587.4,537.2 587.6,536.8 587.9,537.4 588.1,536.8 588.4,536.9 588.8,535.8 589.1,536.2 589.8,534.8 590.3,535.4 591.0,532.9 591.3,532.9 591.5,532.6 591.7,532.6 592.0,532.4 592.2,532.4 592.5,532.1 593.2,532.7 593.4,532.3 594.2,532.0 594.4,531.1 594.7,531.0 594.9,530.6 595.1,530.9 595.4,530.4 595.6,530.9 595.9,530.6 596.1,530.6 596.8,529.2 597.1,529.1 597.6,529.4 597.8,528.4 598.3,528.1 598.5,528.5 599.0,527.8 599.3,527.9 599.5,527.7 600.2,528.3 600.5,528.0 600.7,528.1 601.4,526.5 602.7,526.8 602.9,527.1 603.4,526.1 603.6,526.1 603.9,525.6 604.1,525.9 604.4,525.7 604.6,526.4 605.1,526.0 605.3,526.3 606.0,524.8 606.3,525.7 606.5,525.9 606.8,525.7 607.3,525.8 607.5,526.1 607.7,525.2 608.0,525.2 608.2,524.9 608.7,525.5 609.0,526.3 609.2,526.2 609.4,526.5 609.7,525.7 610.2,525.4 610.7,526.2 610.9,525.8 611.4,525.8 611.9,525.2 612.1,525.2 612.4,525.9 613.3,527.0 614.0,525.4 614.8,526.9 615.3,526.0 615.7,526.0 616.2,525.5 616.7,526.1 617.0,526.0 617.2,526.1 617.4,526.5 618.2,527.0 618.4,527.7 618.7,527.2 618.9,527.4 619.1,526.7 619.4,527.0 619.6,526.3 620.6,527.8 620.8,527.4 621.1,527.6 621.3,527.2 622.0,528.4 622.3,527.6 622.8,526.9 623.3,527.4 623.5,527.3 624.0,528.0 624.7,527.7 625.7,528.1 626.4,528.0 626.7,528.3 627.1,528.1 627.9,528.7 628.4,527.0 628.6,526.9 629.1,528.3 629.3,528.6 629.6,528.5 629.8,527.7 630.0,527.6 630.5,528.3 631.0,527.3 631.3,527.8 631.5,527.8 631.7,528.5 632.5,528.3 632.7,527.7 633.0,528.7 633.4,528.6 633.7,528.3 634.4,529.6 634.7,528.9 635.1,528.7 635.4,529.1 635.9,528.9 636.1,528.4 636.4,528.8 636.6,528.7 637.3,529.1 637.6,529.6 637.8,529.0 638.3,529.2 638.5,529.7 639.0,530.1 639.7,529.4 640.0,529.5 640.7,529.1 641.2,528.4 641.9,528.8 642.7,530.0 643.9,529.3 644.1,529.9 644.8,530.1 645.3,530.8 646.8,530.5 647.0,530.1 647.3,530.3 647.5,530.0 647.7,531.1 648.0,530.5 648.2,530.7 648.5,529.1 648.7,530.2 649.0,529.9 649.2,530.5 649.4,530.1 649.9,530.8 650.2,530.7 650.4,530.3 650.9,530.4 651.1,529.9 651.4,530.0 651.6,529.9 651.9,531.0 652.3,530.7 652.6,530.3 653.1,531.1 653.8,530.9 654.3,531.2 654.5,530.7 654.8,530.8 655.0,530.1 655.5,530.1 656.0,531.9 656.2,531.8 656.5,531.1 656.7,531.4 657.0,531.0 657.2,531.0 657.4,530.7 657.7,531.5 658.2,532.2 659.1,531.5 659.9,532.1 660.6,530.6 661.1,530.5 661.6,531.4 662.0,531.7 662.3,531.7 662.5,532.4 662.8,532.2 663.0,533.0 663.3,530.9 663.5,535.0 664.0,532.9 664.2,535.8 664.5,535.0 665.0,530.6 665.2,529.6 665.4,531.1 665.7,530.9 665.9,528.0 666.2,528.3 666.4,532.4 666.7,532.5 667.1,526.8 667.4,529.7 667.6,530.1 668.1,532.4 668.6,526.0 669.1,532.9 669.3,530.7 669.6,530.3 669.8,532.0 670.0,532.5 670.3,527.9 670.5,528.7 670.8,532.0 671.0,531.9 671.5,536.7 671.7,535.6" fill="none" stroke="#333" stroke-width="0.55" clip-path="url(#ci)" stroke-linejoin="round"/>
<polyline points="502.3,522.0 502.5,522.5 503.0,522.8 503.5,521.2 504.0,521.8 504.2,522.6 504.7,521.7 505.7,522.8 506.7,522.2 506.9,522.7 507.6,523.0 508.4,522.5 508.6,523.0 509.1,523.0 509.3,522.4 509.6,522.4 510.1,523.4 510.3,523.3 510.5,522.5 510.8,522.3 511.3,524.4 511.5,523.6 511.8,523.6 512.0,522.8 512.7,521.7 513.5,523.2 514.2,522.5 514.4,523.0 514.7,522.6 515.4,522.9 515.9,521.7 516.1,522.0 516.4,523.3 516.8,524.0 517.3,522.8 517.8,522.3 518.5,522.6 518.8,523.2 519.3,523.5 519.5,522.7 519.8,522.5 520.0,522.7 520.2,523.3 521.5,522.0 521.9,523.0 522.2,522.9 522.7,521.9 523.4,522.8 523.6,522.5 523.9,522.8 524.4,523.0 524.6,522.0 525.1,521.9 525.3,522.6 526.1,521.3 527.0,522.7 527.5,521.9 527.8,521.9 528.5,523.0 528.7,522.5 529.0,523.1 529.7,522.3 530.4,522.5 530.9,522.1 531.1,522.3 531.4,521.9 531.6,522.3 531.9,522.1 532.1,522.5 532.6,521.2 532.8,521.6 533.1,521.6 533.3,522.0 533.6,521.8 534.1,523.2 534.8,520.6 535.3,520.5 535.5,521.5 536.0,522.2 536.5,519.6 536.7,519.6 537.2,521.2 537.4,520.7 538.2,520.9 538.7,520.1 538.9,520.5 539.6,519.7 539.9,520.2 540.6,518.8 541.1,518.4 541.3,517.6 541.8,517.5 542.3,518.6 542.5,518.7 542.8,518.5 543.0,517.7 543.3,517.8 543.5,517.4 543.8,517.4 544.0,515.9 544.2,515.6 544.5,515.7 544.7,516.4 545.0,516.3 545.9,513.8 546.2,513.9 546.7,513.7 546.9,512.6 547.4,511.9 547.6,512.2 548.4,509.7 549.3,507.8 550.1,508.4 550.5,506.3 551.0,506.9 552.0,503.8 552.5,504.5 553.2,502.3 553.4,502.7 554.2,500.9 554.4,501.0 554.9,500.4 555.9,497.2 556.6,496.3 557.3,494.3 557.6,493.9 557.8,494.2 558.5,491.8 559.0,491.5 559.8,490.2 560.0,490.5 560.2,490.2 560.5,490.5 560.7,489.9 561.0,490.8 561.7,489.9 562.2,490.8 562.7,489.8 563.1,490.2 563.6,489.7 564.1,489.9 564.8,489.1 565.1,489.3 566.8,486.4 567.5,485.5 568.0,485.4 568.7,483.1 569.0,483.3 569.2,482.8 569.4,482.9 570.2,479.2 570.9,479.5 572.1,475.2 572.8,474.5 573.8,476.4 575.0,482.0 576.2,485.3 576.5,486.8 577.9,497.3 580.8,524.1 581.6,526.8 582.3,531.7 582.8,532.1 583.5,535.3 584.0,536.5 584.2,536.4 584.7,536.9 585.0,538.1 585.2,538.0 585.4,538.4 585.9,538.3 586.4,537.0 586.7,537.2 586.9,537.1 587.1,537.3 587.9,535.5 588.1,535.5 588.6,537.2 588.8,537.0 589.3,534.6 589.8,534.1 590.1,534.8 590.3,534.7 590.5,535.2 590.8,534.1 591.0,534.2 591.3,533.7 591.5,534.2 592.2,531.8 593.0,532.7 593.4,531.9 593.7,530.9 593.9,531.0 594.2,530.6 594.4,530.8 594.7,530.3 594.9,530.8 595.1,530.6 595.4,531.1 595.6,530.8 596.1,530.6 596.4,530.1 596.6,530.1 596.8,529.3 597.1,529.4 597.3,528.6 597.6,529.1 597.8,528.4 598.1,528.8 598.3,528.6 598.5,528.9 599.7,527.0 600.2,527.9 600.5,527.7 600.7,527.9 601.0,527.3 601.2,527.8 601.4,527.2 601.7,527.3 601.9,526.7 602.9,526.0 603.4,526.6 603.9,526.6 604.1,526.1 604.8,526.7 605.8,526.1 606.3,526.4 606.8,526.0 607.0,525.4 607.3,525.6 607.5,525.3 608.0,526.7 608.5,526.0 608.7,525.1 609.4,525.3 609.9,525.7 610.2,525.3 610.4,525.6 610.7,525.0 610.9,525.5 611.1,525.2 611.4,525.6 611.6,524.8 611.9,524.7 612.4,525.4 612.8,525.7 613.6,524.9 614.3,526.7 614.5,526.7 614.8,525.8 615.0,525.6 615.7,525.9 616.0,525.7 616.2,526.1 616.5,525.8 616.7,525.9 617.0,525.4 617.2,526.2 617.7,526.6 617.9,526.0 618.2,526.0 618.9,527.3 619.1,528.2 619.6,527.4 619.9,526.5 620.4,528.1 620.6,528.3 621.1,527.6 621.3,528.0 621.8,528.1 622.5,527.5 623.0,527.7 623.7,527.5 624.0,527.2 624.2,527.5 624.5,527.1 624.7,527.7 625.0,527.5 625.2,528.3 625.9,528.2 626.4,528.5 626.7,528.5 627.1,527.4 627.4,527.4 627.9,528.7 628.4,526.8 628.8,527.6 629.1,528.9 629.3,528.4 629.6,528.7 629.8,528.5 630.0,529.3 630.3,529.1 630.5,529.3 631.3,529.0 631.5,527.6 632.0,528.2 632.2,529.1 633.0,527.3 633.2,527.9 633.4,527.9 634.2,529.4 634.4,529.5 634.9,529.0 635.4,528.9 635.6,529.3 636.1,528.8 636.6,528.6 637.8,529.8 638.0,529.7 638.3,530.2 638.8,529.7 639.0,529.1 639.3,529.1 639.5,529.6 639.7,529.2 640.0,529.6 640.2,529.1 641.0,530.0 641.4,529.1 642.2,529.9 642.4,529.6 642.7,529.7 643.1,528.5 643.9,529.9 644.4,530.1 644.6,530.6 645.1,529.5 645.6,529.0 645.8,529.6 646.0,529.3 646.3,530.7 646.5,530.2 646.8,530.7 647.0,530.0 647.3,530.8 647.7,530.9 648.5,529.6 648.7,530.2 649.7,531.3 649.9,531.3 650.4,530.4 650.7,530.6 650.9,530.5 651.9,531.4 652.1,531.0 652.8,531.0 653.3,530.3 653.8,530.0 654.3,530.2 655.0,531.1 655.5,531.2 656.2,530.3 656.5,530.3 657.0,530.9 657.4,530.9 657.9,531.3 658.2,531.0 658.4,531.2 658.7,530.9 658.9,531.1 659.1,530.4 660.1,532.0 660.3,531.8 660.6,532.4 660.8,532.1 661.1,532.1 661.3,531.8 661.6,531.2 661.8,531.4 662.0,531.2 662.3,531.7 662.8,530.6 663.0,530.9 663.3,532.6 663.5,536.6 664.2,529.3 664.7,536.6 665.0,528.6 665.2,527.7 665.4,530.0 665.7,530.3 665.9,530.1 666.2,528.1 666.4,532.3 666.7,534.4 666.9,534.6 667.1,538.2 667.6,526.8 667.9,527.5 668.3,527.6 669.1,537.5 669.6,532.9 670.3,537.7 670.8,534.4 671.0,534.9 671.7,534.2" fill="none" stroke="#333" stroke-width="0.55" clip-path="url(#ci)" stroke-linejoin="round"/>
<polyline points="502.3,521.0 502.5,520.9 502.8,521.3 503.0,521.1 503.3,521.4 503.5,521.0 503.8,522.1 504.0,522.4 504.5,521.7 505.2,522.3 505.5,521.9 505.9,521.9 506.4,522.6 506.9,522.2 507.6,523.6 508.4,522.4 508.6,522.6 508.8,522.4 509.1,522.6 509.3,522.4 509.6,522.8 509.8,522.8 510.1,523.3 510.3,522.4 510.5,522.6 510.8,522.2 511.0,523.1 511.8,523.1 512.0,522.7 512.2,522.7 512.5,522.0 512.7,522.1 513.0,521.8 513.2,521.8 513.5,522.3 514.2,521.8 514.7,522.8 515.4,521.1 515.6,521.0 516.4,522.9 516.6,522.8 516.8,522.1 517.6,522.5 518.1,521.5 519.0,522.1 519.8,521.1 520.0,521.2 520.2,521.6 520.7,523.0 521.5,521.5 521.7,522.0 521.9,521.9 522.2,522.4 522.9,522.5 523.1,522.3 523.4,522.8 523.6,521.9 523.9,522.2 524.1,521.5 524.8,521.1 525.8,523.1 526.1,522.7 526.8,522.3 527.0,521.6 527.3,521.6 527.5,522.6 527.8,522.7 528.0,522.5 528.2,521.8 528.5,522.0 528.7,521.8 529.0,521.9 529.4,522.8 529.9,521.0 530.2,520.9 530.7,522.4 531.4,520.8 531.6,521.4 532.1,521.8 532.4,521.5 533.1,521.9 533.8,521.2 534.3,522.2 534.5,522.1 534.8,522.2 535.0,521.2 535.5,520.7 536.0,521.8 536.7,519.5 537.2,520.0 537.7,518.8 538.4,519.6 538.9,518.9 539.4,519.6 539.6,519.5 539.9,518.9 540.6,518.6 541.3,517.7 541.6,517.0 542.3,518.6 543.0,515.9 543.3,515.8 543.5,515.1 543.8,515.1 544.0,514.8 544.2,515.0 545.0,513.5 545.2,513.6 545.4,512.7 545.7,513.4 545.9,512.9 546.2,513.5 546.4,512.6 546.7,512.8 546.9,511.6 547.4,510.6 547.6,510.6 547.9,510.1 548.1,508.8 548.6,507.7 548.8,507.7 549.3,506.8 549.6,505.7 549.8,505.8 550.3,506.4 550.5,506.1 550.8,504.7 552.0,502.0 552.5,501.3 552.7,501.6 553.2,501.2 553.7,499.2 554.7,496.7 555.4,497.0 555.9,495.3 556.1,494.8 556.4,494.8 557.3,491.1 558.1,491.0 559.3,487.2 559.5,487.4 560.0,486.9 560.5,486.8 560.7,486.2 561.0,486.1 561.7,487.1 561.9,487.8 562.2,487.6 562.4,487.9 562.7,486.9 562.9,486.9 563.1,486.6 563.6,487.2 564.4,486.2 564.6,486.2 564.8,485.9 565.3,486.1 565.6,485.7 565.8,485.9 567.3,482.2 567.5,482.5 567.7,481.5 568.0,481.5 568.2,480.6 568.5,480.5 569.0,478.9 569.4,478.5 570.2,476.1 570.4,476.1 571.1,475.0 571.9,471.7 572.4,471.1 572.6,471.3 572.8,470.8 573.3,470.9 574.5,474.0 576.5,483.3 577.7,492.1 580.4,520.3 581.8,530.4 582.1,531.3 582.5,531.8 583.0,533.6 583.5,534.1 584.5,537.4 585.2,537.6 585.4,537.3 585.7,537.7 585.9,537.5 586.2,537.8 586.4,537.2 587.1,538.1 587.9,537.0 588.1,537.2 588.6,536.2 588.8,534.2 589.3,533.6 589.8,534.3 590.1,534.2 590.3,534.3 590.8,532.8 591.3,532.2 592.0,533.5 592.2,533.1 592.5,533.3 593.0,533.1 593.2,532.4 593.7,532.0 594.4,532.3 594.9,531.4 595.1,531.2 595.4,531.4 595.9,530.4 596.1,530.2 596.6,530.3 597.6,527.6 597.8,528.3 598.3,528.9 599.3,528.0 599.5,527.4 599.7,527.7 600.2,527.7 600.7,527.1 601.0,527.7 601.2,527.0 601.4,527.4 601.7,526.1 602.4,526.5 602.7,527.3 603.1,527.7 603.6,526.2 604.1,526.1 604.4,526.6 604.8,526.2 605.1,525.4 605.3,525.4 605.8,526.3 607.3,525.0 607.5,525.4 608.0,525.6 609.0,525.8 609.2,525.4 609.9,525.8 610.7,524.4 610.9,524.8 611.1,524.5 611.4,525.6 611.9,526.3 612.4,525.6 612.6,526.0 613.1,525.7 613.6,526.7 613.8,526.6 614.3,525.2 615.0,526.7 615.5,526.6 615.7,525.7 616.2,525.3 616.5,526.3 617.4,526.6 617.7,526.3 618.2,526.3 618.4,526.9 618.7,526.8 618.9,527.4 619.1,526.9 619.4,527.0 619.6,526.1 620.4,527.4 620.6,527.5 620.8,527.1 621.3,527.4 621.6,527.1 621.8,527.2 622.0,526.4 622.3,526.5 623.0,528.6 623.3,528.8 624.0,527.2 625.0,528.6 625.4,528.6 625.7,527.6 626.4,528.8 626.7,528.8 626.9,528.4 627.1,528.8 627.4,528.0 627.6,528.1 627.9,527.7 628.6,528.6 628.8,528.6 629.3,528.0 629.6,528.7 629.8,528.6 630.0,529.0 630.3,528.7 630.5,529.0 630.8,529.0 631.0,528.3 631.5,529.0 631.7,528.9 632.0,528.4 633.0,529.9 633.2,529.0 633.7,528.8 633.9,530.0 634.7,529.4 634.9,530.0 635.4,529.9 635.6,528.8 636.1,528.1 636.4,528.7 636.6,528.5 636.8,529.5 637.1,529.4 637.3,529.8 637.6,528.8 637.8,528.8 638.5,528.4 639.0,529.6 639.3,529.1 639.5,529.3 639.7,528.9 640.0,529.5 640.2,528.4 640.7,528.9 641.0,529.8 641.4,529.0 641.7,528.1 642.9,530.1 643.4,529.7 643.6,528.8 643.9,528.8 644.4,529.3 644.6,529.9 644.8,529.3 645.1,529.5 645.3,529.1 645.8,530.2 646.0,530.1 646.3,530.3 646.8,530.4 647.3,529.6 647.5,529.7 648.0,529.4 648.2,529.7 648.5,529.3 648.7,529.7 649.0,529.7 649.2,530.4 649.7,530.8 649.9,530.9 650.2,530.6 650.7,530.7 650.9,531.5 651.4,531.0 651.6,530.3 652.3,531.1 653.1,529.7 653.6,530.7 653.8,531.7 654.0,531.8 654.8,530.6 655.3,530.8 656.0,531.6 656.2,531.2 657.0,531.6 657.2,531.5 657.4,530.8 657.7,531.1 658.4,530.9 658.9,531.1 659.1,531.5 659.4,531.5 660.1,530.2 660.3,531.0 660.6,530.7 661.8,532.2 662.5,531.2 663.0,531.4 663.3,532.1 663.5,535.3 663.7,531.7 664.0,531.2 664.5,535.3 664.7,534.7 665.0,531.1 665.2,532.5 665.4,531.4 665.7,531.9 665.9,534.7 666.2,532.1 666.4,534.0 666.9,531.3 667.1,533.8 667.6,526.8 668.1,536.9 668.3,537.0 668.6,538.0 669.6,528.9 669.8,529.4 670.3,536.2 670.8,530.4 671.3,532.3 671.5,535.3 671.7,535.0" fill="none" stroke="#333" stroke-width="0.55" clip-path="url(#ci)" stroke-linejoin="round"/>
<polyline points="502.3,521.3 502.8,521.8 503.0,521.2 503.8,522.8 504.2,521.8 505.0,522.5 505.5,521.6 505.9,521.6 506.9,523.6 507.1,522.7 507.4,522.4 507.6,522.4 507.9,522.8 508.8,522.7 509.1,522.0 509.3,522.5 509.8,522.1 510.1,522.3 510.3,521.5 510.5,522.3 510.8,521.6 511.0,522.4 511.3,522.2 511.5,522.4 512.0,523.1 512.2,523.0 512.5,522.2 512.7,522.7 513.0,522.6 513.2,522.9 513.5,522.4 513.7,522.6 514.2,522.0 514.4,522.1 514.7,522.7 515.1,522.5 515.4,523.0 515.9,523.1 516.8,522.8 517.8,521.3 518.1,521.8 518.3,521.8 518.5,522.3 518.8,522.2 519.0,522.7 519.8,521.9 520.2,522.6 520.5,522.1 521.0,521.9 521.2,522.5 521.9,522.4 522.2,522.3 522.4,522.8 523.1,521.5 523.9,522.3 524.1,522.9 524.6,523.3 524.8,522.0 525.1,522.1 525.8,523.0 526.1,522.4 526.5,522.1 526.8,522.4 527.8,521.2 528.2,521.9 528.5,523.0 528.7,523.1 529.2,522.1 529.9,522.6 530.9,521.1 531.1,521.0 531.4,520.2 531.6,520.5 532.1,520.5 532.4,520.1 533.3,521.7 533.8,521.1 534.3,521.4 535.0,520.6 535.3,521.3 535.5,521.0 535.8,521.3 536.7,520.2 537.0,520.4 537.2,520.1 537.4,520.2 538.4,518.5 538.9,518.1 539.1,519.1 539.6,518.8 540.1,517.6 540.4,518.1 540.6,517.9 541.6,518.1 542.8,515.1 543.3,515.1 543.8,516.1 544.5,513.9 544.7,513.9 545.0,514.4 545.4,514.2 545.7,512.7 545.9,512.9 546.2,511.9 546.4,512.2 546.7,511.0 547.1,509.8 547.6,509.3 548.1,507.7 548.4,507.7 548.8,506.6 549.3,504.6 549.6,504.6 549.8,504.9 550.5,503.1 550.8,503.0 551.0,503.2 551.3,502.7 551.5,502.8 552.2,500.4 552.5,500.4 552.7,500.1 555.1,494.7 555.4,494.8 556.1,492.2 557.8,488.4 558.5,485.7 559.0,485.5 559.5,484.9 559.8,483.8 560.0,483.9 560.5,485.1 560.7,485.0 561.2,483.5 561.4,483.4 561.7,483.7 562.9,483.4 563.1,483.8 563.9,483.2 564.1,483.6 564.4,483.5 565.3,482.8 566.1,480.3 566.3,479.9 566.5,480.0 567.0,478.4 567.7,479.4 568.2,477.2 568.7,476.6 569.9,472.7 570.7,471.4 570.9,471.5 571.6,468.6 572.4,467.0 572.8,466.8 573.3,467.5 573.6,467.5 574.1,468.7 574.3,470.6 576.2,478.8 577.4,487.9 580.4,520.6 581.6,529.4 582.1,531.7 582.8,532.9 583.3,534.7 584.0,536.3 584.2,536.7 584.5,536.6 584.7,537.0 585.2,536.8 585.9,538.2 586.4,537.4 587.1,538.9 587.9,536.3 589.1,535.7 589.6,535.0 589.8,534.3 590.3,534.5 590.5,534.2 590.8,534.4 591.0,534.1 591.3,534.8 591.5,533.8 592.5,531.9 592.7,531.7 593.2,533.5 594.2,531.5 594.7,529.7 594.9,530.2 595.4,530.5 595.9,530.1 596.1,530.2 596.4,529.7 597.1,530.7 597.6,529.4 598.3,529.3 598.5,528.8 598.8,528.9 599.0,528.8 599.7,527.4 600.0,527.8 600.5,528.1 601.2,526.6 601.4,526.6 601.7,525.7 601.9,526.5 602.2,525.9 602.4,526.7 602.7,526.6 603.1,527.2 603.4,526.1 603.6,526.6 603.9,525.8 604.1,525.9 604.6,525.4 604.8,526.0 605.3,525.6 605.8,525.7 606.0,526.2 606.3,525.9 606.5,526.1 606.8,525.6 607.5,526.4 608.2,525.3 608.5,525.6 608.7,525.1 609.0,525.8 609.2,525.9 609.4,525.8 609.7,525.0 609.9,525.0 610.9,526.7 612.1,525.8 612.6,526.8 612.8,526.7 613.1,525.7 613.3,525.9 613.6,525.8 613.8,526.2 614.0,525.9 614.8,527.1 615.0,526.7 615.5,526.6 615.7,526.3 616.2,526.3 616.7,527.3 617.2,526.0 617.4,525.8 617.9,526.5 618.2,526.2 619.1,526.6 620.4,527.7 620.6,527.7 621.1,526.9 621.8,527.7 622.0,526.8 622.3,527.0 622.5,526.6 622.8,526.7 623.3,526.3 623.7,526.7 624.0,527.5 624.2,527.7 625.0,527.1 625.7,528.3 625.9,528.3 626.2,527.8 626.7,528.2 626.9,528.7 627.4,527.5 627.6,527.5 628.1,527.8 628.4,527.3 628.8,528.5 629.8,528.2 630.0,527.7 630.8,528.5 631.0,527.8 631.3,528.3 631.5,528.1 632.0,529.0 632.5,529.2 632.7,528.7 633.0,529.2 633.7,527.8 633.9,528.0 634.2,528.6 634.7,528.5 635.1,529.7 635.4,529.9 635.9,529.0 636.1,528.8 636.4,528.9 636.6,528.6 636.8,528.9 637.1,528.6 637.6,529.8 638.3,528.4 639.3,529.1 639.5,530.1 639.7,529.8 640.0,529.9 640.2,529.6 640.7,529.6 641.0,529.2 641.2,530.1 641.4,529.8 641.7,529.9 641.9,529.6 642.2,529.9 642.7,529.6 643.1,529.9 643.9,529.6 644.1,529.8 644.4,529.0 644.6,529.1 644.8,529.4 645.1,530.8 645.6,531.2 645.8,530.0 646.0,530.0 646.3,529.1 647.0,530.7 647.3,530.2 647.7,529.9 648.2,530.1 648.5,530.4 649.4,530.2 650.2,530.6 650.7,529.3 651.1,529.8 651.4,531.0 652.1,530.3 652.3,530.6 652.8,530.7 653.6,530.4 654.0,531.4 654.5,531.9 655.3,531.5 655.5,531.2 656.0,531.6 656.2,530.9 657.2,531.1 657.4,530.7 657.7,531.5 657.9,531.2 658.4,531.3 658.7,532.0 658.9,532.2 659.4,531.1 659.6,531.5 659.9,531.3 660.1,531.9 660.3,531.8 660.6,532.0 661.1,531.5 661.3,531.5 661.6,532.3 662.0,532.0 662.5,531.4 662.8,531.5 663.0,531.3 663.5,534.1 663.7,531.1 664.0,531.1 664.5,533.4 665.0,529.0 665.2,531.3 665.4,531.5 666.2,529.4 666.4,533.9 666.7,534.2 666.9,529.7 667.1,530.0 667.9,533.7 668.3,533.3 668.6,535.4 669.1,531.6 669.3,531.9 669.6,529.5 669.8,529.4 670.0,528.6 670.5,533.0 670.8,534.0 671.0,532.9 671.3,533.3 671.7,535.9" fill="none" stroke="#333" stroke-width="0.55" clip-path="url(#ci)" stroke-linejoin="round"/>
<polyline points="502.3,521.4 502.5,521.5 502.8,521.2 503.0,521.4 503.3,521.1 503.8,521.3 504.0,522.1 504.2,521.6 504.5,521.7 504.7,521.7 505.0,522.2 505.7,521.3 505.9,521.4 506.4,522.6 506.7,522.7 507.1,520.7 507.4,520.7 507.9,522.4 508.6,521.2 509.1,522.2 509.6,522.6 509.8,521.8 510.1,522.0 510.3,521.6 510.5,522.2 510.8,521.4 511.5,522.7 512.2,521.5 513.2,522.5 513.7,522.3 513.9,521.9 514.2,522.3 514.7,522.4 515.4,523.6 515.9,522.5 516.1,522.2 516.4,522.3 516.6,522.0 516.8,521.9 517.3,523.2 518.1,521.7 518.3,522.6 518.8,522.0 519.3,522.0 519.5,522.4 519.8,522.0 520.2,522.3 520.5,521.4 520.7,521.5 521.0,521.2 521.2,521.8 521.5,521.4 521.7,522.0 521.9,521.7 522.2,522.3 522.4,521.9 523.1,521.5 523.4,522.1 524.1,521.8 524.8,522.9 525.1,522.9 525.8,521.2 526.1,521.8 526.5,522.1 527.3,521.5 527.5,521.6 528.0,522.5 528.2,522.5 529.2,521.2 529.7,521.2 530.4,520.6 530.9,521.4 531.4,521.4 531.6,521.1 531.9,521.1 532.1,521.5 532.6,521.7 533.1,520.0 533.8,521.6 534.1,520.7 534.3,520.9 534.5,520.6 534.8,520.8 535.0,520.2 535.3,520.3 535.5,519.4 536.0,518.7 536.5,519.8 536.7,519.4 537.2,520.1 537.9,518.8 538.2,519.0 538.7,517.8 539.1,518.5 539.4,518.4 539.6,518.0 539.9,518.0 540.1,517.1 540.8,517.3 541.3,515.9 541.6,516.2 542.1,516.0 543.0,515.0 543.5,513.7 544.2,514.5 545.0,512.4 545.7,512.5 546.4,509.2 546.7,509.9 547.1,510.0 547.4,509.7 548.1,506.4 548.6,505.8 550.1,501.3 550.3,501.3 550.5,500.8 551.0,499.2 551.3,498.9 551.5,499.7 552.0,500.0 552.5,499.1 553.2,495.2 553.4,494.8 553.7,495.4 553.9,494.9 554.2,494.9 554.9,491.6 555.1,491.3 555.6,491.7 555.9,491.6 557.1,486.8 557.3,486.6 557.6,485.5 558.1,485.0 558.5,483.9 558.8,482.5 559.3,481.3 559.5,481.8 559.8,481.5 560.0,482.3 560.7,480.5 561.2,482.2 561.4,482.4 562.2,479.8 562.7,479.7 562.9,479.4 563.1,480.0 563.6,480.0 564.1,478.9 564.6,479.1 564.8,480.3 565.1,480.3 565.3,479.9 566.1,477.5 566.5,476.5 566.8,476.8 567.0,476.1 567.3,476.2 568.0,473.4 568.2,473.4 568.5,473.8 569.4,470.3 569.7,470.1 570.4,468.0 571.1,467.0 571.6,464.2 572.4,462.2 572.8,461.8 573.1,461.8 573.3,461.3 573.6,461.6 573.8,462.6 574.3,465.5 575.0,468.1 577.0,480.0 577.9,489.3 579.9,515.2 580.8,523.9 582.1,531.0 583.0,532.9 584.0,536.5 584.2,536.9 585.0,537.1 585.2,537.6 585.4,537.1 585.7,537.3 585.9,537.2 586.2,537.6 586.7,537.7 586.9,537.6 587.6,536.7 587.9,536.9 588.4,536.9 589.1,535.2 589.6,535.2 590.3,533.7 590.5,534.1 590.8,533.9 591.0,534.0 591.3,532.9 591.7,533.1 592.0,533.6 592.2,533.2 592.7,533.0 593.2,532.0 593.7,532.1 594.2,530.6 594.4,530.6 594.9,531.5 595.1,531.1 595.4,531.7 595.6,531.2 595.9,531.4 596.1,530.1 597.1,528.9 597.6,529.3 597.8,529.8 598.5,528.3 599.3,529.5 599.7,528.3 600.0,527.0 600.2,527.3 600.5,527.0 600.7,528.1 601.2,527.1 601.4,526.0 601.9,527.1 602.2,527.3 602.4,527.0 603.4,526.7 603.9,526.8 604.1,526.2 604.4,526.4 604.6,526.3 604.8,526.3 605.3,525.0 605.6,525.2 605.8,524.8 606.5,525.8 606.8,526.7 607.0,526.5 607.3,526.9 607.5,526.2 607.7,526.2 608.0,525.6 608.2,525.8 608.5,525.4 608.7,525.6 609.0,525.1 609.2,525.4 609.4,524.9 609.7,525.5 609.9,525.3 610.2,525.6 610.7,525.6 610.9,525.9 611.6,524.9 612.1,526.1 612.6,525.3 612.8,525.2 613.3,526.5 613.6,526.0 614.0,525.6 614.3,526.3 614.5,525.8 615.0,525.7 615.5,527.0 616.2,525.1 616.7,525.4 617.0,526.0 617.4,526.6 618.2,526.5 618.9,527.1 619.1,527.0 619.6,527.2 619.9,527.0 620.1,526.1 620.4,526.1 620.8,527.4 621.1,527.5 621.3,527.2 621.8,528.3 622.0,528.4 622.3,528.4 622.8,527.4 623.3,527.1 624.2,528.4 625.0,527.7 625.7,527.9 625.9,527.6 627.1,528.5 627.4,528.0 627.6,528.3 627.9,528.2 628.1,528.9 628.6,528.4 628.8,527.7 629.6,528.7 629.8,528.3 630.3,527.9 631.3,529.4 631.5,528.8 631.7,529.1 632.0,528.4 632.2,528.8 632.5,528.6 633.0,529.0 633.2,529.4 633.4,529.0 633.7,529.4 633.9,528.2 634.2,528.6 634.4,528.3 634.7,528.8 634.9,528.8 635.4,529.4 635.6,529.4 635.9,528.2 636.1,527.7 636.4,527.6 636.6,529.3 636.8,529.1 637.1,529.2 637.3,528.4 638.3,529.1 638.5,529.5 638.8,529.5 639.3,528.0 639.5,527.9 640.7,530.1 641.0,529.4 641.4,528.9 641.7,529.6 642.4,529.4 642.9,529.9 643.4,529.7 643.6,529.3 644.6,530.2 645.6,529.9 645.8,530.0 646.0,529.4 646.3,529.4 646.8,530.6 647.0,530.6 647.3,530.0 647.5,530.0 647.7,530.6 648.0,530.2 648.2,530.3 648.5,529.8 649.0,529.7 649.2,529.4 649.4,530.5 649.7,530.4 649.9,530.7 650.2,530.0 650.4,530.4 651.1,530.0 651.6,530.5 651.9,530.0 652.3,530.6 652.6,531.3 652.8,531.3 653.1,530.6 653.3,530.6 653.6,530.6 653.8,531.1 654.8,529.9 655.0,530.8 655.5,530.5 655.7,529.7 656.5,531.3 656.7,531.1 657.4,531.2 657.7,531.0 657.9,531.7 658.4,532.1 659.4,531.2 659.6,530.7 660.1,531.1 660.3,531.9 660.8,531.8 661.3,532.9 661.6,533.0 662.0,531.3 662.5,531.0 662.8,531.5 663.0,530.8 663.3,526.4 663.5,525.8 663.7,531.9 664.0,532.5 664.2,532.0 664.5,530.0 664.7,530.2 665.2,533.9 665.4,534.3 666.2,529.2 666.4,529.4 666.9,524.9 667.4,535.7 667.6,532.2 667.9,531.4 668.1,537.2 668.3,537.9 668.8,533.1 669.1,533.3 669.3,532.9 669.8,528.9 670.0,528.9 670.8,535.9 671.0,536.2 671.5,534.5 671.7,531.1" fill="none" stroke="#333" stroke-width="0.55" clip-path="url(#ci)" stroke-linejoin="round"/>
<polyline points="502.3,516.4 502.5,517.1 503.3,516.3 503.8,517.3 504.2,516.2 504.5,516.1 505.0,517.1 505.7,516.8 505.9,517.6 506.4,518.0 506.7,517.4 507.6,517.6 507.9,517.5 508.4,516.6 508.8,516.2 509.3,516.6 509.6,516.2 509.8,516.1 510.1,516.4 510.3,517.5 510.5,517.4 511.0,517.8 511.5,517.3 511.8,516.8 512.0,517.1 512.5,516.8 512.7,517.4 513.2,517.6 513.5,517.1 513.9,517.9 514.9,517.5 515.1,517.8 515.4,517.3 515.9,517.0 516.4,517.5 517.1,516.2 517.3,516.6 517.6,516.6 517.8,517.5 518.1,517.9 518.3,517.9 518.5,517.8 519.0,516.1 519.3,516.0 519.5,516.2 519.8,517.0 520.0,516.5 520.7,518.1 521.0,517.6 521.2,517.6 521.5,516.5 521.7,517.0 521.9,516.4 522.2,517.2 522.4,517.0 522.7,517.5 522.9,516.5 523.1,516.7 523.4,516.0 523.6,516.6 523.9,516.4 524.1,517.0 524.4,516.8 525.1,517.9 525.3,517.1 526.3,515.5 527.0,517.5 527.5,516.6 528.0,516.3 528.5,517.1 528.7,517.1 529.0,516.7 529.2,516.6 529.4,516.8 529.7,516.8 529.9,515.9 530.4,516.0 530.7,516.8 530.9,517.1 531.4,516.9 531.6,516.3 532.6,516.6 532.8,515.7 533.1,515.5 533.3,515.7 533.6,515.7 534.1,514.4 534.5,515.4 535.3,515.2 535.8,516.1 536.2,516.6 536.5,515.7 536.7,515.7 537.0,515.1 537.2,515.5 537.4,514.8 537.9,515.1 538.7,513.5 538.9,513.8 539.6,513.0 540.4,513.7 541.1,512.7 542.3,509.8 542.5,510.2 543.0,509.4 543.5,509.2 544.0,508.4 544.2,508.3 544.5,509.2 544.7,508.7 545.0,509.0 545.7,507.9 545.9,506.4 546.2,506.3 546.9,504.7 547.1,503.1 547.6,502.2 547.9,502.5 548.8,499.8 549.1,499.8 549.3,499.6 550.8,496.0 551.0,496.1 551.3,495.8 551.8,494.6 552.0,494.4 552.2,494.5 552.5,494.1 553.2,491.3 553.4,491.4 553.7,491.2 554.7,488.8 554.9,487.6 555.6,486.5 556.6,483.1 557.1,482.3 557.3,481.4 557.6,481.4 558.1,479.9 558.3,478.3 558.5,478.6 558.8,478.3 559.0,478.4 559.3,477.1 560.0,476.5 560.5,475.6 560.7,476.4 561.2,475.1 561.4,475.1 561.7,475.4 561.9,477.0 562.7,475.0 562.9,475.7 563.1,475.7 563.4,476.2 563.6,476.0 563.9,476.8 564.1,476.6 564.8,475.1 565.1,475.6 565.3,475.4 565.6,475.4 566.3,472.5 566.5,472.4 567.0,471.2 567.5,471.1 567.7,470.7 568.5,467.8 570.9,463.1 571.6,459.6 572.1,458.8 572.8,456.6 573.1,457.8 573.3,457.2 573.6,458.1 573.8,458.1 574.5,460.9 576.7,474.6 578.4,491.2 579.9,512.0 581.6,528.2 582.1,530.9 583.0,533.5 583.7,536.4 584.2,535.8 584.7,537.3 585.0,537.6 585.4,537.6 585.7,538.2 585.9,537.6 586.2,538.2 586.4,536.8 586.7,537.0 586.9,536.5 587.1,537.2 587.4,537.4 588.1,535.9 588.4,536.1 588.6,535.7 588.8,535.9 589.6,533.9 589.8,533.8 590.1,534.4 590.5,534.6 591.0,533.9 591.7,533.9 592.2,533.2 592.7,531.9 593.2,531.5 593.4,530.7 593.7,530.7 593.9,530.5 594.2,531.2 594.7,531.1 595.1,530.5 595.9,530.5 596.6,530.0 596.8,530.2 597.6,528.8 598.3,529.1 598.8,527.5 599.3,528.3 599.5,528.5 599.7,528.4 600.0,528.6 600.7,526.4 601.2,526.5 601.4,527.5 601.7,526.9 601.9,527.2 602.2,526.8 602.4,527.3 603.4,526.2 603.6,526.6 603.9,526.6 604.1,526.3 604.4,527.1 604.6,527.1 604.8,527.3 605.1,526.3 605.3,526.1 605.6,526.4 606.3,524.8 606.8,524.7 607.3,525.4 607.5,524.9 608.2,526.0 608.7,525.2 609.2,525.1 609.4,525.9 609.9,525.2 610.2,524.3 611.1,525.9 611.6,525.4 612.6,526.1 612.8,525.5 613.1,525.9 613.3,525.7 613.6,526.4 613.8,525.6 614.0,525.4 614.8,526.6 615.0,525.8 615.7,526.5 616.5,526.3 616.7,526.4 617.0,527.1 617.2,526.6 617.4,527.3 617.7,527.1 617.9,527.4 618.2,527.2 618.7,527.6 618.9,526.6 619.4,527.2 619.6,528.2 620.1,527.0 620.6,526.5 620.8,527.0 621.1,526.8 621.8,528.5 622.5,528.0 622.8,527.2 623.0,527.1 623.5,528.3 623.7,528.1 624.0,527.3 624.2,527.3 624.7,528.4 625.2,527.7 625.4,527.8 625.7,528.4 626.2,528.6 626.4,528.1 626.7,528.2 627.4,527.7 627.6,527.7 628.1,529.7 628.8,527.7 629.1,527.8 629.6,527.4 630.3,530.0 631.0,528.3 631.3,528.6 631.7,528.6 632.2,528.1 632.5,528.7 633.0,528.7 633.2,527.9 633.7,527.8 634.4,529.7 634.7,529.8 634.9,528.8 635.1,528.5 635.4,528.5 635.6,529.4 635.9,529.6 636.4,528.9 636.6,529.6 636.8,529.6 637.1,529.5 637.6,528.5 637.8,529.3 638.0,529.4 638.3,529.7 638.5,529.2 638.8,529.1 639.5,529.3 639.7,529.7 640.2,528.7 640.5,528.7 641.0,529.8 641.2,529.9 641.4,529.6 641.7,529.6 641.9,529.4 642.2,529.5 642.4,528.9 643.1,530.1 643.4,530.1 643.6,530.4 644.1,530.4 644.8,528.7 645.6,530.6 645.8,529.9 646.3,529.8 646.8,530.3 647.0,530.1 647.3,530.5 647.5,530.4 647.7,530.8 648.5,529.5 649.0,530.0 649.2,530.7 649.4,530.3 649.7,530.4 650.2,530.2 650.4,530.4 650.7,530.1 650.9,530.9 651.1,531.0 651.4,530.7 651.6,529.8 652.3,530.2 652.6,529.6 653.1,529.8 653.3,530.6 653.6,530.6 653.8,531.0 654.0,530.6 654.8,532.0 655.3,530.6 655.7,530.7 656.0,531.8 656.2,532.1 656.7,531.6 657.0,530.9 657.2,531.6 657.4,530.6 657.9,531.1 658.4,530.1 659.1,532.0 659.4,530.9 659.6,531.2 659.9,531.1 660.1,531.6 660.3,531.6 660.8,532.4 661.1,531.7 661.3,531.9 661.6,531.5 661.8,532.4 662.5,531.1 663.0,531.9 663.3,534.6 663.5,531.6 664.0,529.3 664.2,529.8 664.5,533.4 664.7,533.1 665.2,530.2 665.7,533.3 665.9,529.6 666.4,533.8 666.9,531.3 667.1,532.3 667.4,531.2 667.9,533.1 668.1,532.1 668.3,532.1 668.8,537.4 669.3,529.9 669.8,538.4 670.0,531.5 670.3,531.8 670.8,530.7 671.0,534.2 671.3,534.1 671.5,535.2 671.7,534.9" fill="none" stroke="#333" stroke-width="0.55" clip-path="url(#ci)" stroke-linejoin="round"/>
<polyline points="502.3,519.8 502.5,519.6 503.3,520.3 504.0,519.9 504.2,520.7 504.7,521.4 505.0,520.8 505.2,521.0 505.5,520.9 505.7,521.4 506.4,520.1 506.9,520.7 507.4,520.4 507.9,520.9 508.6,520.8 509.3,521.3 510.1,522.1 510.8,521.4 511.3,521.4 511.8,520.8 512.5,521.0 513.5,521.0 514.4,521.2 515.1,521.1 515.4,521.5 515.6,521.4 516.4,520.8 516.6,520.9 516.8,520.0 517.1,521.0 517.3,520.8 517.6,521.5 517.8,521.1 518.3,521.4 518.8,521.3 519.3,520.6 519.5,520.5 520.0,521.3 520.7,520.6 521.0,520.8 521.2,520.6 521.9,521.1 522.2,520.9 522.4,521.1 522.7,520.9 523.4,521.4 523.6,521.9 523.9,521.6 524.1,521.6 525.1,519.9 525.6,521.0 525.8,521.1 526.1,520.8 526.5,521.4 527.5,520.8 528.0,520.3 528.7,520.7 529.0,520.5 529.2,520.7 529.4,520.4 529.7,520.5 529.9,519.9 530.2,520.2 530.9,519.4 531.1,519.9 531.6,520.3 531.9,520.1 532.1,520.8 532.8,519.6 533.1,520.1 533.8,518.6 534.5,519.7 535.3,518.6 535.8,519.0 536.2,518.5 536.7,518.7 537.0,518.4 537.4,518.5 538.2,517.6 538.4,518.3 538.7,518.3 539.4,516.4 540.4,517.7 541.3,514.8 541.6,514.6 541.8,514.8 542.3,514.9 542.5,514.5 543.0,514.3 544.0,512.6 544.5,512.4 545.2,511.4 546.2,508.4 546.4,508.8 546.9,507.9 547.1,506.9 547.6,506.2 548.4,504.2 548.6,503.8 548.8,504.0 549.3,503.5 550.5,499.8 550.8,499.4 551.5,499.5 552.2,496.7 553.7,494.0 554.4,491.6 554.9,490.8 555.1,490.8 555.9,488.4 556.1,488.4 556.4,487.4 556.6,487.2 557.6,483.8 559.3,479.0 560.0,478.5 560.5,479.0 560.7,479.0 561.4,477.1 562.2,478.4 562.7,477.6 563.4,478.4 563.6,478.1 563.9,478.7 564.4,478.1 564.6,477.4 564.8,477.6 565.1,477.5 565.8,476.3 566.5,474.4 566.8,474.5 567.5,472.8 568.0,472.5 568.7,468.9 569.0,468.8 569.9,466.6 571.1,462.9 571.6,462.6 572.4,459.3 573.1,458.9 573.3,459.1 574.8,464.8 576.7,476.1 577.7,485.7 580.1,516.6 580.6,521.2 581.8,529.0 583.7,535.4 584.7,536.6 585.0,536.4 585.4,537.4 585.9,537.5 586.2,537.3 586.4,537.5 587.1,537.0 587.6,537.3 587.9,537.2 588.6,535.6 589.1,535.7 589.3,535.3 589.8,533.5 590.5,534.3 592.2,532.0 592.5,532.8 592.7,532.5 593.0,532.7 593.2,532.4 593.7,532.2 593.9,531.4 594.4,530.7 595.4,531.1 596.4,529.3 596.6,529.9 597.3,528.9 597.8,529.1 599.0,527.2 599.3,527.8 599.7,527.6 600.0,526.9 600.2,526.8 600.5,527.2 600.7,527.0 601.0,527.3 601.2,526.5 601.4,526.6 601.7,526.5 601.9,526.9 602.9,525.9 603.4,525.9 604.1,524.6 604.4,524.6 604.8,525.7 605.3,525.3 605.6,525.5 606.0,525.3 606.3,525.0 606.5,525.0 606.8,525.4 607.3,525.3 608.0,524.4 608.5,525.2 609.0,525.1 609.2,524.8 609.9,525.4 610.2,525.3 610.4,524.7 610.7,524.7 610.9,524.8 611.1,525.4 611.6,525.3 612.4,524.5 612.8,525.2 613.8,525.1 614.5,525.5 614.8,525.2 615.5,526.4 616.0,525.6 616.5,526.0 617.2,526.2 617.4,526.4 618.9,526.6 619.1,526.3 619.4,526.2 620.1,527.7 620.8,526.1 621.6,527.3 622.3,527.3 622.8,526.4 623.0,526.5 623.5,527.6 624.2,527.4 624.5,527.7 625.2,527.2 626.2,527.1 626.4,527.5 626.9,527.2 627.6,528.2 628.6,528.0 628.8,527.4 629.3,527.4 629.6,527.9 629.8,527.8 630.5,528.2 631.0,527.7 631.3,527.6 631.5,527.9 631.7,527.6 632.0,528.1 632.2,528.1 632.5,528.9 632.7,528.7 633.0,528.9 633.2,528.2 633.4,528.3 633.7,527.6 633.9,527.8 634.2,527.5 634.4,528.1 635.1,527.7 635.4,527.7 636.1,529.4 636.8,528.7 637.6,529.3 638.3,528.4 638.5,528.5 639.3,530.0 639.5,529.9 640.0,528.5 640.5,528.3 641.2,529.2 641.9,528.8 642.4,529.6 642.7,529.6 642.9,530.0 643.1,529.3 643.4,529.5 643.6,528.9 644.1,529.0 644.8,531.1 645.3,530.3 645.6,529.3 645.8,529.2 646.3,529.3 647.3,530.1 647.7,529.6 648.0,530.5 648.2,530.3 648.5,530.8 648.7,530.0 649.0,530.0 649.2,529.6 649.9,530.1 650.4,529.9 650.7,530.3 651.1,530.0 651.4,529.2 652.3,530.7 653.1,530.8 653.6,530.6 654.0,529.7 654.3,529.8 654.5,530.4 655.3,531.3 656.0,530.3 656.7,530.1 657.7,531.6 658.2,531.5 658.4,531.1 659.1,531.8 659.6,530.7 660.1,531.1 660.3,531.7 660.8,530.7 661.3,531.2 661.6,531.7 662.3,531.4 663.0,532.0 663.3,531.9 663.5,532.1 664.5,531.2 664.7,531.8 665.0,531.7 665.2,532.3 665.4,532.0 665.7,532.0 666.2,531.0 666.9,531.9 667.1,531.7 667.4,531.8 667.6,531.4 667.9,532.2 668.1,531.5 668.3,532.1 668.6,531.2 668.8,531.6 669.1,530.8 669.8,532.0 670.5,532.3 671.3,531.2 671.7,531.4" fill="none" stroke="#2a2aff" stroke-width="0.85" clip-path="url(#ci)" stroke-linejoin="round"/>
<polyline points="502.3,516.9 502.5,517.3 502.8,516.8 503.3,516.5 504.0,517.9 504.5,516.2 505.0,517.6 505.5,517.6 505.7,517.3 505.9,519.0 506.2,519.1 506.4,518.5 506.7,519.5 506.9,519.6 507.1,519.2 507.6,519.7 508.4,517.8 509.1,517.4 509.6,519.0 509.8,518.9 510.3,518.3 510.5,517.7 511.3,518.1 511.5,517.9 511.8,518.0 512.2,517.2 513.2,519.7 513.7,517.1 514.2,519.1 514.4,519.1 515.1,518.2 515.9,517.7 516.1,517.7 516.4,518.3 516.8,518.2 517.1,519.1 517.3,519.1 518.3,517.1 518.5,517.2 518.8,518.7 519.3,517.1 519.5,518.4 520.0,517.4 520.2,518.4 520.7,518.3 521.0,518.8 521.2,518.8 521.7,517.6 522.2,518.4 522.9,516.9 523.1,517.6 523.6,516.3 524.1,518.5 524.4,518.3 524.6,518.4 525.1,517.6 525.6,518.1 525.8,517.7 526.3,518.5 527.0,516.6 527.3,517.0 527.8,516.5 528.0,517.6 528.2,517.6 528.5,517.4 528.7,516.5 529.2,517.4 529.4,516.8 529.9,516.9 530.2,517.5 530.4,517.3 530.9,518.5 531.4,516.5 531.6,517.5 531.9,517.3 532.1,516.2 532.4,517.2 532.6,517.0 533.1,515.4 533.3,515.4 533.6,516.0 533.8,516.0 534.1,515.7 534.3,515.9 535.0,514.5 535.3,514.7 535.5,515.4 535.8,515.3 536.0,514.7 536.5,516.7 537.0,515.4 537.7,514.6 537.9,513.7 538.2,513.6 538.4,514.2 538.9,512.3 539.1,513.3 539.6,512.2 539.9,512.9 540.4,512.8 540.8,512.0 541.3,511.9 541.6,511.4 542.1,511.4 542.5,508.8 543.0,508.5 543.5,507.3 543.8,507.7 544.2,506.2 544.5,506.7 545.0,506.1 545.4,504.0 545.7,504.3 546.7,501.4 546.9,502.2 547.1,502.1 547.6,497.7 548.1,496.0 548.4,495.4 548.6,495.4 548.8,495.6 549.3,493.5 549.8,493.3 550.1,491.8 550.3,491.1 550.5,491.0 550.8,489.2 551.3,489.2 551.5,487.7 552.0,486.7 552.5,487.5 553.4,481.0 554.2,481.8 554.7,479.8 555.6,477.6 556.6,472.5 556.8,472.1 557.1,472.1 557.8,467.3 558.1,467.5 558.8,465.5 559.3,463.2 560.0,462.4 560.5,463.5 560.7,463.1 561.2,461.1 561.7,462.9 562.2,461.9 562.4,461.9 562.9,460.4 563.1,460.9 563.4,460.4 563.6,460.4 563.9,462.0 564.1,462.3 564.4,461.6 564.6,461.4 564.8,461.9 565.3,460.5 565.6,460.5 565.8,459.8 566.1,459.8 566.5,457.5 567.0,456.7 568.2,452.1 568.7,451.2 569.0,451.1 569.4,447.5 569.7,447.7 570.2,446.5 571.1,442.6 571.4,442.5 571.9,439.2 572.1,438.5 572.4,438.5 572.6,437.9 572.8,436.7 573.1,436.7 573.8,439.3 574.8,446.1 575.0,447.2 575.3,447.2 575.5,448.7 575.7,452.6 576.2,454.9 576.5,458.3 577.0,460.8 580.6,520.6 581.3,526.0 581.6,526.3 582.1,530.3 582.5,532.5 582.8,532.5 583.3,531.9 583.7,534.7 584.0,534.0 584.5,536.0 584.7,535.3 585.0,535.5 585.2,536.6 585.7,536.0 586.2,538.8 586.7,536.7 586.9,537.1 587.1,536.2 587.4,536.5 588.1,534.5 588.4,534.7 588.6,535.8 588.8,536.1 589.3,534.7 589.6,534.7 590.1,532.7 590.3,533.4 590.5,533.1 590.8,533.5 591.3,532.1 591.5,532.1 592.0,533.4 592.5,531.5 592.7,531.3 593.0,530.7 593.2,530.5 593.4,531.3 594.2,530.1 594.9,530.4 595.4,529.3 595.6,530.2 596.1,528.2 596.4,528.8 596.6,528.7 597.1,527.6 597.3,527.4 597.6,528.3 597.8,528.5 598.1,526.7 598.3,526.4 598.5,527.3 598.8,527.1 599.0,527.6 599.5,525.7 600.0,526.8 600.5,525.7 600.7,526.5 601.0,526.4 601.2,525.6 601.4,525.5 601.7,526.1 602.2,524.7 602.7,526.8 602.9,527.2 603.1,525.9 603.4,525.3 603.6,525.2 604.1,523.8 604.8,525.7 605.1,525.7 605.8,523.3 606.0,525.0 606.3,525.6 606.5,524.1 606.8,523.8 607.3,523.9 607.7,525.1 608.0,525.1 608.5,525.5 608.7,524.3 609.0,524.0 609.2,524.6 609.7,524.1 610.2,524.9 610.7,523.8 610.9,524.0 611.4,523.2 612.1,525.0 612.4,524.8 612.6,523.0 613.1,524.4 613.3,524.5 613.6,524.1 613.8,524.2 614.0,525.8 614.3,525.8 614.8,525.0 615.5,523.7 616.0,525.4 616.5,524.6 616.7,525.4 617.2,525.4 617.4,525.4 617.7,524.8 617.9,525.6 618.2,525.8 618.4,525.3 618.7,525.2 619.1,525.5 619.6,524.6 619.9,525.5 620.1,525.4 620.6,526.2 620.8,524.9 621.1,525.3 621.6,524.7 622.0,527.4 622.3,527.4 622.5,526.5 622.8,526.4 623.3,526.6 623.5,527.1 623.7,527.0 624.0,526.4 624.5,526.4 625.0,525.7 625.2,526.9 625.4,526.2 625.7,526.1 625.9,527.3 626.2,526.4 626.7,527.5 626.9,526.4 627.4,526.9 627.6,526.3 628.1,528.4 628.6,526.6 628.8,527.1 629.1,527.1 629.3,526.2 629.6,527.1 630.0,526.3 630.8,528.0 631.3,526.1 631.5,527.4 631.7,527.4 632.2,528.2 632.7,527.8 633.0,527.1 633.4,528.5 633.7,528.4 633.9,527.9 634.2,526.9 634.9,528.7 635.4,527.7 635.6,528.3 636.1,526.7 636.6,527.4 637.1,529.5 637.6,526.3 637.8,526.3 638.3,528.6 638.8,527.0 639.0,527.2 639.3,528.4 639.7,528.5 640.5,529.2 640.7,528.2 641.0,528.2 641.7,529.5 641.9,529.7 642.4,528.1 643.1,529.8 644.1,528.3 644.4,528.6 644.6,527.9 644.8,527.8 645.1,528.9 645.8,529.6 646.5,528.5 646.8,528.5 647.5,529.5 648.0,529.3 648.2,529.6 648.5,529.2 649.0,529.1 649.2,527.7 649.4,528.0 649.7,529.1 650.2,528.8 650.7,530.7 650.9,530.2 651.1,530.4 651.4,529.6 651.6,529.4 652.1,530.2 652.6,529.0 653.6,529.6 654.0,529.3 654.5,530.6 655.0,530.1 655.3,529.2 655.5,529.2 655.7,530.2 656.0,530.1 656.2,529.4 656.5,530.4 656.7,530.1 657.2,530.0 657.4,529.0 657.9,532.3 658.2,532.1 658.7,529.3 658.9,531.2 659.1,531.3 659.4,530.0 659.9,531.4 660.3,530.2 660.8,531.8 661.3,529.2 661.6,529.7 661.8,531.2 662.0,530.4 662.8,531.3 663.0,530.7 663.3,527.0 663.5,530.5 663.7,525.7 664.0,526.5 664.2,530.3 664.7,529.4 665.0,528.2 665.2,529.4 665.4,535.2 665.9,529.4 666.4,533.1 666.9,526.0 667.1,527.9 667.6,538.4 668.1,534.6 668.6,528.0 668.8,532.8 669.1,533.8 669.3,528.2 669.6,526.6 669.8,529.8 670.0,529.4 670.3,531.3 670.5,536.4 671.0,531.2 671.5,528.5 671.7,532.6" fill="none" stroke="#ff2a2a" stroke-width="0.85" clip-path="url(#ci)" stroke-linejoin="round"/>
<rect x="502.3" y="418.2" width="172.9" height="138.8" fill="none" stroke="#6a6a6a" stroke-width="1"/>
<path d="M502.3 557v3 M519.59 557v3 M536.88 557v3 M554.17 557v3 M571.46 557v3 M588.75 557v3 M606.04 557v3 M623.33 557v3 M640.62 557v3 M657.91 557v3 M675.2 557v3 M510.94 557v2 M528.24 557v2 M545.52 557v2 M562.82 557v2 M580.11 557v2 M597.39 557v2 M614.69 557v2 M631.98 557v2 M649.27 557v2 M666.56 557v2" stroke="#6a6a6a" stroke-width="1" fill="none"/>
<text transform="translate(508.3,567) rotate(-45)" text-anchor="end" font-size="10.3">350</text>
<text transform="translate(525.59,567) rotate(-45)" text-anchor="end" font-size="10.3">400</text>
<text transform="translate(542.88,567) rotate(-45)" text-anchor="end" font-size="10.3">450</text>
<text transform="translate(560.17,567) rotate(-45)" text-anchor="end" font-size="10.3">500</text>
<text transform="translate(577.46,567) rotate(-45)" text-anchor="end" font-size="10.3">550</text>
<text transform="translate(594.75,567) rotate(-45)" text-anchor="end" font-size="10.3">600</text>
<text transform="translate(612.04,567) rotate(-45)" text-anchor="end" font-size="10.3">650</text>
<text transform="translate(629.33,567) rotate(-45)" text-anchor="end" font-size="10.3">700</text>
<text transform="translate(646.62,567) rotate(-45)" text-anchor="end" font-size="10.3">750</text>
<text transform="translate(663.91,567) rotate(-45)" text-anchor="end" font-size="10.3">800</text>
<text transform="translate(681.2,567) rotate(-45)" text-anchor="end" font-size="10.3">850</text>
<path d="M502.3 547.75h-3 M502.3 529.24h-3 M502.3 510.73h-3 M502.3 492.23h-3 M502.3 473.72h-3 M502.3 455.21h-3 M502.3 436.71h-3 M502.3 418.2h-3 M502.3 557h-2 M502.3 538.49h-2 M502.3 519.99h-2 M502.3 501.48h-2 M502.3 482.97h-2 M502.3 464.47h-2 M502.3 445.96h-2 M502.3 427.45h-2" stroke="#6a6a6a" stroke-width="1" fill="none"/>
<text x="495.6" y="551.75" text-anchor="end" font-size="10.3">−0.1</text>
<text x="495.6" y="533.24" text-anchor="end" font-size="10.3">0.0</text>
<text x="495.6" y="514.73" text-anchor="end" font-size="10.3">0.1</text>
<text x="495.6" y="496.23" text-anchor="end" font-size="10.3">0.2</text>
<text x="495.6" y="477.72" text-anchor="end" font-size="10.3">0.3</text>
<text x="495.6" y="459.21" text-anchor="end" font-size="10.3">0.4</text>
<text x="495.6" y="440.71" text-anchor="end" font-size="10.3">0.5</text>
<text x="495.6" y="422.2" text-anchor="end" font-size="10.3">0.6</text>
<text x="506.9" y="436.1" font-size="8.8" fill="#ff2a3a">After 3 h</text>
<text x="506.9" y="445.4" font-size="8.8" fill="#1a3cf0">After 12 min</text>
<text x="598.8" y="441.9" font-size="8.6" font-weight="bold">Without GC Film</text>
<rect x="602.8" y="449.2" width="59.0" height="50.30000000000001" fill="#d6f5fa"/>
<rect x="602.8" y="487" width="59.0" height="12.5" fill="#dcdcdc"/>
<rect x="609.1" y="474.4" width="5.1" height="12.6" fill="#ff0000"/>
<rect x="623.9" y="474.4" width="4.9" height="12.6" fill="#ff0000"/>
<rect x="637" y="474.4" width="5.0" height="12.6" fill="#ff0000"/>
<rect x="649.4" y="474.4" width="5.3" height="12.6" fill="#ff0000"/>
<rect x="599.8" y="449.2" width="3" height="50.30000000000001" fill="#2b2b2b"/>
<rect x="661.8" y="449.2" width="3.5" height="50.30000000000001" fill="#2b2b2b"/>
<text x="614.5" y="459.3" font-size="5.65" fill="#4f79d6">Artificial saliva</text>
<text x="618.9" y="491.1" font-size="5.65" fill="#ff2020">Lipid + DiL</text>
<text x="621.8" y="498.1" font-size="5.65" fill="#222">Agarose</text>
<text x="585.6" y="593" font-size="10.3" text-anchor="middle">Wavelength (nm)</text>
<text transform="translate(469,487.4) rotate(-90)" text-anchor="middle" font-size="10.3">Absorbance</text>
</svg></body></html>
